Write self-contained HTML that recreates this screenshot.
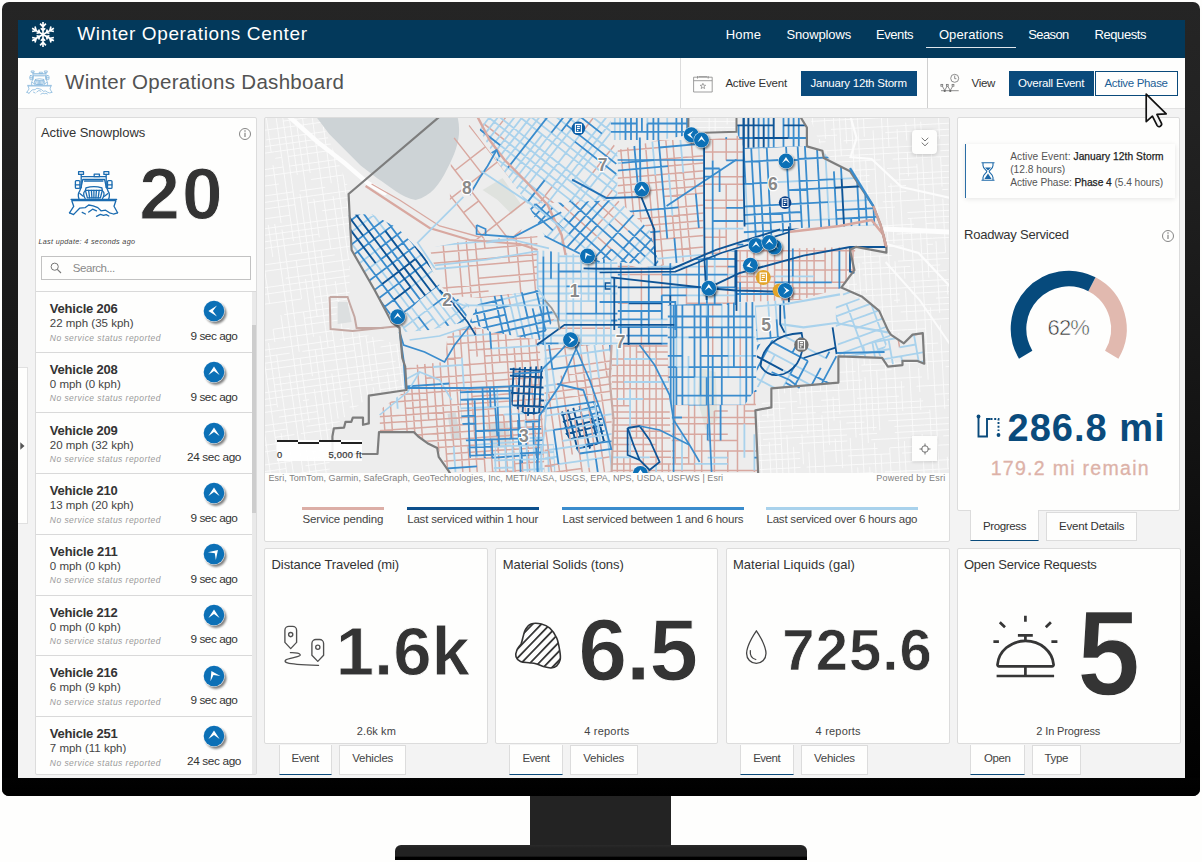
<!DOCTYPE html>
<html><head><meta charset="utf-8"><title>Winter Operations Dashboard</title>
<style>
html,body{margin:0;padding:0;}
body{width:1202px;height:862px;overflow:hidden;background:#fefefd;font-family:"Liberation Sans",sans-serif;}
#root{position:relative;width:1202px;height:862px;overflow:hidden;}
.t{position:absolute;white-space:pre;display:block;}
.card{background:#fefefd;border:1px solid #dcdcdc;box-sizing:border-box;border-radius:2px;}
.tab{background:#fefefd;border:1px solid #dcdcdc;border-top:none;box-sizing:border-box;}
.tab.on{border-bottom:1.5px solid #0a4b7c;}
svg{position:absolute;overflow:visible;}

</style></head>
<body>
<div id="root">
<div class="" style="position:absolute;left:2px;top:2px;width:1198px;height:794px;background:linear-gradient(#252525 0%,#222 15%,#131313 55%,#040404 88%,#000 100%);border-radius:7px;"></div>
<div class="" style="position:absolute;left:530px;top:796px;width:141px;height:49px;background:#232323;"></div>
<div class="" style="position:absolute;left:395px;top:845px;width:412px;height:15px;background:linear-gradient(#2a2a2a 0,#222 20%,#222 75%,#000 80%,#000 100%);border-radius:6px 6px 0 0;"></div>
<div class="" style="position:absolute;left:17.5px;top:20px;width:1167.0px;height:757.5px;background:#f3f3f3;overflow:hidden;"></div>
<div class="" style="position:absolute;left:17.5px;top:20px;width:1167.0px;height:37.5px;background:#03395b;"></div>
<svg style="left:30.600px;top:21px" width="24" height="27" viewBox="-12 -13.500 24 27"><g stroke="#fff" stroke-width="1.650" fill="none" stroke-linecap="butt">
<g id="arm"><path d="M0,0V-12.600M-2.900,-10.900L0,-7.800L2.900,-10.900M-2.200,-6.200L0,-3.900L2.200,-6.200"/></g>
<use href="#arm" transform="rotate(60)"/><use href="#arm" transform="rotate(120)"/><use href="#arm" transform="rotate(180)"/><use href="#arm" transform="rotate(240)"/><use href="#arm" transform="rotate(300)"/></g></svg>
<span class="t" style="left:77.30px;top:23.52px;font-size:19px;line-height:19px;color:#fff;letter-spacing:0.621px;">Winter Operations Center</span>
<span class="t" style="left:725.70px;top:27.50px;font-size:13px;line-height:13px;color:#fff;letter-spacing:0.204px;">Home</span>
<span class="t" style="left:786.40px;top:27.50px;font-size:13px;line-height:13px;color:#fff;letter-spacing:-0.121px;">Snowplows</span>
<span class="t" style="left:876.00px;top:27.50px;font-size:13px;line-height:13px;color:#fff;letter-spacing:-0.430px;">Events</span>
<span class="t" style="left:938.90px;top:27.50px;font-size:13px;line-height:13px;color:#fff;letter-spacing:0.090px;">Operations</span>
<span class="t" style="left:1028.20px;top:27.50px;font-size:13px;line-height:13px;color:#fff;letter-spacing:-0.599px;">Season</span>
<span class="t" style="left:1094.60px;top:27.50px;font-size:13px;line-height:13px;color:#fff;letter-spacing:-0.446px;">Requests</span>
<div class="" style="position:absolute;left:926.3px;top:46.8px;width:89.70000000000005px;height:1.2000000000000028px;background:#dfe6ec;"></div>
<div class="" style="position:absolute;left:17.5px;top:57.5px;width:1167.0px;height:51.5px;background:#fefefd;border-bottom:1px solid #e2e2e2;box-sizing:border-box;"></div>
<span class="t" style="left:65.00px;top:71.95px;font-size:20.5px;line-height:20.5px;color:#525252;letter-spacing:0.300px;">Winter Operations Dashboard</span>
<svg style="left:23.600px;top:68.200px" width="31.200" height="29.120" viewBox="0 0 60 56"><g fill="none" stroke="#86b7dc" stroke-width="1.500" stroke-linejoin="round" stroke-linecap="round">
<rect x="14.6" y="5.7" width="4.9" height="2.700"/><rect x="39.9" y="5.7" width="4.9" height="2.700"/>
<path d="M17.2,8.4V21.4M42.2,8.4V21.4M17.2,10.7H42.2"/><rect x="30.2" y="8.100" width="5.200" height="2.600"/>
<path d="M18.8,13.5H40.6L42.5,21.8M18.8,13.5L16.9,21.8M20.6,15.200H38.8"/>
<rect x="11.4" y="14.6" width="4.500" height="7.800" rx="1"/><rect x="43.5" y="14.6" width="4.500" height="7.800" rx="1"/>
<path d="M11.4,18.8h4.5M43.5,18.8h4.5"/>
<path d="M22,21.9Q29.9,19.200 37.9,21.9M22,21.9L21.4,24.4M37.9,21.9L38.3,24.4"/>
<path d="M21.4,24.4H38.3L36.4,31.8H23.4Z"/>
<path d="M24.6,24.4L25.6,31.8M27.4,24.4L27.9,31.8M29.9,24.4V31.8M32.4,24.4L31.9,31.8M35.2,24.4L34.2,31.8"/>
<path d="M16.9,21.8L15.5,25.5C13.800,27.5 14,30 15,33M20.8,25.200C19,26.500 19.5,30 21.200,32.500M42.800,21.800L44.200,25.500C45.900,27.500 45.700,30 44.700,33M38.900,25.200C40.700,26.500 40.200,30 38.500,32.500"/>
<path d="M15.800,27.600L19.200,30.200M43.900,27.600L40.500,30.200"/>
<path d="M7.100,33.4H52.6M7.800,34.7H51.9M7.800,34.7L9.7,40.3L5.5,46.8M51.9,34.7L50,40.3L53.6,46.8"/>
<path d="M5.500,46.800L9.700,48.600M9.700,48.400L15.600,42.200L21.400,41.600L24.700,39L29.200,39.900L33.800,41.600L37,44.800L41.600,44.200L45.500,46.800L49.400,48L53.600,46.800"/>
<path d="M24.700,46.100L28.600,43.200L32.500,44.800M18.200,46.400L21.400,48M32.500,50.300L36.400,48.400L39.600,49.400L42.200,48.700L44.800,50"/>
</g></svg>
<div class="" style="position:absolute;left:679.5px;top:57.5px;width:1.0px;height:50.5px;background:#dcdcdc;"></div>
<div class="" style="position:absolute;left:926.6px;top:57.5px;width:1.0px;height:50.5px;background:#cfcfcf;"></div>
<svg style="left:692px;top:73.500px" width="21" height="19" viewBox="0 0 21 19"><g fill="none" stroke="#8e8e8e" stroke-width=".85"><path d="M1.600,3.200h18.600v14.800h-18.600zM1.600,6.700h18.600M5.500,2v2.600M16.200,2v2.600M6.500,2.600h8.700"/><path d="M10.90,9.30L11.63,11.19L13.66,11.30L12.09,12.59L12.60,14.55L10.90,13.45L9.20,14.55L9.71,12.59L8.14,11.30L10.17,11.19Z" stroke-width=".8"/></g></svg>
<span class="t" style="left:725.40px;top:77.77px;font-size:11.5px;line-height:11.5px;color:#333;letter-spacing:-0.193px;">Active Event</span>
<div class="" style="position:absolute;left:800.6px;top:71.4px;width:116.0px;height:24.69999999999999px;background:#0a4a7b;"></div>
<span class="t" style="left:810.50px;top:77.87px;font-size:11.5px;line-height:11.5px;color:#fff;letter-spacing:-0.227px;">January 12th Storm</span>
<svg style="left:940px;top:73px" width="20" height="21" viewBox="0 0 20 21"><g fill="none" stroke="#7a7a7a" stroke-width=".85"><circle cx="14.700" cy="5.300" r="4"/><path d="M14.700,2.600V5.700H16.400"/><rect x=".9" y="11.400" width="1.800" height="1.800"/><rect x="6.400" y="11.400" width="1.800" height="1.800"/><rect x="12.100" y="11.400" width="1.800" height="1.800"/><path d="M2.400,13.300L4.700,17.400L7,13.300M7.800,13.300L10.300,17.400L12.700,13.300M1,17.700H18.700"/></g><circle cx="4.700" cy="18" r="1.100" fill="#666"/><circle cx="10.300" cy="18" r="1.100" fill="#666"/></svg>
<span class="t" style="left:971.50px;top:77.77px;font-size:11.5px;line-height:11.5px;color:#333;letter-spacing:-0.306px;">View</span>
<div class="" style="position:absolute;left:1008.7px;top:71.4px;width:85.29999999999995px;height:24.69999999999999px;background:#0a4a7b;"></div>
<span class="t" style="left:1018.00px;top:77.87px;font-size:11.5px;line-height:11.5px;color:#fff;letter-spacing:-0.211px;">Overall Event</span>
<div class="" style="position:absolute;left:1095.3px;top:71.4px;width:82.70000000000005px;height:24.69999999999999px;background:#fefefd;border:1.3px solid #0a4a7b;box-sizing:border-box;"></div>
<span class="t" style="left:1104.50px;top:77.87px;font-size:11.5px;line-height:11.5px;color:#1c5f96;letter-spacing:-0.330px;">Active Phase</span>
<div class="" style="position:absolute;left:17.5px;top:367.3px;width:10.8px;height:156.7px;background:#fefefd;border:1px solid #e0e0e0;border-left:none;box-sizing:border-box;"></div>
<svg style="left:19.500px;top:441.500px" width="5" height="8" viewBox="0 0 5 8"><path d="M0.300,0.300L4.500,4L0.300,7.700Z" fill="#555"/></svg>
<div class="card" style="position:absolute;left:34.8px;top:117px;width:222.5px;height:657.6px;"></div>
<span class="t" style="left:40.90px;top:126.10px;font-size:13px;line-height:13px;color:#333;letter-spacing:-0.025px;">Active Snowplows</span>
<svg style="left:238.1px;top:126.6px" width="14" height="14" viewBox="-7 -7 14 14"><circle r="5.500" fill="none" stroke="#777" stroke-width=".9"/><path d="M0,-1.200V3" stroke="#777" stroke-width="1.100"/><circle cy="-3" r=".75" fill="#777"/></svg>
<svg style="left:64px;top:166px" width="60" height="56" viewBox="0 0 60 56"><g fill="none" stroke="#1a6bb0" stroke-width="1.300" stroke-linejoin="round" stroke-linecap="round">
<rect x="14.6" y="5.7" width="4.9" height="2.700"/><rect x="39.9" y="5.7" width="4.9" height="2.700"/>
<path d="M17.2,8.4V21.4M42.2,8.4V21.4M17.2,10.7H42.2"/><rect x="30.2" y="8.100" width="5.200" height="2.600"/>
<path d="M18.8,13.5H40.6L42.5,21.8M18.8,13.5L16.9,21.8M20.6,15.200H38.8"/>
<rect x="11.4" y="14.6" width="4.500" height="7.800" rx="1"/><rect x="43.5" y="14.6" width="4.500" height="7.800" rx="1"/>
<path d="M11.4,18.8h4.5M43.5,18.8h4.5"/>
<path d="M22,21.9Q29.9,19.200 37.9,21.9M22,21.9L21.4,24.4M37.9,21.9L38.3,24.4"/>
<path d="M21.4,24.4H38.3L36.4,31.8H23.4Z"/>
<path d="M24.6,24.4L25.6,31.8M27.4,24.4L27.9,31.8M29.9,24.4V31.8M32.4,24.4L31.9,31.8M35.2,24.4L34.2,31.8"/>
<path d="M16.9,21.8L15.5,25.5C13.800,27.5 14,30 15,33M20.8,25.200C19,26.500 19.5,30 21.200,32.500M42.800,21.800L44.200,25.500C45.900,27.500 45.700,30 44.700,33M38.900,25.200C40.700,26.500 40.200,30 38.500,32.500"/>
<path d="M15.800,27.600L19.200,30.200M43.900,27.600L40.500,30.200"/>
<path d="M7.100,33.4H52.6M7.800,34.7H51.9M7.800,34.7L9.7,40.3L5.5,46.8M51.9,34.7L50,40.3L53.6,46.8"/>
<path d="M5.500,46.800L9.700,48.600M9.700,48.400L15.600,42.200L21.400,41.600L24.700,39L29.200,39.900L33.800,41.600L37,44.800L41.600,44.200L45.500,46.800L49.400,48L53.600,46.800"/>
<path d="M24.700,46.100L28.600,43.200L32.500,44.800M18.200,46.400L21.400,48M32.500,50.300L36.400,48.400L39.600,49.400L42.200,48.700L44.800,50"/>
</g></svg>
<span class="t" style="left:139.20px;top:157.11px;font-size:73px;line-height:73px;color:#333;font-weight:700;letter-spacing:2.297px;-webkit-text-stroke:.9px #fefefd;">20</span>
<span class="t" style="left:38.40px;top:238.11px;font-size:7.2px;line-height:7.2px;color:#444;font-style:italic;letter-spacing:0.331px;">Last update: 4 seconds ago</span>
<div class="" style="position:absolute;left:40.9px;top:255.7px;width:210.0px;height:24.600000000000023px;background:#fefefd;border:1px solid #c2c2c2;box-sizing:border-box;"></div>
<svg style="left:50px;top:262px" width="12" height="12" viewBox="0 0 12 12"><circle cx="4.700" cy="4.700" r="3.600" fill="none" stroke="#777" stroke-width="1"/><path d="M7.300,7.300L11,11" stroke="#777" stroke-width="1.100"/></svg>
<span class="t" style="left:72.80px;top:262.57px;font-size:11.5px;line-height:11.5px;color:#8a8a8a;letter-spacing:-0.454px;">Search...</span>
<div class="" style="position:absolute;left:35.8px;top:291px;width:220.5px;height:1px;background:#d9d9d9;"></div>
<svg width="0" height="0" style="left:0;top:0"><defs><filter id="blur1" x="-50%" y="-50%" width="200%" height="200%"><feGaussianBlur stdDeviation="1.300"/></filter></defs></svg>
<span class="t" style="left:49.80px;top:302.10px;font-size:13px;line-height:13px;color:#333;font-weight:700;letter-spacing:-0.212px;">Vehicle 206</span>
<span class="t" style="left:49.80px;top:318.17px;font-size:11.5px;line-height:11.5px;color:#444;">22 mph (35 kph)</span>
<span class="t" style="left:49.80px;top:333.60px;font-size:8.5px;line-height:8.5px;color:#9a9a9a;font-style:italic;letter-spacing:0.459px;">No service status reported</span>
<svg style="left:199.8px;top:297.30px" width="30" height="30" viewBox="-14 -14 30 30"><g transform="translate(0,0)"><circle cx="1.90" cy="2.30" r="10.60" fill="#000" opacity=".5" filter="url(#blur1)"/><circle r="10.80" fill="#f4f7fa" opacity=".85"/><circle r="10.3" fill="#0c70b6"/><path d="M3,-5.600L-5.600,0L3,5.600L-1.100,0Z" transform="rotate(0) scale(1.000)" fill="#fff"/></g></svg>
<span class="t" style="left:190.50px;top:330.91px;font-size:11.8px;line-height:11.8px;color:#333;letter-spacing:-0.471px;">9 sec ago</span>
<div class="" style="position:absolute;left:35.8px;top:351.7px;width:216.0px;height:1.0px;background:#d9d9d9;"></div>
<span class="t" style="left:49.80px;top:362.80px;font-size:13px;line-height:13px;color:#333;font-weight:700;letter-spacing:-0.212px;">Vehicle 208</span>
<span class="t" style="left:49.80px;top:378.87px;font-size:11.5px;line-height:11.5px;color:#444;">0 mph (0 kph)</span>
<span class="t" style="left:49.80px;top:394.30px;font-size:8.5px;line-height:8.5px;color:#9a9a9a;font-style:italic;letter-spacing:0.459px;">No service status reported</span>
<svg style="left:199.8px;top:358.00px" width="30" height="30" viewBox="-14 -14 30 30"><g transform="translate(0,0)"><circle cx="1.90" cy="2.30" r="10.60" fill="#000" opacity=".5" filter="url(#blur1)"/><circle r="10.80" fill="#f4f7fa" opacity=".85"/><circle r="10.3" fill="#0c70b6"/><path d="M3,-5.600L-5.600,0L3,5.600L-1.100,0Z" transform="rotate(90) scale(1.000)" fill="#fff"/></g></svg>
<span class="t" style="left:190.50px;top:391.61px;font-size:11.8px;line-height:11.8px;color:#333;letter-spacing:-0.471px;">9 sec ago</span>
<div class="" style="position:absolute;left:35.8px;top:412.4px;width:216.0px;height:1.0px;background:#d9d9d9;"></div>
<span class="t" style="left:49.80px;top:423.50px;font-size:13px;line-height:13px;color:#333;font-weight:700;letter-spacing:-0.212px;">Vehicle 209</span>
<span class="t" style="left:49.80px;top:439.57px;font-size:11.5px;line-height:11.5px;color:#444;">20 mph (32 kph)</span>
<span class="t" style="left:49.80px;top:455.00px;font-size:8.5px;line-height:8.5px;color:#9a9a9a;font-style:italic;letter-spacing:0.459px;">No service status reported</span>
<svg style="left:199.8px;top:418.70px" width="30" height="30" viewBox="-14 -14 30 30"><g transform="translate(0,0)"><circle cx="1.90" cy="2.30" r="10.60" fill="#000" opacity=".5" filter="url(#blur1)"/><circle r="10.80" fill="#f4f7fa" opacity=".85"/><circle r="10.3" fill="#0c70b6"/><path d="M3,-5.600L-5.600,0L3,5.600L-1.100,0Z" transform="rotate(90) scale(1.000)" fill="#fff"/></g></svg>
<span class="t" style="left:186.95px;top:452.31px;font-size:11.8px;line-height:11.8px;color:#333;letter-spacing:-0.358px;">24 sec ago</span>
<div class="" style="position:absolute;left:35.8px;top:473.1px;width:216.0px;height:1.0px;background:#d9d9d9;"></div>
<span class="t" style="left:49.80px;top:484.20px;font-size:13px;line-height:13px;color:#333;font-weight:700;letter-spacing:-0.212px;">Vehicle 210</span>
<span class="t" style="left:49.80px;top:500.27px;font-size:11.5px;line-height:11.5px;color:#444;">13 mph (20 kph)</span>
<span class="t" style="left:49.80px;top:515.70px;font-size:8.5px;line-height:8.5px;color:#9a9a9a;font-style:italic;letter-spacing:0.459px;">No service status reported</span>
<svg style="left:199.8px;top:479.40px" width="30" height="30" viewBox="-14 -14 30 30"><g transform="translate(0,0)"><circle cx="1.90" cy="2.30" r="10.60" fill="#000" opacity=".5" filter="url(#blur1)"/><circle r="10.80" fill="#f4f7fa" opacity=".85"/><circle r="10.3" fill="#0c70b6"/><path d="M3,-5.600L-5.600,0L3,5.600L-1.100,0Z" transform="rotate(90) scale(1.000)" fill="#fff"/></g></svg>
<span class="t" style="left:190.50px;top:513.01px;font-size:11.8px;line-height:11.8px;color:#333;letter-spacing:-0.471px;">9 sec ago</span>
<div class="" style="position:absolute;left:35.8px;top:533.8px;width:216.0px;height:1.0px;background:#d9d9d9;"></div>
<span class="t" style="left:49.80px;top:544.90px;font-size:13px;line-height:13px;color:#333;font-weight:700;letter-spacing:-0.141px;">Vehicle 211</span>
<span class="t" style="left:49.80px;top:560.97px;font-size:11.5px;line-height:11.5px;color:#444;">0 mph (0 kph)</span>
<span class="t" style="left:49.80px;top:576.40px;font-size:8.5px;line-height:8.5px;color:#9a9a9a;font-style:italic;letter-spacing:0.459px;">No service status reported</span>
<svg style="left:199.8px;top:540.10px" width="30" height="30" viewBox="-14 -14 30 30"><g transform="translate(0,0)"><circle cx="1.90" cy="2.30" r="10.60" fill="#000" opacity=".5" filter="url(#blur1)"/><circle r="10.80" fill="#f4f7fa" opacity=".85"/><circle r="10.3" fill="#0c70b6"/><path d="M3,-5.600L-5.600,0L3,5.600L-1.100,0Z" transform="rotate(135) scale(1.000)" fill="#fff"/></g></svg>
<span class="t" style="left:190.50px;top:573.71px;font-size:11.8px;line-height:11.8px;color:#333;letter-spacing:-0.471px;">9 sec ago</span>
<div class="" style="position:absolute;left:35.8px;top:594.5px;width:216.0px;height:1.0px;background:#d9d9d9;"></div>
<span class="t" style="left:49.80px;top:605.60px;font-size:13px;line-height:13px;color:#333;font-weight:700;letter-spacing:-0.212px;">Vehicle 212</span>
<span class="t" style="left:49.80px;top:621.67px;font-size:11.5px;line-height:11.5px;color:#444;">0 mph (0 kph)</span>
<span class="t" style="left:49.80px;top:637.10px;font-size:8.5px;line-height:8.5px;color:#9a9a9a;font-style:italic;letter-spacing:0.459px;">No service status reported</span>
<svg style="left:199.8px;top:600.80px" width="30" height="30" viewBox="-14 -14 30 30"><g transform="translate(0,0)"><circle cx="1.90" cy="2.30" r="10.60" fill="#000" opacity=".5" filter="url(#blur1)"/><circle r="10.80" fill="#f4f7fa" opacity=".85"/><circle r="10.3" fill="#0c70b6"/><path d="M3,-5.600L-5.600,0L3,5.600L-1.100,0Z" transform="rotate(90) scale(1.000)" fill="#fff"/></g></svg>
<span class="t" style="left:190.50px;top:634.41px;font-size:11.8px;line-height:11.8px;color:#333;letter-spacing:-0.471px;">9 sec ago</span>
<div class="" style="position:absolute;left:35.8px;top:655.2px;width:216.0px;height:1.0px;background:#d9d9d9;"></div>
<span class="t" style="left:49.80px;top:666.30px;font-size:13px;line-height:13px;color:#333;font-weight:700;letter-spacing:-0.212px;">Vehicle 216</span>
<span class="t" style="left:49.80px;top:682.37px;font-size:11.5px;line-height:11.5px;color:#444;">6 mph (9 kph)</span>
<span class="t" style="left:49.80px;top:697.80px;font-size:8.5px;line-height:8.5px;color:#9a9a9a;font-style:italic;letter-spacing:0.459px;">No service status reported</span>
<svg style="left:199.8px;top:661.50px" width="30" height="30" viewBox="-14 -14 30 30"><g transform="translate(0,0)"><circle cx="1.90" cy="2.30" r="10.60" fill="#000" opacity=".5" filter="url(#blur1)"/><circle r="10.80" fill="#f4f7fa" opacity=".85"/><circle r="10.3" fill="#0c70b6"/><path d="M3,-5.600L-5.600,0L3,5.600L-1.100,0Z" transform="rotate(62) scale(1.000)" fill="#fff"/></g></svg>
<span class="t" style="left:190.50px;top:695.11px;font-size:11.8px;line-height:11.8px;color:#333;letter-spacing:-0.471px;">9 sec ago</span>
<div class="" style="position:absolute;left:35.8px;top:715.9000000000001px;width:216.0px;height:1.0px;background:#d9d9d9;"></div>
<span class="t" style="left:49.80px;top:727.00px;font-size:13px;line-height:13px;color:#333;font-weight:700;letter-spacing:-0.212px;">Vehicle 251</span>
<span class="t" style="left:49.80px;top:743.07px;font-size:11.5px;line-height:11.5px;color:#444;">7 mph (11 kph)</span>
<span class="t" style="left:49.80px;top:758.50px;font-size:8.5px;line-height:8.5px;color:#9a9a9a;font-style:italic;letter-spacing:0.459px;">No service status reported</span>
<svg style="left:199.8px;top:722.20px" width="30" height="30" viewBox="-14 -14 30 30"><g transform="translate(0,0)"><circle cx="1.90" cy="2.30" r="10.60" fill="#000" opacity=".5" filter="url(#blur1)"/><circle r="10.80" fill="#f4f7fa" opacity=".85"/><circle r="10.3" fill="#0c70b6"/><path d="M3,-5.600L-5.600,0L3,5.600L-1.100,0Z" transform="rotate(90) scale(1.000)" fill="#fff"/></g></svg>
<span class="t" style="left:186.95px;top:755.81px;font-size:11.8px;line-height:11.8px;color:#333;letter-spacing:-0.358px;">24 sec ago</span>
<div class="" style="position:absolute;left:251.8px;top:292px;width:4.5px;height:481.6px;background:#e9e9e9;"></div>
<div class="" style="position:absolute;left:251.8px;top:325px;width:4.5px;height:188px;background:#cdcdcd;"></div>
<div class="card" style="position:absolute;left:264.4px;top:117px;width:685.7px;height:424.5px;"></div>
<svg style="left:265.400px;top:118px;overflow:hidden" width="683.700" height="355" viewBox="265.400 118 683.700 355"><rect x="264" y="117" width="687" height="357" fill="#ededed"/>
<clipPath id="fc0"><polygon points="264.0,117.0 320.0,117.0 350.0,190.0 350.0,330.0 400.0,345.0 405.0,390.0 370.0,396.0 330.0,430.0 330.0,474.0 264.0,474.0"/></clipPath><path clip-path="url(#fc0)" d="M81.8,133.0L83.6,145.9M81.8,133.0L94.7,131.2M83.6,145.9L88.1,178.1M94.7,131.2L126.9,126.7M88.1,178.1L92.7,210.3M92.7,210.3L95.4,229.6M159.0,122.2L178.4,119.4M95.4,229.6L99.0,255.3M178.4,119.4L204.1,115.8M99.0,255.3L102.6,281.1M204.1,115.8L229.9,112.2M229.9,112.2L242.7,110.4M104.4,293.9L105.3,300.4M242.7,110.4L249.2,109.5M105.3,300.4L109.9,332.6M249.2,109.5L281.3,105.0M109.9,332.6L112.6,351.9M281.3,105.0L300.7,102.3M112.6,351.9L116.2,377.6M116.2,377.6L119.8,403.4M326.4,98.6L352.2,95.0M352.2,95.0L365.0,93.2M121.6,416.2L123.4,429.1M365.0,93.2L377.9,91.4M123.4,429.1L127.0,454.9M127.0,454.9L130.7,480.6M403.6,87.8L429.4,84.2M130.7,480.6L133.4,499.9M429.4,84.2L448.7,81.5M448.7,81.5L461.6,79.6M136.1,519.2L137.9,532.1M468.0,78.7L480.9,76.9M480.9,76.9L513.1,72.4M142.4,564.3L144.2,577.2M144.2,577.2L146.9,596.5M525.9,70.6L545.3,67.9M91.5,131.7L92.4,138.1M83.2,142.7L89.6,141.8M92.4,138.1L94.2,151.0M89.6,141.8L102.5,140.0M102.5,140.0L128.2,136.3M97.8,176.7L102.3,208.9M128.2,136.3L160.4,131.8M102.3,208.9L106.8,241.1M106.8,241.1L109.6,260.4M109.6,260.4L112.3,279.7M211.9,124.6L231.2,121.9M112.3,279.7L116.8,311.9M231.2,121.9L263.4,117.3M116.8,311.9L120.4,337.6M263.4,117.3L289.1,113.7M289.1,113.7L295.6,112.8M124.0,363.4L127.6,389.1M127.6,389.1L131.3,414.9M340.6,106.5L366.4,102.9M131.3,414.9L135.8,447.1M135.8,447.1L140.3,479.2M398.6,98.3L430.7,93.8M430.7,93.8L443.6,92.0M142.1,492.1L144.8,511.4M443.6,92.0L462.9,89.3M144.8,511.4L145.7,517.9M145.7,517.9L148.5,537.2M469.4,88.4L488.7,85.7M148.5,537.2L150.3,550.1M488.7,85.7L501.6,83.9M150.3,550.1L153.9,575.8M153.9,575.8L158.4,608.0M527.3,80.3L559.5,75.7M97.9,130.8L102.4,162.9M84.1,149.1L116.3,144.6M102.4,162.9L105.1,182.3M116.3,144.6L135.6,141.9M105.1,182.3L109.7,214.4M135.6,141.9L167.7,137.4M109.7,214.4L111.5,227.3M167.7,137.4L180.6,135.5M111.5,227.3L116.0,259.5M180.6,135.5L212.8,131.0M116.0,259.5L116.9,265.9M212.8,131.0L219.2,130.1M116.9,265.9L121.4,298.1M219.2,130.1L251.4,125.6M121.4,298.1L125.9,330.3M125.9,330.3L127.8,343.2M283.6,121.1L296.5,119.3M127.8,343.2L128.7,349.6M296.5,119.3L302.9,118.4M128.7,349.6L131.4,368.9M302.9,118.4L322.2,115.6M131.4,368.9L133.2,381.8M322.2,115.6L335.1,113.8M335.1,113.8L348.0,112.0M135.0,394.7L136.8,407.5M348.0,112.0L360.8,110.2M136.8,407.5L138.6,420.4M138.6,420.4L143.1,452.6M373.7,108.4L405.9,103.9M405.9,103.9L412.3,103.0M144.0,459.0L145.8,471.9M412.3,103.0L425.2,101.2M145.8,471.9L148.6,491.2M425.2,101.2L444.5,98.5M148.6,491.2L151.3,510.5M444.5,98.5L463.8,95.7M151.3,510.5L154.9,536.3M463.8,95.7L489.6,92.1M489.6,92.1L521.8,87.6M159.4,568.5L161.2,581.3M521.8,87.6L534.6,85.8M104.3,129.9L108.9,162.0M85.0,155.5L117.2,151.0M123.6,150.1L130.0,149.2M115.2,207.1L118.8,232.8M162.2,144.7L188.0,141.1M118.8,232.8L119.7,239.3M188.0,141.1L194.4,140.2M119.7,239.3L120.6,245.7M194.4,140.2L200.8,139.3M120.6,245.7L125.1,277.9M200.8,139.3L233.0,134.7M125.1,277.9L129.7,310.1M233.0,134.7L265.2,130.2M129.7,310.1L132.4,329.4M265.2,130.2L284.5,127.5M132.4,329.4L133.3,335.8M284.5,127.5L290.9,126.6M290.9,126.6L303.8,124.8M303.8,124.8L336.0,120.3M139.6,380.9L142.3,400.2M336.0,120.3L355.3,117.6M142.3,400.2L146.9,432.4M355.3,117.6L387.5,113.0M387.5,113.0L393.9,112.1M147.8,438.8L148.7,445.3M393.9,112.1L400.4,111.2M400.4,111.2L406.8,110.3M149.6,451.7L154.1,483.9M406.8,110.3L439.0,105.8M154.1,483.9L155.0,490.3M439.0,105.8L445.4,104.9M155.0,490.3L159.5,522.5M445.4,104.9L477.6,100.4M159.5,522.5L162.2,541.8M477.6,100.4L496.9,97.7M162.2,541.8L163.1,548.2M496.9,97.7L503.4,96.7M163.1,548.2L164.0,554.7M503.4,96.7L509.8,95.8M164.0,554.7L167.7,580.4M509.8,95.8L535.5,92.2M114.0,128.5L114.9,134.9M86.3,165.2L92.8,164.3M114.9,134.9L117.6,154.2M92.8,164.3L112.1,161.6M117.6,154.2L120.3,173.6M112.1,161.6L131.4,158.9M120.3,173.6L123.9,199.3M131.4,158.9L157.1,155.3M123.9,199.3L126.7,218.6M157.1,155.3L176.4,152.5M126.7,218.6L130.3,244.4M176.4,152.5L202.2,148.9M202.2,148.9L208.6,148.0M131.2,250.8L135.7,283.0M208.6,148.0L240.8,143.5M135.7,283.0L139.3,308.7M139.3,308.7L143.8,340.9M266.6,139.9L298.7,135.4M143.8,340.9L146.6,360.2M298.7,135.4L318.1,132.6M146.6,360.2L151.1,392.4M318.1,132.6L350.2,128.1M151.1,392.4L152.9,405.3M350.2,128.1L363.1,126.3M152.9,405.3L153.8,411.7M363.1,126.3L369.5,125.4M153.8,411.7L157.4,437.5M369.5,125.4L395.3,121.8M157.4,437.5L158.3,443.9M395.3,121.8L401.7,120.9M161.9,469.6L166.5,501.8M427.5,117.3L459.7,112.7M166.5,501.8L171.0,534.0M459.7,112.7L491.8,108.2M171.0,534.0L171.9,540.4M491.8,108.2L498.3,107.3M171.9,540.4L176.4,572.6M498.3,107.3L530.5,102.8M176.4,572.6L180.9,604.8M530.5,102.8L562.6,98.3M120.4,127.6L122.2,140.5M87.2,171.6L100.1,169.8M122.2,140.5L125.9,166.2M100.1,169.8L125.9,166.2M125.9,166.2L128.6,185.5M128.6,185.5L132.2,211.3M135.8,237.0L139.4,262.8M196.7,156.3L222.4,152.6M139.4,262.8L143.9,294.9M222.4,152.6L254.6,148.1M254.6,148.1L280.3,144.5M147.6,320.7L148.5,327.1M280.3,144.5L286.8,143.6M286.8,143.6L319.0,139.1M153.0,359.3L154.8,372.2M319.0,139.1L331.8,137.3M154.8,372.2L156.6,385.1M331.8,137.3L344.7,135.5M344.7,135.5L357.6,133.6M158.4,397.9L161.1,417.2M376.9,130.9L409.1,126.4M409.1,126.4L428.4,123.7M168.4,468.7L171.1,488.0M428.4,123.7L447.7,121.0M171.1,488.0L172.9,500.9M447.7,121.0L460.6,119.2M172.9,500.9L176.5,526.7M460.6,119.2L486.3,115.6M176.5,526.7L180.1,552.4M486.3,115.6L512.1,111.9M88.1,178.1L113.9,174.5M130.5,152.4L134.1,178.2M134.1,178.2L135.0,184.6M139.6,170.8L146.1,169.9M135.0,184.6L136.8,197.5M146.1,169.9L158.9,168.1M165.4,167.2L178.3,165.4M139.5,216.8L141.3,229.7M178.3,165.4L191.1,163.6M191.1,163.6L197.6,162.7M142.2,236.1L143.1,242.5M197.6,162.7L204.0,161.8M143.1,242.5L144.1,249.0M204.0,161.8L210.4,160.9M144.1,249.0L146.8,268.3M210.4,160.9L229.7,158.2M146.8,268.3L149.5,287.6M229.7,158.2L249.1,155.5M149.5,287.6L153.1,313.4M249.1,155.5L274.8,151.8M153.1,313.4L157.6,345.5M274.8,151.8L307.0,147.3M157.6,345.5L159.4,358.4M307.0,147.3L319.9,145.5M159.4,358.4L162.1,377.7M319.9,145.5L339.2,142.8M165.8,403.5L166.7,409.9M364.9,139.2L371.4,138.3M166.7,409.9L169.4,429.2M371.4,138.3L390.7,135.6M169.4,429.2L172.1,448.5M172.1,448.5L174.8,467.8M410.0,132.8L429.3,130.1M174.8,467.8L175.7,474.3M429.3,130.1L435.7,129.2M175.7,474.3L176.6,480.7M435.7,129.2L442.2,128.3M176.6,480.7L181.1,512.9M442.2,128.3L474.3,123.8M181.1,512.9L183.0,525.8M183.0,525.8L186.6,551.5M513.0,118.4L525.8,116.6M188.4,564.4L192.9,596.6M525.8,116.6L558.0,112.0M133.3,125.8L136.9,151.5M89.0,184.5L114.8,180.9M136.9,151.5L137.8,158.0M114.8,180.9L121.2,180.0M137.8,158.0L142.3,190.1M121.2,180.0L153.4,175.5M142.3,190.1L145.1,209.5M153.4,175.5L172.7,172.8M172.7,172.8L179.2,171.8M146.0,215.9L150.5,248.1M179.2,171.8L211.3,167.3M150.5,248.1L155.0,280.3M211.3,167.3L243.5,162.8M155.0,280.3L158.6,306.0M158.6,306.0L159.5,312.4M159.5,312.4L160.4,318.9M275.7,158.3L282.1,157.4M160.4,318.9L161.3,325.3M161.3,325.3L162.2,331.8M288.6,156.5L295.0,155.6M162.2,331.8L165.9,357.5M295.0,155.6L320.8,151.9M165.9,357.5L167.7,370.4M320.8,151.9L333.6,150.1M167.7,370.4L171.3,396.1M333.6,150.1L359.4,146.5M171.3,396.1L173.1,409.0M359.4,146.5L372.3,144.7M173.1,409.0L175.8,428.3M372.3,144.7L391.6,142.0M179.4,454.1L183.1,479.8M183.1,479.8L185.8,499.1M462.4,132.0L481.7,129.3M188.5,518.4L189.4,524.9M481.7,129.3L488.1,128.4M189.4,524.9L190.3,531.3M488.1,128.4L494.6,127.5M190.3,531.3L192.1,544.2M494.6,127.5L507.4,125.7M192.1,544.2L195.7,569.9M507.4,125.7L533.2,122.1M195.7,569.9L197.5,582.8M533.2,122.1L546.1,120.3M143.0,124.4L143.9,130.9M143.9,130.9L145.7,143.7M96.8,193.3L109.7,191.5M109.7,191.5L141.9,186.9M150.2,175.9L154.7,208.1M141.9,186.9L174.1,182.4M154.7,208.1L159.2,240.3M174.1,182.4L206.3,177.9M206.3,177.9L225.6,175.2M162.0,259.6L163.8,272.5M163.8,272.5L164.7,278.9M238.4,173.4L244.9,172.5M244.9,172.5L264.2,169.7M264.2,169.7L270.6,168.8M168.3,304.7L170.1,317.5M270.6,168.8L283.5,167.0M170.1,317.5L171.0,324.0M171.0,324.0L172.8,336.8M289.9,166.1L302.8,164.3M172.8,336.8L173.7,343.3M302.8,164.3L309.3,163.4M173.7,343.3L177.3,369.0M309.3,163.4L335.0,159.8M177.3,369.0L181.0,394.8M335.0,159.8L360.7,156.2M181.0,394.8L181.9,401.2M360.7,156.2L367.2,155.3M181.9,401.2L184.6,420.5M367.2,155.3L386.5,152.6M184.6,420.5L188.2,446.3M386.5,152.6L412.2,148.9M188.2,446.3L190.0,459.1M412.2,148.9L425.1,147.1M190.0,459.1L193.6,484.9M425.1,147.1L450.9,143.5M193.6,484.9L194.5,491.3M450.9,143.5L457.3,142.6M194.5,491.3L196.3,504.2M457.3,142.6L470.2,140.8M196.3,504.2L200.9,536.4M470.2,140.8L502.4,136.3M502.4,136.3L508.8,135.4M201.8,542.8L204.5,562.1M508.8,135.4L528.1,132.7M204.5,562.1L205.4,568.6M528.1,132.7L534.5,131.7M205.4,568.6L209.0,594.3M149.4,123.5L151.2,136.4M91.3,200.6L104.2,198.8M151.2,136.4L153.0,149.3M104.2,198.8L117.1,197.0M153.0,149.3L153.9,155.7M153.9,155.7L156.6,175.0M123.5,196.1L142.8,193.4M156.6,175.0L160.2,200.8M160.2,200.8L163.9,226.5M168.5,189.7L194.3,186.1M163.9,226.5L166.6,245.8M194.3,186.1L213.6,183.4M166.6,245.8L167.5,252.3M213.6,183.4L220.0,182.5M167.5,252.3L168.4,258.7M220.0,182.5L226.5,181.6M168.4,258.7L169.3,265.1M226.5,181.6L232.9,180.7M169.3,265.1L173.8,297.3M232.9,180.7L265.1,176.2M265.1,176.2L297.3,171.7M178.3,329.5L182.0,355.2M297.3,171.7L323.0,168.0M323.0,168.0L342.3,165.3M184.7,374.6L187.4,393.9M342.3,165.3L361.6,162.6M187.4,393.9L191.0,419.6M361.6,162.6L387.4,159.0M191.0,419.6L194.6,445.4M387.4,159.0L413.1,155.4M194.6,445.4L197.3,464.7M413.1,155.4L432.5,152.7M197.3,464.7L201.0,490.4M432.5,152.7L458.2,149.0M458.2,149.0L483.9,145.4M204.6,516.2L206.4,529.0M483.9,145.4L496.8,143.6M206.4,529.0L208.2,541.9M496.8,143.6L509.7,141.8M208.2,541.9L210.9,561.2M509.7,141.8L529.0,139.1M529.0,139.1L561.2,134.6M159.0,122.2L160.0,128.6M92.7,210.3L99.1,209.4M99.1,209.4L105.5,208.5M160.9,135.0L161.8,141.5M105.5,208.5L112.0,207.5M162.7,147.9L166.3,173.7M144.2,203.0L163.5,200.3M169.0,193.0L170.8,205.8M170.8,205.8L171.7,212.3M176.3,198.5L182.8,197.6M171.7,212.3L175.3,238.0M182.8,197.6L208.5,194.0M175.3,238.0L177.1,250.9M177.1,250.9L179.0,263.8M221.4,192.2L234.3,190.4M179.0,263.8L180.8,276.6M234.3,190.4L247.1,188.5M180.8,276.6L185.3,308.8M247.1,188.5L279.3,184.0M185.3,308.8L189.8,341.0M189.8,341.0L191.6,353.9M311.5,179.5L324.4,177.7M324.4,177.7L330.8,176.8M330.8,176.8L337.3,175.9M193.4,366.8L196.1,386.1M337.3,175.9L356.6,173.2M356.6,173.2L369.4,171.4M197.9,398.9L198.9,405.4M369.4,171.4L375.9,170.5M198.9,405.4L201.6,424.7M375.9,170.5L395.2,167.7M201.6,424.7L202.5,431.1M401.6,166.8L427.4,163.2M206.1,456.9L210.6,489.1M427.4,163.2L459.6,158.7M210.6,489.1L211.5,495.5M459.6,158.7L466.0,157.8M466.0,157.8L472.4,156.9M212.4,501.9L215.1,521.2M472.4,156.9L491.7,154.2M215.1,521.2L219.7,553.4M491.7,154.2L523.9,149.7M219.7,553.4L220.6,559.9M523.9,149.7L530.4,148.7M220.6,559.9L221.5,566.3M530.4,148.7L536.8,147.8M221.5,566.3L223.3,579.2M94.0,219.9L126.2,215.4M190.6,206.3L209.9,203.6M185.0,236.7L185.9,243.1M209.9,203.6L216.3,202.7M185.9,243.1L190.4,275.3M216.3,202.7L248.5,198.2M190.4,275.3L191.3,281.7M248.5,198.2L254.9,197.3M191.3,281.7L194.9,307.5M254.9,197.3L280.7,193.7M194.9,307.5L196.7,320.3M280.7,193.7L293.6,191.9M196.7,320.3L197.7,326.8M197.7,326.8L201.3,352.5M300.0,191.0L325.7,187.3M345.1,184.6L364.4,181.9M206.7,391.1L210.3,416.9M210.3,416.9L212.1,429.8M212.1,429.8L214.8,449.1M403.0,176.5L422.3,173.8M422.3,173.8L441.6,171.1M441.6,171.1L454.5,169.3M219.4,481.3L220.3,487.7M454.5,169.3L460.9,168.4M220.3,487.7L224.8,519.9M224.8,519.9L225.7,526.3M493.1,163.8L499.5,162.9M225.7,526.3L229.3,552.1M525.3,159.3L544.6,156.6M175.1,119.9L176.9,132.8M94.9,226.4L107.8,224.5M107.8,224.5L127.1,221.8M179.7,152.1L180.6,158.5M127.1,221.8L133.5,220.9M180.6,158.5L184.2,184.3M133.5,220.9L159.3,217.3M184.2,184.3L185.1,190.7M159.3,217.3L165.7,216.4M178.6,214.6L191.5,212.8M188.7,216.5L192.3,242.2M192.3,242.2L196.9,274.4M217.2,209.2L249.4,204.6M196.9,274.4L197.8,280.8M249.4,204.6L255.8,203.7M197.8,280.8L201.4,306.6M255.8,203.7L281.6,200.1M201.4,306.6L205.9,338.8M281.6,200.1L313.8,195.6M205.9,338.8L207.7,351.6M313.8,195.6L326.6,193.8M326.6,193.8L339.5,192.0M209.5,364.5L213.1,390.2M339.5,192.0L365.3,188.4M365.3,188.4L384.6,185.6M215.8,409.6L220.4,441.7M384.6,185.6L416.8,181.1M220.4,441.7L224.9,473.9M416.8,181.1L448.9,176.6M226.7,486.8L231.2,519.0M461.8,174.8L494.0,170.3M231.2,519.0L235.8,551.2M494.0,170.3L526.2,165.7M235.8,551.2L238.5,570.5M526.2,165.7L545.5,163.0M181.6,119.0L182.5,125.4M95.8,232.8L102.3,231.9M182.5,125.4L183.4,131.9M183.4,131.9L187.0,157.6M187.0,157.6L188.8,170.5M188.8,170.5L192.4,196.2M147.3,225.6L173.1,221.9M173.1,221.9L179.5,221.0M193.3,202.7L197.0,228.4M179.5,221.0L205.3,217.4M197.0,228.4L200.6,254.2M200.6,254.2L201.5,260.6M201.5,260.6L202.4,267.0M237.4,212.9L243.9,212.0M202.4,267.0L203.3,273.5M204.2,279.9L205.1,286.4M205.1,286.4L208.7,312.1M263.2,209.3L288.9,205.6M208.7,312.1L209.6,318.5M288.9,205.6L295.4,204.7M209.6,318.5L211.4,331.4M211.4,331.4L213.2,344.3M308.2,202.9L321.1,201.1M213.2,344.3L216.9,370.0M321.1,201.1L346.9,197.5M216.9,370.0L217.8,376.5M346.9,197.5L353.3,196.6M217.8,376.5L220.5,395.8M220.5,395.8L222.3,408.7M222.3,408.7L226.8,440.8M385.5,192.1L417.7,187.6M226.8,440.8L230.4,466.6M230.4,466.6L233.1,485.9M443.4,183.9L462.7,181.2M233.1,485.9L235.9,505.2M462.7,181.2L482.0,178.5M235.9,505.2L240.4,537.4M482.0,178.5L514.2,174.0M243.1,556.7L244.9,569.6M533.5,171.3L546.4,169.5M191.2,117.6L192.1,124.1M97.2,242.4L103.6,241.5M192.1,124.1L193.0,130.5M103.6,241.5L110.1,240.6M193.0,130.5L196.7,156.3M110.1,240.6L135.8,237.0M196.7,156.3L201.2,188.4M135.8,237.0L168.0,232.5M168.0,232.5L193.7,228.9M204.8,214.2L209.3,246.4M193.7,228.9L225.9,224.4M209.3,246.4L211.1,259.2M211.1,259.2L212.9,272.1M212.9,272.1L214.8,285.0M214.8,285.0L218.4,310.7M264.5,218.9L290.3,215.3M218.4,310.7L222.9,342.9M322.5,210.8L348.2,207.2M226.5,368.7L231.0,400.9M348.2,207.2L380.4,202.6M231.0,400.9L234.7,426.6M380.4,202.6L406.1,199.0M234.7,426.6L236.5,439.5M406.1,199.0L419.0,197.2M236.5,439.5L240.1,465.2M419.0,197.2L444.8,193.6M240.1,465.2L242.8,484.5M444.8,193.6L464.1,190.9M483.4,188.2L502.7,185.5M248.2,523.2L250.0,536.0M502.7,185.5L515.6,183.6M250.0,536.0L252.7,555.3M515.6,183.6L534.9,180.9M534.9,180.9L560.6,177.3M200.9,116.3L203.6,135.6M203.6,135.6L208.1,167.8M117.9,249.4L150.0,244.9M208.1,167.8L212.6,200.0M150.0,244.9L182.2,240.3M182.2,240.3L214.4,235.8M217.2,232.1L218.1,238.6M214.4,235.8L220.8,234.9M220.8,234.9L233.7,233.1M219.9,251.5L221.7,264.3M233.7,233.1L246.6,231.3M221.7,264.3L222.6,270.8M222.6,270.8L227.1,302.9M253.0,230.4L285.2,225.9M227.1,302.9L231.6,335.1M285.2,225.9L317.4,221.3M231.6,335.1L232.5,341.6M317.4,221.3L323.8,220.4M232.5,341.6L234.4,354.4M323.8,220.4L336.7,218.6M234.4,354.4L235.3,360.9M336.7,218.6L343.1,217.7M235.3,360.9L238.0,380.2M343.1,217.7L362.4,215.0M238.0,380.2L238.9,386.6M238.9,386.6L243.4,418.8M368.9,214.1L401.1,209.6M243.4,418.8L245.2,431.7M401.1,209.6L413.9,207.8M245.2,431.7L246.1,438.1M246.1,438.1L247.9,451.0M247.9,451.0L250.6,470.3M433.3,205.1L452.6,202.3M250.6,470.3L252.5,483.2M452.6,202.3L465.4,200.5M252.5,483.2L253.4,489.6M465.4,200.5L471.9,199.6M471.9,199.6L497.6,196.0M257.0,515.4L259.7,534.7M497.6,196.0L516.9,193.3M259.7,534.7L263.3,560.4M263.3,560.4L266.0,579.7M542.7,189.7L562.0,187.0M207.3,115.4L208.2,121.8M99.4,258.5L105.9,257.6M208.2,121.8L210.9,141.1M105.9,257.6L125.2,254.9M125.2,254.9L150.9,251.3M150.9,251.3L157.4,250.4M157.4,250.4L183.1,246.8M219.1,199.1L221.8,218.4M183.1,246.8L202.4,244.1M221.8,218.4L222.7,224.8M202.4,244.1L208.9,243.2M222.7,224.8L227.2,257.0M208.9,243.2L241.1,238.6M227.2,257.0L228.1,263.4M228.1,263.4L232.7,295.6M247.5,237.7L279.7,233.2M232.7,295.6L236.3,321.4M279.7,233.2L305.4,229.6M236.3,321.4L238.1,334.2M305.4,229.6L318.3,227.8M238.1,334.2L242.6,366.4M318.3,227.8L350.5,223.3M242.6,366.4L247.1,398.6M350.5,223.3L382.7,218.7M382.7,218.7L414.8,214.2M251.7,430.8L253.5,443.7M414.8,214.2L427.7,212.4M253.5,443.7L256.2,463.0M427.7,212.4L447.0,209.7M256.2,463.0L258.0,475.8M447.0,209.7L459.9,207.9M258.0,475.8L261.6,501.6M485.7,204.3L511.4,200.6M265.2,527.3L266.1,533.8M511.4,200.6L517.8,199.7M266.1,533.8L267.0,540.2M517.8,199.7L524.3,198.8M267.0,540.2L268.8,553.1M524.3,198.8L537.1,197.0M268.8,553.1L271.6,572.4M213.8,114.5L215.6,127.3M100.4,265.0L113.2,263.2M215.6,127.3L220.1,159.5M113.2,263.2L145.4,258.6M220.1,159.5L221.9,172.4M145.4,258.6L158.3,256.8M221.9,172.4L226.4,204.6M158.3,256.8L190.5,252.3M226.4,204.6L230.9,236.8M190.5,252.3L222.7,247.8M230.9,236.8L235.5,269.0M222.7,247.8L254.8,243.3M235.5,269.0L238.2,288.3M254.8,243.3L274.1,240.5M238.2,288.3L241.8,314.0M274.1,240.5L299.9,236.9M241.8,314.0L244.5,333.3M299.9,236.9L319.2,234.2M244.5,333.3L248.1,359.1M248.1,359.1L251.8,384.8M251.8,384.8L255.4,410.6M370.7,227.0L396.4,223.4M255.4,410.6L259.0,436.3M396.4,223.4L422.2,219.7M259.0,436.3L263.5,468.5M422.2,219.7L454.4,215.2M454.4,215.2L467.2,213.4M265.3,481.4L269.8,513.6M269.8,513.6L272.6,532.9M499.4,208.9L518.7,206.2M272.6,532.9L274.4,545.7M518.7,206.2L531.6,204.4M274.4,545.7L278.9,577.9M531.6,204.4L563.8,199.8M220.2,113.6L224.7,145.8M101.3,271.4L133.4,266.9M133.4,266.9L152.8,264.2M227.4,165.1L232.0,197.2M152.8,264.2L184.9,259.6M232.0,197.2L235.6,223.0M184.9,259.6L210.7,256.0M235.6,223.0L238.3,242.3M210.7,256.0L230.0,253.3M238.3,242.3L241.9,268.1M230.0,253.3L255.7,249.7M241.9,268.1L243.7,280.9M255.7,249.7L268.6,247.9M243.7,280.9L245.5,293.8M268.6,247.9L281.5,246.1M245.5,293.8L249.1,319.5M281.5,246.1L307.2,242.5M249.1,319.5L250.1,326.0M307.2,242.5L313.7,241.6M250.1,326.0L251.9,338.9M313.7,241.6L326.5,239.7M251.9,338.9L252.8,345.3M326.5,239.7L333.0,238.8M333.0,238.8L358.7,235.2M256.4,371.0L260.0,396.8M358.7,235.2L384.5,231.6M260.0,396.8L262.7,416.1M384.5,231.6L403.8,228.9M403.8,228.9L416.7,227.1M264.5,429.0L268.1,454.7M416.7,227.1L442.4,223.5M268.1,454.7L270.0,467.6M442.4,223.5L455.3,221.7M270.0,467.6L271.8,480.5M455.3,221.7L468.2,219.8M271.8,480.5L274.5,499.8M468.2,219.8L487.5,217.1M274.5,499.8L275.4,506.2M487.5,217.1L493.9,216.2M275.4,506.2L276.3,512.6M493.9,216.2L500.3,215.3M276.3,512.6L277.2,519.1M500.3,215.3L506.8,214.4M277.2,519.1L279.0,532.0M506.8,214.4L519.6,212.6M279.0,532.0L283.5,564.1M229.9,112.2L233.5,138.0M102.6,281.1L128.4,277.4M128.4,277.4L154.1,273.8M237.1,163.7L239.8,183.0M154.1,273.8L173.4,271.1M239.8,183.0L243.4,208.8M173.4,271.1L199.2,267.5M243.4,208.8L247.0,234.5M199.2,267.5L224.9,263.9M247.0,234.5L248.8,247.4M248.8,247.4L251.6,266.7M237.8,262.1L257.1,259.4M251.6,266.7L256.1,298.9M256.1,298.9L257.9,311.8M289.3,254.8L302.2,253.0M257.9,311.8L258.8,318.2M302.2,253.0L308.6,252.1M258.8,318.2L260.6,331.1M308.6,252.1L321.5,250.3M260.6,331.1L265.1,363.2M321.5,250.3L353.6,245.8M265.1,363.2L266.0,369.7M266.0,369.7L267.8,382.6M360.1,244.9L373.0,243.1M267.8,382.6L272.4,414.7M373.0,243.1L405.1,238.5M272.4,414.7L276.9,446.9M405.1,238.5L437.3,234.0M276.9,446.9L277.8,453.4M437.3,234.0L443.8,233.1M277.8,453.4L281.4,479.1M443.8,233.1L469.5,229.5M281.4,479.1L285.9,511.3M285.9,511.3L288.7,530.6M288.7,530.6L292.3,556.3M521.0,222.3L546.7,218.6M292.3,556.3L295.0,575.7M546.7,218.6L566.1,215.9M236.3,111.3L237.2,117.7M103.5,287.5L110.0,286.6M237.2,117.7L240.8,143.5M110.0,286.6L135.7,283.0M240.8,143.5L245.3,175.7M135.7,283.0L167.9,278.5M245.3,175.7L247.1,188.5M167.9,278.5L180.8,276.6M247.1,188.5L248.0,195.0M180.8,276.6L187.2,275.7M248.0,195.0L251.7,220.7M187.2,275.7L212.9,272.1M251.7,220.7L256.2,252.9M256.2,252.9L258.0,265.8M245.1,267.6L258.0,265.8M258.0,265.8L277.3,263.1M260.7,285.1L264.3,310.8M277.3,263.1L303.1,259.5M303.1,259.5L335.2,254.9M268.9,343.0L273.4,375.2M273.4,375.2L275.2,388.1M367.4,250.4L380.3,248.6M275.2,388.1L277.9,407.4M380.3,248.6L399.6,245.9M399.6,245.9L425.4,242.3M281.5,433.1L285.1,458.9M425.4,242.3L451.1,238.7M285.1,458.9L289.7,491.1M451.1,238.7L483.3,234.1M483.3,234.1L509.0,230.5M293.3,516.8L296.0,536.1M509.0,230.5L528.3,227.8M296.0,536.1L298.7,555.4M298.7,555.4L301.4,574.8M547.7,225.1L567.0,222.4M104.4,293.9L110.9,293.0M243.6,116.8L244.5,123.3M110.9,293.0L117.3,292.1M244.5,123.3L249.1,155.5M117.3,292.1L149.5,287.6M249.1,155.5L251.8,174.8M251.8,174.8L252.7,181.2M168.8,284.9L175.2,284.0M175.2,284.0L201.0,280.4M256.3,207.0L259.0,226.3M201.0,280.4L220.3,277.7M259.0,226.3L262.6,252.0M262.6,252.0L265.3,271.3M246.0,274.0L265.3,271.3M265.3,271.3L268.1,290.6M265.3,271.3L284.7,268.6M268.1,290.6L269.9,303.5M284.7,268.6L297.5,266.8M297.5,266.8L323.3,263.2M273.5,329.3L275.3,342.1M323.3,263.2L336.1,261.4M336.1,261.4L349.0,259.6M277.1,355.0L280.7,380.7M349.0,259.6L374.8,255.9M280.7,380.7L281.6,387.2M281.6,387.2L285.2,412.9M285.2,412.9L289.8,445.1M407.0,251.4L439.1,246.9M289.8,445.1L290.7,451.6M290.7,451.6L294.3,477.3M445.6,246.0L471.3,242.4M294.3,477.3L297.0,496.6M471.3,242.4L490.6,239.7M297.0,496.6L298.8,509.5M490.6,239.7L503.5,237.9M298.8,509.5L302.4,535.2M503.5,237.9L529.2,234.2M302.4,535.2L306.0,561.0M529.2,234.2L555.0,230.6M252.4,109.0L256.9,141.2M105.8,303.6L138.0,299.1M256.9,141.2L261.4,173.4M261.4,173.4L263.2,186.3M170.1,294.5L183.0,292.7M183.0,292.7L189.5,291.8M189.5,291.8L221.6,287.3M268.7,224.9L273.2,257.1M286.0,278.3L311.8,274.6M281.3,315.0L284.9,340.8M311.8,274.6L337.5,271.0M337.5,271.0L369.7,266.5M289.5,373.0L290.4,379.4M369.7,266.5L376.1,265.6M290.4,379.4L294.9,411.6M294.9,411.6L297.6,430.9M408.3,261.1L427.6,258.4M297.6,430.9L301.2,456.6M427.6,258.4L453.4,254.7M301.2,456.6L303.9,475.9M303.9,475.9L306.7,495.3M472.7,252.0L492.0,249.3M306.7,495.3L311.2,527.4M492.0,249.3L524.2,244.8M311.2,527.4L312.1,533.9M524.2,244.8L530.6,243.9M530.6,243.9L543.5,242.1M313.9,546.7L318.4,578.9M543.5,242.1L575.7,237.6M258.8,108.1L261.5,127.5M126.0,307.3L138.9,305.5M263.3,140.3L264.2,146.8M138.9,305.5L145.3,304.6M145.3,304.6L177.5,300.1M177.5,300.1L196.8,297.4M196.8,297.4L222.5,293.7M275.1,224.0L276.0,230.4M276.0,230.4L279.6,256.2M229.0,292.8L254.7,289.2M279.6,256.2L284.1,288.4M254.7,289.2L286.9,284.7M284.1,288.4L288.7,320.6M286.9,284.7L319.1,280.2M288.7,320.6L291.4,339.9M319.1,280.2L338.4,277.5M291.4,339.9L294.1,359.2M338.4,277.5L357.7,274.7M294.1,359.2L298.6,391.4M357.7,274.7L389.9,270.2M298.6,391.4L301.3,410.7M389.9,270.2L409.2,267.5M301.3,410.7L305.0,436.4M409.2,267.5L435.0,263.9M305.0,436.4L306.8,449.3M435.0,263.9L447.8,262.1M306.8,449.3L308.6,462.2M308.6,462.2L311.3,481.5M460.7,260.3L480.0,257.6M311.3,481.5L314.9,507.2M480.0,257.6L505.8,253.9M314.9,507.2L317.6,526.5M317.6,526.5L320.3,545.8M525.1,251.2L544.4,248.5M320.3,545.8L324.0,571.6M544.4,248.5L570.1,244.9M265.3,107.2L267.1,120.1M107.6,316.5L120.5,314.7M267.1,120.1L268.9,133.0M120.5,314.7L133.3,312.8M268.9,133.0L271.6,152.3M133.3,312.8L152.6,310.1M159.1,309.2L165.5,308.3M273.4,165.2L277.0,190.9M165.5,308.3L191.3,304.7M277.0,190.9L281.5,223.1M191.3,304.7L223.5,300.2M223.5,300.2L229.9,299.3M282.4,229.5L287.0,261.7M229.9,299.3L262.1,294.8M287.0,261.7L287.9,268.2M262.1,294.8L268.5,293.9M287.9,268.2L288.8,274.6M268.5,293.9L274.9,292.9M288.8,274.6L289.7,281.0M274.9,292.9L281.4,292.0M289.7,281.0L293.3,306.8M281.4,292.0L307.1,288.4M293.3,306.8L295.1,319.6M307.1,288.4L320.0,286.6M295.1,319.6L299.6,351.8M320.0,286.6L352.2,282.1M352.2,282.1L358.6,281.2M300.5,358.3L301.4,364.7M358.6,281.2L365.1,280.3M301.4,364.7L303.2,377.6M365.1,280.3L377.9,278.5M303.2,377.6L307.8,409.8M377.9,278.5L410.1,273.9M307.8,409.8L309.6,422.6M423.0,272.1L442.3,269.4M312.3,441.9L314.1,454.8M442.3,269.4L455.2,267.6M314.1,454.8L316.8,474.1M455.2,267.6L474.5,264.9M474.5,264.9L506.7,260.4M321.3,506.3L324.1,525.6M506.7,260.4L526.0,257.7M324.1,525.6L325.9,538.5M526.0,257.7L538.9,255.9M325.9,538.5L329.5,564.2M538.9,255.9L564.6,252.2M274.9,105.9L279.4,138.1M108.9,326.1L141.1,321.6M279.4,138.1L280.3,144.5M141.1,321.6L147.6,320.7M280.3,144.5L283.1,163.8M147.6,320.7L166.9,318.0M283.1,163.8L286.7,189.6M286.7,189.6L289.4,208.9M192.6,314.4L211.9,311.6M289.4,208.9L293.9,241.1M211.9,311.6L244.1,307.1M257.0,305.3L263.4,304.4M296.6,260.4L300.2,286.1M263.4,304.4L289.2,300.8M300.2,286.1L302.0,299.0M289.2,300.8L302.0,299.0M303.9,311.9L306.6,331.2M314.9,297.2L334.2,294.5M306.6,331.2L308.4,344.0M334.2,294.5L347.1,292.7M308.4,344.0L312.9,376.2M347.1,292.7L379.3,288.1M379.3,288.1L392.2,286.3M314.7,389.1L315.6,395.5M392.2,286.3L398.6,285.4M315.6,395.5L320.1,427.7M398.6,285.4L430.8,280.9M320.1,427.7L322.9,447.0M430.8,280.9L450.1,278.2M322.9,447.0L326.5,472.8M450.1,278.2L475.8,274.6M326.5,472.8L331.0,505.0M475.8,274.6L508.0,270.0M331.0,505.0L332.8,517.8M508.0,270.0L520.9,268.2M332.8,517.8L337.3,550.0M337.3,550.0L339.1,562.9M553.1,263.7L566.0,261.9M109.9,332.6L122.7,330.7M283.2,117.8L285.0,130.7M122.7,330.7L135.6,328.9M285.0,130.7L289.5,162.9M135.6,328.9L167.8,324.4M289.5,162.9L291.3,175.8M167.8,324.4L180.7,322.6M291.3,175.8L295.8,208.0M180.7,322.6L212.8,318.1M295.8,208.0L298.5,227.3M212.8,318.1L232.1,315.4M298.5,227.3L302.2,253.0M232.1,315.4L257.9,311.8M305.8,278.8L310.3,311.0M310.3,311.0L313.9,336.7M315.8,303.6L341.6,300.0M341.6,300.0L354.4,298.2M315.7,349.6L319.3,375.3M354.4,298.2L380.2,294.6M319.3,375.3L323.0,401.1M380.2,294.6L405.9,290.9M323.0,401.1L326.6,426.8M405.9,290.9L431.7,287.3M326.6,426.8L329.3,446.1M451.0,284.6L470.3,281.9M332.0,465.4L333.8,478.3M470.3,281.9L483.2,280.1M333.8,478.3L338.3,510.5M338.3,510.5L342.0,536.2M515.4,275.6L541.1,271.9M342.0,536.2L346.5,568.4M541.1,271.9L573.3,267.4M287.8,104.1L289.6,116.9M110.8,339.0L123.6,337.2M289.6,116.9L291.4,129.8M291.4,129.8L295.9,162.0M295.9,162.0L297.7,174.9M168.7,330.9L181.6,329.0M181.6,329.0L200.9,326.3M300.4,194.2L304.1,219.9M200.9,326.3L226.6,322.7M304.1,219.9L305.0,226.4M226.6,322.7L233.1,321.8M305.0,226.4L309.5,258.6M233.1,321.8L265.2,317.3M309.5,258.6L312.2,277.9M312.2,277.9L315.8,303.6M284.5,314.6L310.3,311.0M315.8,303.6L317.6,316.5M310.3,311.0L323.2,309.1M323.2,309.1L342.5,306.4M320.3,335.8L324.9,368.0M342.5,306.4L374.7,301.9M324.9,368.0L326.7,380.9M374.7,301.9L387.5,300.1M326.7,380.9L330.3,406.6M387.5,300.1L413.3,296.5M330.3,406.6L332.1,419.5M413.3,296.5L426.2,294.7M332.1,419.5L336.6,451.7M426.2,294.7L458.3,290.1M458.3,290.1L464.8,289.2M464.8,289.2L497.0,284.7M342.1,490.3L346.6,522.5M346.6,522.5L351.1,554.6M294.2,103.2L298.7,135.4M111.7,345.4L143.8,340.9M298.7,135.4L300.6,148.2M300.6,148.2L304.2,174.0M156.7,339.1L182.5,335.5M304.2,174.0L306.9,193.3M182.5,335.5L201.8,332.8M306.9,193.3L311.4,225.5M201.8,332.8L234.0,328.2M311.4,225.5L312.3,231.9M234.0,328.2L240.4,327.3M312.3,231.9L316.8,264.1M316.8,264.1L321.4,296.3M321.4,296.3L325.9,328.5M304.8,318.3L336.9,313.8M325.9,328.5L328.6,347.8M356.3,311.1L382.0,307.4M332.2,373.5L334.0,386.4M382.0,307.4L394.9,305.6M334.0,386.4L334.9,392.8M394.9,305.6L401.3,304.7M334.9,392.8L336.7,405.7M401.3,304.7L414.2,302.9M336.7,405.7L338.5,418.6M414.2,302.9L427.1,301.1M427.1,301.1L446.4,298.4M446.4,298.4L452.8,297.5M342.2,444.3L344.0,457.2M452.8,297.5L465.7,295.7M344.0,457.2L344.9,463.6M465.7,295.7L472.1,294.8M344.9,463.6L345.8,470.1M345.8,470.1L349.4,495.8M478.6,293.9L504.3,290.2M349.4,495.8L352.1,515.1M504.3,290.2L523.6,287.5M352.1,515.1L355.7,540.9M523.6,287.5L549.4,283.9M355.7,540.9L356.6,547.3M549.4,283.9L555.8,283.0M356.6,547.3L359.4,566.6M300.7,102.3L304.3,128.0M112.6,351.9L138.3,348.2M138.3,348.2L144.7,347.3M305.2,134.4L307.0,147.3M144.7,347.3L157.6,345.5M307.0,147.3L310.6,173.1M183.4,341.9L189.8,341.0M189.8,341.0L209.1,338.3M314.2,198.8L315.1,205.2M209.1,338.3L215.6,337.4M315.1,205.2L319.7,237.4M215.6,337.4L247.7,332.9M321.5,250.3L323.3,263.2M323.3,263.2L325.1,276.1M273.5,329.3L286.4,327.4M325.1,276.1L326.0,282.5M286.4,327.4L292.8,326.5M326.0,282.5L330.5,314.7M292.8,326.5L325.0,322.0M330.5,314.7L335.0,346.9M325.0,322.0L357.2,317.5M335.0,346.9L336.8,359.7M336.8,359.7L341.4,391.9M370.0,315.7L402.2,311.2M341.4,391.9L345.0,417.7M402.2,311.2L428.0,307.5M345.0,417.7L346.8,430.5M346.8,430.5L348.6,443.4M453.7,303.9L460.1,303.0M352.2,469.2L354.9,488.5M479.5,300.3L498.8,297.6M354.9,488.5L357.6,507.8M357.6,507.8L360.4,527.1M518.1,294.9L537.4,292.2M360.4,527.1L363.1,546.4M537.4,292.2L556.7,289.4M363.1,546.4L365.8,565.7M311.2,107.3L314.8,133.1M120.4,360.6L146.1,357.0M314.8,133.1L319.4,165.3M146.1,357.0L178.3,352.5M319.4,165.3L320.3,171.7M178.3,352.5L184.7,351.6M320.3,171.7L324.8,203.9M184.7,351.6L216.9,347.0M324.8,203.9L328.4,229.6M216.9,347.0L242.7,343.4M328.4,229.6L330.2,242.5M242.7,343.4L255.5,341.6M330.2,242.5L331.1,248.9M262.0,340.7L294.2,336.2M335.6,281.1L340.2,313.3M294.2,336.2L326.3,331.7M340.2,313.3L342.0,326.2M326.3,331.7L339.2,329.9M342.0,326.2L345.6,351.9M339.2,329.9L365.0,326.2M345.6,351.9L348.3,371.2M348.3,371.2L350.1,384.1M384.3,323.5L397.1,321.7M350.1,384.1L354.6,416.3M397.1,321.7L429.3,317.2M354.6,416.3L358.3,442.1M429.3,317.2L455.1,313.6M455.1,313.6L487.3,309.1M362.8,474.2L367.3,506.4M367.3,506.4L371.8,538.6M371.8,538.6L372.7,545.0M551.6,300.0L558.1,299.1M558.1,299.1L577.4,296.4M320.0,99.5L324.5,131.7M115.3,371.2L147.5,366.7M324.5,131.7L327.2,151.0M147.5,366.7L166.8,363.9M327.2,151.0L331.7,183.2M199.0,359.4L211.8,357.6M333.5,196.1L337.2,221.8M211.8,357.6L237.6,354.0M337.2,221.8L338.1,228.3M237.6,354.0L244.0,353.1M338.1,228.3L340.8,247.6M244.0,353.1L263.3,350.4M340.8,247.6L342.6,260.5M263.3,350.4L276.2,348.6M342.6,260.5L343.5,266.9M276.2,348.6L282.6,347.7M343.5,266.9L347.1,292.7M282.6,347.7L308.4,344.0M347.1,292.7L350.7,318.4M308.4,344.0L334.1,340.4M350.7,318.4L351.6,324.8M351.6,324.8L355.2,350.6M340.6,339.5L366.3,335.9M355.2,350.6L357.1,363.5M366.3,335.9L379.2,334.1M357.1,363.5L361.6,395.6M379.2,334.1L411.4,329.6M361.6,395.6L364.3,414.9M411.4,329.6L430.7,326.9M364.3,414.9L365.2,421.4M430.7,326.9L437.1,325.9M365.2,421.4L368.8,447.1M437.1,325.9L462.9,322.3M368.8,447.1L372.4,472.9M373.3,479.3L374.2,485.8M374.2,485.8L378.8,517.9M501.5,316.9L533.7,312.4M378.8,517.9L382.4,543.7M382.4,543.7L385.1,563.0M326.4,98.6L330.0,124.4M116.2,377.6L141.9,374.0M330.0,124.4L334.5,156.6M141.9,374.0L174.1,369.5M334.5,156.6L335.5,163.0M174.1,369.5L180.6,368.6M335.5,163.0L338.2,182.3M180.6,368.6L199.9,365.9M338.2,182.3L339.1,188.8M339.1,188.8L341.8,208.1M206.3,365.0L225.6,362.2M341.8,208.1L343.6,220.9M343.6,220.9L346.3,240.3M346.3,240.3L349.0,259.6M257.8,357.7L277.1,355.0M277.1,355.0L283.5,354.1M349.9,266.0L350.8,272.4M283.5,354.1L290.0,353.2M350.8,272.4L352.6,285.3M352.6,285.3L356.3,311.1M302.8,351.4L328.6,347.8M356.3,311.1L360.8,343.2M328.6,347.8L360.8,343.2M360.8,343.2L361.7,349.7M361.7,349.7L366.2,381.9M367.2,342.3L399.4,337.8M366.2,381.9L368.0,394.7M368.0,394.7L372.5,426.9M412.3,336.0L444.5,331.5M372.5,426.9L374.3,439.8M444.5,331.5L457.3,329.7M374.3,439.8L377.1,459.1M457.3,329.7L476.6,327.0M377.1,459.1L378.0,465.5M476.6,327.0L483.1,326.1M378.0,465.5L378.9,472.0M483.1,326.1L489.5,325.1M378.9,472.0L381.6,491.3M489.5,325.1L508.8,322.4M381.6,491.3L384.3,510.6M508.8,322.4L528.1,319.7M384.3,510.6L388.8,542.8M560.3,315.2L566.8,314.3M332.8,97.7L335.6,117.0M117.1,384.1L136.4,381.3M335.6,117.0L340.1,149.2M136.4,381.3L168.6,376.8M168.6,376.8L187.9,374.1M342.8,168.5L343.7,175.0M187.9,374.1L194.3,373.2M343.7,175.0L346.4,194.3M194.3,373.2L213.6,370.5M213.6,370.5L220.1,369.6M347.3,200.7L349.1,213.6M349.1,213.6L350.9,226.5M232.9,367.8L245.8,366.0M350.9,226.5L352.7,239.3M352.7,239.3L357.3,271.5M258.7,364.2L290.9,359.6M290.9,359.6L310.2,356.9M360.0,290.8L360.9,297.3M310.2,356.9L316.6,356.0M360.9,297.3L365.4,329.5M316.6,356.0L348.8,351.5M348.8,351.5L355.2,350.6M366.3,335.9L369.9,361.6M369.9,361.6L372.6,381.0M381.0,347.0L400.3,344.2M400.3,344.2L406.7,343.3M373.5,387.4L377.2,413.1M406.7,343.3L432.5,339.7M377.2,413.1L379.0,426.0M432.5,339.7L445.4,337.9M379.0,426.0L383.5,458.2M445.4,337.9L477.5,333.4M383.5,458.2L388.0,490.4M388.0,490.4L391.6,516.1M509.7,328.9L535.5,325.3M391.6,516.1L396.2,548.3M535.5,325.3L567.7,320.7M118.0,390.5L130.9,388.7M341.1,109.7L342.9,122.6M130.9,388.7L143.7,386.9M342.9,122.6L344.7,135.5M143.7,386.9L156.6,385.1M344.7,135.5L345.6,141.9M345.6,141.9L350.1,174.1M163.0,384.2L195.2,379.6M350.1,174.1L352.8,193.4M195.2,379.6L214.5,376.9M352.8,193.4L357.4,225.6M214.5,376.9L246.7,372.4M357.4,225.6L359.2,238.4M359.2,238.4L363.7,270.6M259.6,370.6L291.8,366.1M363.7,270.6L368.2,302.8M291.8,366.1L324.0,361.5M368.2,302.8L371.8,328.6M324.0,361.5L349.7,357.9M371.8,328.6L374.6,347.9M349.7,357.9L369.0,355.2M374.6,347.9L375.5,354.3M369.0,355.2L375.5,354.3M375.5,354.3L378.2,373.6M375.5,354.3L394.8,351.6M378.2,373.6L382.7,405.8M394.8,351.6L427.0,347.1M382.7,405.8L387.2,438.0M427.0,347.1L459.1,342.5M387.2,438.0L389.9,457.3M459.1,342.5L478.5,339.8M389.9,457.3L392.7,476.6M478.5,339.8L497.8,337.1M395.4,495.9L398.1,515.2M517.1,334.4L536.4,331.7M398.1,515.2L399.9,528.1M536.4,331.7L549.3,329.9M399.9,528.1L400.8,534.5M549.3,329.9L555.7,329.0M400.8,534.5L404.4,560.3M555.7,329.0L581.4,325.4M348.9,95.5L353.5,127.7M119.3,400.1L151.5,395.6M353.5,127.7L358.0,159.8M151.5,395.6L183.7,391.1M358.0,159.8L362.5,192.0M183.7,391.1L215.9,386.6M215.9,386.6L228.8,384.8M228.8,384.8L241.6,383.0M366.1,217.8L369.7,243.5M369.7,243.5L371.5,256.4M267.4,379.3L280.3,377.5M371.5,256.4L375.2,282.1M280.3,377.5L306.0,373.9M306.0,373.9L325.3,371.2M377.9,301.5L378.8,307.9M325.3,371.2L331.8,370.3M331.8,370.3L351.1,367.6M351.1,367.6L363.9,365.8M363.9,365.8L396.1,361.2M387.8,372.3L391.4,398.0M391.4,398.0L395.1,423.8M421.9,357.6L447.6,354.0M395.1,423.8L399.6,455.9M447.6,354.0L479.8,349.5M399.6,455.9L402.3,475.2M479.8,349.5L499.1,346.8M402.3,475.2L404.1,488.1M499.1,346.8L512.0,345.0M512.0,345.0L531.3,342.2M406.8,507.4L409.5,526.7M531.3,342.2L550.6,339.5M409.5,526.7L412.3,546.0M550.6,339.5L569.9,336.8M120.3,406.6L126.7,405.7M356.3,101.0L359.9,126.8M359.9,126.8L364.4,158.9M152.4,402.1L184.6,397.5M364.4,158.9L368.0,184.7M184.6,397.5L210.4,393.9M210.4,393.9L223.2,392.1M369.8,197.6L370.7,204.0M223.2,392.1L229.7,391.2M370.7,204.0L374.4,229.7M229.7,391.2L255.4,387.6M374.4,229.7L377.1,249.1M377.1,249.1L378.9,261.9M274.7,384.9L287.6,383.1M287.6,383.1L306.9,380.3M381.6,281.2L383.4,294.1M306.9,380.3L319.8,378.5M383.4,294.1L386.1,313.4M319.8,378.5L339.1,375.8M339.1,375.8L364.9,372.2M389.7,339.2L391.6,352.0M364.9,372.2L377.7,370.4M391.6,352.0L393.4,364.9M377.7,370.4L390.6,368.6M393.4,364.9L396.1,384.2M390.6,368.6L409.9,365.9M396.1,384.2L397.9,397.1M409.9,365.9L422.8,364.1M397.9,397.1L398.8,403.5M422.8,364.1L429.2,363.2M398.8,403.5L402.4,429.3M429.2,363.2L455.0,359.5M455.0,359.5L461.4,358.6M403.3,435.7L405.1,448.6M405.1,448.6L408.7,474.3M474.3,356.8L500.0,353.2M500.0,353.2L506.5,352.3M506.5,352.3L532.2,348.7M413.3,506.5L414.2,513.0M532.2,348.7L538.6,347.8M414.2,513.0L418.7,545.1M538.6,347.8L570.8,343.3M361.8,93.7L363.6,106.5M121.2,413.0L134.0,411.2M363.6,106.5L368.1,138.7M368.1,138.7L369.0,145.2M166.2,406.7L172.7,405.8M172.7,405.8L198.4,402.2M198.4,402.2L204.8,401.3M373.6,177.3L376.3,196.7M204.8,401.3L224.1,398.5M376.3,196.7L379.9,222.4M224.1,398.5L249.9,394.9M379.9,222.4L382.6,241.7M249.9,394.9L269.2,392.2M382.6,241.7L387.1,273.9M269.2,392.2L301.4,387.7M301.4,387.7L320.7,385.0M389.8,293.2L394.4,325.4M320.7,385.0L352.9,380.5M352.9,380.5L372.2,377.7M397.1,344.7L398.9,357.6M372.2,377.7L385.1,375.9M398.9,357.6L399.8,364.0M385.1,375.9L391.5,375.0M399.8,364.0L404.3,396.2M391.5,375.0L423.7,370.5M423.7,370.5L430.1,369.6M405.2,402.6L407.0,415.5M430.1,369.6L443.0,367.8M407.0,415.5L410.7,441.3M443.0,367.8L468.7,364.2M410.7,441.3L412.5,454.1M412.5,454.1L417.0,486.3M481.6,362.4L513.8,357.8M417.0,486.3L420.6,512.1M513.8,357.8L539.5,354.2M420.6,512.1L424.2,537.8M539.5,354.2L565.3,350.6M424.2,537.8L426.9,557.1M565.3,350.6L584.6,347.9M368.2,92.8L369.1,99.2M122.1,419.5L128.5,418.5M369.1,99.2L373.7,131.4M128.5,418.5L160.7,414.0M373.7,131.4L378.2,163.6M160.7,414.0L192.9,409.5M192.9,409.5L218.6,405.9M218.6,405.9L250.8,401.4M386.3,221.5L388.1,234.4M250.8,401.4L263.7,399.6M388.1,234.4L392.7,266.6M263.7,399.6L295.9,395.0M392.7,266.6L395.4,285.9M295.9,395.0L315.2,392.3M315.2,392.3L347.3,387.8M399.9,318.0L402.6,337.4M347.3,387.8L366.7,385.1M402.6,337.4L407.1,369.5M366.7,385.1L398.8,380.6M408.0,376.0L412.6,408.2M405.3,379.7L437.5,375.1M437.5,375.1L469.6,370.6M469.6,370.6L495.4,367.0M495.4,367.0L501.8,366.1M421.6,472.5L425.2,498.3M501.8,366.1L527.6,362.5M425.2,498.3L428.9,524.0M527.6,362.5L553.3,358.8M428.9,524.0L433.4,556.2M553.3,358.8L585.5,354.3M374.7,91.9L376.5,104.7M123.0,425.9L135.8,424.1M135.8,424.1L142.3,423.2M377.4,111.2L381.0,136.9M142.3,423.2L168.0,419.6M168.0,419.6L193.8,415.9M384.6,162.7L386.4,175.5M386.4,175.5L387.3,182.0M213.1,413.2L245.3,408.7M245.3,408.7L277.4,404.2M400.0,272.1L400.9,278.5M303.2,400.6L309.6,399.7M400.9,278.5L405.4,310.7M405.4,310.7L406.3,317.1M341.8,395.1L348.3,394.2M406.3,317.1L410.9,349.3M410.9,349.3L411.8,355.8M380.4,389.7L386.9,388.8M411.8,355.8L414.5,375.1M386.9,388.8L406.2,386.1M414.5,375.1L417.2,394.4M417.2,394.4L419.9,413.7M425.5,383.4L444.8,380.7M444.8,380.7L477.0,376.1M424.4,445.9L428.1,471.6M477.0,376.1L502.7,372.5M428.1,471.6L431.7,497.4M502.7,372.5L528.5,368.9M431.7,497.4L436.2,529.6M528.5,368.9L560.7,364.4M560.7,364.4L580.0,361.7M123.9,432.3L143.2,429.6M383.8,110.3L387.4,136.0M143.2,429.6L168.9,426.0M387.4,136.0L392.0,168.2M168.9,426.0L201.1,421.5M201.1,421.5L214.0,419.7M214.0,419.7L226.9,417.9M395.6,193.9L398.3,213.3M398.3,213.3L400.1,226.1M246.2,415.1L259.0,413.3M400.1,226.1L401.9,239.0M259.0,413.3L271.9,411.5M401.9,239.0L405.5,264.7M271.9,411.5L297.7,407.9M297.7,407.9L323.4,404.3M409.2,290.5L411.9,309.8M323.4,404.3L342.7,401.6M411.9,309.8L412.8,316.2M342.7,401.6L349.2,400.7M412.8,316.2L417.3,348.4M394.2,394.3L407.1,392.5M420.9,374.2L423.6,393.5M407.1,392.5L426.4,389.8M423.6,393.5L425.4,406.4M425.4,406.4L426.3,412.8M439.3,388.0L445.7,387.1M426.3,412.8L430.9,445.0M445.7,387.1L477.9,382.6M477.9,382.6L510.1,378.1M435.4,477.2L439.0,502.9M510.1,378.1L535.8,374.4M439.0,502.9L439.9,509.3M535.8,374.4L542.3,373.5M542.3,373.5L568.0,369.9M443.5,535.1L445.3,548.0M568.0,369.9L580.9,368.1M387.6,90.0L388.5,96.5M124.8,438.8L131.2,437.9M388.5,96.5L392.1,122.2M392.1,122.2L393.0,128.7M393.0,128.7L395.7,148.0M395.7,148.0L399.3,173.7M182.7,430.6L208.5,427.0M399.3,173.7L403.8,205.9M208.5,427.0L240.6,422.5M403.8,205.9L405.6,218.8M240.6,422.5L253.5,420.7M405.6,218.8L409.3,244.5M279.3,417.1L298.6,414.3M412.0,263.8L413.8,276.7M298.6,414.3L311.4,412.5M413.8,276.7L414.7,283.2M311.4,412.5L317.9,411.6M414.7,283.2L417.4,302.5M417.4,302.5L419.2,315.3M350.1,407.1L375.8,403.5M375.8,403.5L408.0,399.0M427.4,373.3L430.1,392.6M408.0,399.0L427.3,396.2M430.1,392.6L431.0,399.0M427.3,396.2L433.7,395.3M433.7,395.3L465.9,390.8M440.0,463.4L443.6,489.1M498.1,386.3L523.9,382.7M443.6,489.1L445.4,502.0M523.9,382.7L536.7,380.9M445.4,502.0L447.3,514.9M536.7,380.9L549.6,379.1M447.3,514.9L449.1,527.7M549.6,379.1L562.5,377.2M449.1,527.7L450.0,534.2M568.9,376.3L594.7,372.7M394.0,89.1L395.8,102.0M125.7,445.2L138.6,443.4M395.8,102.0L397.6,114.9M138.6,443.4L151.4,441.6M151.4,441.6L170.7,438.9M170.7,438.9L177.2,438.0M401.2,140.6L403.9,159.9M177.2,438.0L196.5,435.3M196.5,435.3L222.2,431.6M407.6,185.7L409.4,198.6M222.2,431.6L235.1,429.8M235.1,429.8L248.0,428.0M411.2,211.4L415.7,243.6M248.0,428.0L280.2,423.5M415.7,243.6L419.3,269.4M280.2,423.5L305.9,419.9M419.3,269.4L422.0,288.7M305.9,419.9L325.2,417.2M422.0,288.7L425.7,314.4M425.7,314.4L428.4,333.7M351.0,413.5L370.3,410.8M428.4,333.7L430.2,346.6M370.3,410.8L383.2,409.0M430.2,346.6L434.7,378.8M434.7,378.8L436.5,391.7M436.5,391.7L439.2,411.0M428.2,402.7L447.5,400.0M439.2,411.0L441.0,423.9M447.5,400.0L460.4,398.2M448.3,475.3L449.2,481.8M511.9,390.9L518.3,390.0M449.2,481.8L451.9,501.1M451.9,501.1L454.6,520.4M537.6,387.3L556.9,384.6M556.9,384.6L582.7,381.0M133.0,450.7L158.8,447.1M404.9,120.4L408.6,146.2M408.6,146.2L411.3,165.5M184.5,443.5L203.8,440.8M203.8,440.8L216.7,439.0M413.1,178.4L416.7,204.1M416.7,204.1L418.5,217.0M242.4,435.4L255.3,433.5M255.3,433.5L261.8,432.6M419.4,223.4L423.0,249.2M261.8,432.6L287.5,429.0M423.0,249.2L425.8,268.5M425.8,268.5L430.3,300.7M306.8,426.3L339.0,421.8M430.3,300.7L433.9,326.4M339.0,421.8L364.7,418.2M433.9,326.4L436.6,345.7M364.7,418.2L384.1,415.5M436.6,345.7L439.3,365.0M384.1,415.5L403.4,412.7M439.3,365.0L441.1,377.9M403.4,412.7L416.2,410.9M416.2,410.9L448.4,406.4M445.7,410.1L447.5,423.0M448.4,406.4L461.3,404.6M447.5,423.0L451.1,448.7M461.3,404.6L487.0,401.0M451.1,448.7L452.0,455.1M487.0,401.0L493.5,400.1M452.0,455.1L453.8,468.0M493.5,400.1L506.4,398.3M453.8,468.0L455.6,480.9M506.4,398.3L519.2,396.5M455.6,480.9L458.3,500.2M519.2,396.5L538.5,393.7M458.3,500.2L459.2,506.6M538.5,393.7L545.0,392.8M545.0,392.8L564.3,390.1M461.9,525.9L466.5,558.1M564.3,390.1L596.5,385.6M127.5,458.1L133.9,457.2M407.8,93.8L409.6,106.6M133.9,457.2L146.8,455.4M409.6,106.6L411.4,119.5M146.8,455.4L159.7,453.6M411.4,119.5L413.2,132.4M159.7,453.6L172.5,451.7M413.2,132.4L415.9,151.7M172.5,451.7L191.9,449.0M415.9,151.7L416.8,158.1M191.9,449.0L198.3,448.1M416.8,158.1L418.6,171.0M198.3,448.1L211.2,446.3M418.6,171.0L419.5,177.4M211.2,446.3L217.6,445.4M217.6,445.4L243.4,441.8M423.1,203.2L427.7,235.4M427.7,235.4L429.5,248.3M275.5,437.3L288.4,435.5M429.5,248.3L430.4,254.7M288.4,435.5L294.8,434.6M430.4,254.7L431.3,261.1M431.3,261.1L433.1,274.0M301.3,433.6L314.2,431.8M314.2,431.8L333.5,429.1M435.8,293.3L440.3,325.5M333.5,429.1L365.7,424.6M440.3,325.5L444.0,351.2M365.7,424.6L391.4,421.0M391.4,421.0L423.6,416.5M448.5,383.4L452.1,409.2M423.6,416.5L449.3,412.8M449.3,412.8L481.5,408.3M456.6,441.4L460.2,467.1M481.5,408.3L507.3,404.7M460.2,467.1L462.9,486.4M507.3,404.7L526.6,402.0M464.8,499.3L467.5,518.6M539.4,400.2L558.8,397.5M467.5,518.6L470.2,537.9M558.8,397.5L578.1,394.8M413.3,86.4L415.1,99.3M128.4,464.5L141.3,462.7M415.1,99.3L418.7,125.1M141.3,462.7L167.0,459.1M418.7,125.1L420.5,137.9M167.0,459.1L179.9,457.3M420.5,137.9L422.3,150.8M422.3,150.8L426.9,183.0M192.8,455.5L224.9,450.9M426.9,183.0L430.5,208.7M430.5,208.7L432.3,221.6M250.7,447.3L263.6,445.5M263.6,445.5L270.0,444.6M433.2,228.0L437.7,260.2M270.0,444.6L302.2,440.1M442.2,292.4L446.8,324.6M334.4,435.6L366.6,431.0M446.8,324.6L451.3,356.8M366.6,431.0L398.7,426.5M451.3,356.8L454.0,376.1M398.7,426.5L418.0,423.8M454.0,376.1L456.7,395.4M456.7,395.4L460.3,421.1M437.4,421.1L463.1,417.5M460.3,421.1L464.0,446.9M463.1,417.5L488.9,413.9M488.9,413.9L514.6,410.2M467.6,472.6L469.4,485.5M514.6,410.2L527.5,408.4M527.5,408.4L559.7,403.9M473.9,517.7L477.5,543.4M559.7,403.9L585.4,400.3M419.7,85.5L423.4,111.3M129.3,470.9L155.0,467.3M424.3,117.7L427.0,137.0M161.5,466.4L180.8,463.7M427.0,137.0L430.6,162.8M180.8,463.7L206.5,460.1M430.6,162.8L435.1,195.0M206.5,460.1L238.7,455.6M435.1,195.0L437.8,214.3M238.7,455.6L258.0,452.9M437.8,214.3L438.7,220.7M258.0,452.9L264.5,452.0M438.7,220.7L440.5,233.6M264.5,452.0L277.3,450.1M440.5,233.6L444.2,259.3M277.3,450.1L303.1,446.5M303.1,446.5L335.3,442.0M448.7,291.5L449.6,297.9M449.6,297.9L452.3,317.2M341.7,441.1L361.0,438.4M361.0,438.4L380.3,435.7M455.0,336.6L457.7,355.9M380.3,435.7L399.6,433.0M399.6,433.0L425.4,429.3M461.3,381.6L462.3,388.1M425.4,429.3L431.8,428.4M462.3,388.1L465.0,407.4M431.8,428.4L451.1,425.7M465.0,407.4L466.8,420.2M451.1,425.7L464.0,423.9M466.8,420.2L470.4,446.0M464.0,423.9L489.8,420.3M489.8,420.3L521.9,415.8M474.9,478.2L479.4,510.4M521.9,415.8L554.1,411.2M479.4,510.4L480.3,516.8M554.1,411.2L560.6,410.3M480.3,516.8L481.3,523.2M560.6,410.3L567.0,409.4M481.3,523.2L483.1,536.1M567.0,409.4L579.9,407.6M426.2,84.6L427.1,91.1M130.2,477.4L136.6,476.5M427.1,91.1L428.0,97.5M136.6,476.5L143.1,475.6M428.0,97.5L432.5,129.7M143.1,475.6L175.3,471.1M432.5,129.7L433.4,136.1M175.3,471.1L181.7,470.1M433.4,136.1L437.0,161.9M437.0,161.9L439.7,181.2M207.4,466.5L226.8,463.8M439.7,181.2L442.5,200.5M226.8,463.8L246.1,461.1M442.5,200.5L444.3,213.4M246.1,461.1L258.9,459.3M444.3,213.4L448.8,245.5M451.5,264.9L455.1,290.6M310.4,452.1L336.2,448.4M455.1,290.6L459.6,322.8M336.2,448.4L368.4,443.9M459.6,322.8L463.3,348.5M368.4,443.9L394.1,440.3M394.1,440.3L426.3,435.8M467.8,380.7L469.6,393.6M426.3,435.8L439.2,434.0M439.2,434.0L458.5,431.2M472.3,412.9L474.1,425.8M458.5,431.2L471.4,429.4M474.1,425.8L475.0,432.2M471.4,429.4L477.8,428.5M475.0,432.2L479.5,464.4M477.8,428.5L510.0,424.0M479.5,464.4L484.1,496.6M510.0,424.0L542.2,419.5M484.1,496.6L487.7,522.3M487.7,522.3L489.5,535.2M567.9,415.9L580.8,414.1M131.1,483.8L137.5,482.9M433.5,90.2L438.0,122.3M137.5,482.9L169.7,478.4M438.0,122.3L441.7,148.1M441.7,148.1L445.3,173.8M195.5,474.8L221.2,471.2M445.3,173.8L449.8,206.0M221.2,471.2L253.4,466.6M449.8,206.0L453.4,231.8M253.4,466.6L279.2,463.0M453.4,231.8L454.3,238.2M279.2,463.0L285.6,462.1M285.6,462.1L292.0,461.2M455.2,244.6L457.0,257.5M304.9,459.4L317.8,457.6M458.8,270.4L461.6,289.7M317.8,457.6L337.1,454.9M461.6,289.7L465.2,315.4M337.1,454.9L362.8,451.3M465.2,315.4L466.1,321.9M362.8,451.3L369.3,450.4M466.1,321.9L467.9,334.7M369.3,450.4L382.1,448.5M382.1,448.5L414.3,444.0M472.4,366.9L474.2,379.8M414.3,444.0L427.2,442.2M474.2,379.8L478.7,412.0M427.2,442.2L459.4,437.7M478.7,412.0L479.7,418.4M459.4,437.7L465.8,436.8M479.7,418.4L481.5,431.3M465.8,436.8L478.7,435.0M481.5,431.3L483.3,444.2M478.7,435.0L491.6,433.2M483.3,444.2L485.1,457.0M491.6,433.2L504.4,431.4M486.0,463.5L486.9,469.9M510.9,430.4L517.3,429.5M517.3,429.5L530.2,427.7M530.2,427.7L555.9,424.1M492.3,508.5L493.2,515.0M555.9,424.1L562.4,423.2M493.2,515.0L497.7,547.2M439.0,82.8L441.8,102.1M132.0,490.3L151.3,487.5M441.8,102.1L442.7,108.6M151.3,487.5L157.8,486.6M442.7,108.6L445.4,127.9M157.8,486.6L177.1,483.9M445.4,127.9L448.1,147.2M177.1,483.9L196.4,481.2M448.1,147.2L451.7,172.9M196.4,481.2L222.1,477.6M451.7,172.9L452.6,179.4M222.1,477.6L228.6,476.7M452.6,179.4L453.5,185.8M228.6,476.7L235.0,475.8M453.5,185.8L454.4,192.2M235.0,475.8L241.4,474.9M454.4,192.2L455.3,198.7M455.3,198.7L458.0,218.0M247.9,474.0L267.2,471.3M458.0,218.0L459.9,230.9M267.2,471.3L280.1,469.5M459.9,230.9L460.8,237.3M280.1,469.5L286.5,468.5M460.8,237.3L463.5,256.6M305.8,465.8L325.1,463.1M325.1,463.1L344.4,460.4M468.9,295.2L470.7,308.1M344.4,460.4L357.3,458.6M470.7,308.1L475.2,340.3M389.5,454.1L395.9,453.2M479.8,372.5L480.7,378.9M421.7,449.6L428.1,448.6M480.7,378.9L481.6,385.3M434.5,447.7L447.4,445.9M453.9,445.0L486.0,440.5M488.8,436.8L492.4,462.6M486.0,440.5L511.8,436.9M492.4,462.6L493.3,469.0M511.8,436.9L518.2,436.0M493.3,469.0L495.1,481.9M518.2,436.0L531.1,434.2M531.1,434.2L550.4,431.5M550.4,431.5L569.7,428.7M569.7,428.7L589.0,426.0M445.5,81.9L450.0,114.1M132.9,496.7L165.1,492.2M450.0,114.1L454.5,146.3M165.1,492.2L197.3,487.6M459.1,178.5L460.0,184.9M460.0,184.9L461.8,197.8M235.9,482.2L248.8,480.4M248.8,480.4L274.5,476.8M465.4,223.5L468.1,242.8M274.5,476.8L293.8,474.1M468.1,242.8L469.0,249.3M469.0,249.3L469.9,255.7M300.3,473.2L306.7,472.3M469.9,255.7L470.8,262.1M306.7,472.3L313.1,471.4M470.8,262.1L472.6,275.0M313.1,471.4L326.0,469.6M472.6,275.0L476.2,300.8M326.0,469.6L351.8,465.9M476.2,300.8L477.1,307.2M351.8,465.9L358.2,465.0M477.1,307.2L480.8,332.9M358.2,465.0L384.0,461.4M480.8,332.9L484.4,358.7M384.0,461.4L409.7,457.8M484.4,358.7L486.2,371.6M409.7,457.8L422.6,456.0M486.2,371.6L488.0,384.4M422.6,456.0L435.4,454.2M488.0,384.4L492.5,416.6M435.4,454.2L467.6,449.7M495.2,435.9L496.1,442.4M486.9,446.9L493.4,446.0M496.1,442.4L499.8,468.1M499.8,468.1L503.4,493.9M519.1,442.4L544.9,438.8M503.4,493.9L506.1,513.2M544.9,438.8L564.2,436.1M506.1,513.2L507.9,526.0M564.2,436.1L577.1,434.3M507.9,526.0L508.8,532.5M577.1,434.3L583.5,433.4M451.9,81.0L454.6,100.3M133.8,503.1L153.1,500.4M454.6,100.3L458.3,126.1M153.1,500.4L178.9,496.8M458.3,126.1L461.0,145.4M461.0,145.4L461.9,151.8M198.2,494.1L204.6,493.2M461.9,151.8L466.4,184.0M466.4,184.0L468.2,196.9M236.8,488.7L249.7,486.8M468.2,196.9L471.8,222.6M249.7,486.8L275.4,483.2M471.8,222.6L472.7,229.0M472.7,229.0L476.3,254.8M281.9,482.3L307.6,478.7M476.3,254.8L479.1,274.1M307.6,478.7L326.9,476.0M479.1,274.1L482.7,299.9M326.9,476.0L352.7,472.4M482.7,299.9L483.6,306.3M483.6,306.3L485.4,319.2M359.1,471.5L372.0,469.7M485.4,319.2L489.9,351.3M372.0,469.7L404.2,465.1M489.9,351.3L491.7,364.2M404.2,465.1L417.0,463.3M491.7,364.2L492.6,370.7M417.0,463.3L423.5,462.4M492.6,370.7L497.2,402.8M423.5,462.4L455.7,457.9M497.2,402.8L501.7,435.0M455.7,457.9L487.8,453.4M501.7,435.0L505.3,460.8M487.8,453.4L513.6,449.8M505.3,460.8L508.0,480.1M513.6,449.8L532.9,447.0M508.0,480.1L510.7,499.4M532.9,447.0L552.2,444.3M510.7,499.4L512.5,512.3M552.2,444.3L565.1,442.5M512.5,512.3L515.2,531.6M565.1,442.5L584.4,439.8M458.4,80.1L462.0,105.8M160.5,506.0L173.3,504.1M467.4,144.5L471.0,170.2M199.1,500.5L224.8,496.9M471.0,170.2L475.5,202.4M224.8,496.9L257.0,492.4M475.5,202.4L480.1,234.6M257.0,492.4L289.2,487.9M480.1,234.6L482.8,253.9M289.2,487.9L308.5,485.1M482.8,253.9L483.7,260.3M308.5,485.1L315.0,484.2M483.7,260.3L485.5,273.2M315.0,484.2L327.8,482.4M327.8,482.4L347.1,479.7M347.1,479.7L366.5,477.0M490.9,311.8L495.4,344.0M495.4,344.0L498.2,363.3M398.6,472.5L417.9,469.8M498.2,363.3L500.9,382.6M417.9,469.8L437.3,467.1M500.9,382.6L505.4,414.8M505.4,414.8L508.1,434.1M469.4,462.5L488.7,459.8M508.1,434.1L510.8,453.4M514.4,479.2L519.0,511.4M533.8,453.5L566.0,449.0M519.0,511.4L520.8,524.2M566.0,449.0L578.9,447.1M520.8,524.2L525.3,556.4M578.9,447.1L611.0,442.6M135.6,516.0L148.5,514.2M148.5,514.2L174.3,510.6M470.2,117.8L472.9,137.1M472.9,137.1L477.5,169.3M193.6,507.9L225.7,503.3M477.5,169.3L478.4,175.7M225.7,503.3L232.2,502.4M478.4,175.7L481.1,195.1M232.2,502.4L251.5,499.7M481.1,195.1L484.7,220.8M251.5,499.7L277.2,496.1M277.2,496.1L296.6,493.4M487.4,240.1L489.2,253.0M296.6,493.4L309.4,491.6M489.2,253.0L493.7,285.2M309.4,491.6L341.6,487.1M493.7,285.2L495.6,298.0M341.6,487.1L354.5,485.2M354.5,485.2L386.7,480.7M500.1,330.2L504.6,362.4M504.6,362.4L509.1,394.6M509.1,394.6L510.0,401.0M510.0,401.0L510.9,407.5M457.5,470.8L463.9,469.9M510.9,407.5L513.6,426.8M463.9,469.9L483.2,467.2M513.6,426.8L517.3,452.5M483.2,467.2L509.0,463.5M517.3,452.5L521.8,484.7M509.0,463.5L541.1,459.0M521.8,484.7L523.6,497.6M541.1,459.0L554.0,457.2M523.6,497.6L527.2,523.3M554.0,457.2L579.8,453.6M527.2,523.3L528.1,529.8M579.8,453.6L586.2,452.7M474.4,77.8L475.4,84.3M137.0,525.7L143.4,524.8M475.4,84.3L477.2,97.1M143.4,524.8L156.3,522.9M477.2,97.1L478.1,103.6M478.1,103.6L482.6,135.8M162.7,522.0L194.9,517.5M482.6,135.8L484.4,148.6M194.9,517.5L207.8,515.7M207.8,515.7L227.1,513.0M227.1,513.0L246.4,510.3M246.4,510.3L272.2,506.7M493.4,213.0L497.1,238.8M498.9,251.6L502.5,277.4M310.8,501.2L336.5,497.6M502.5,277.4L506.1,303.1M336.5,497.6L362.3,494.0M506.1,303.1L509.7,328.9M362.3,494.0L388.0,490.4M509.7,328.9L512.4,348.2M512.4,348.2L514.3,361.1M407.3,487.7L420.2,485.9M514.3,361.1L518.8,393.2M420.2,485.9L452.4,481.3M518.8,393.2L519.7,399.7M452.4,481.3L458.8,480.4M519.7,399.7L522.4,419.0M458.8,480.4L478.1,477.7M522.4,419.0L524.2,431.9M491.0,475.9L523.2,471.4M528.7,464.0L531.4,483.4M523.2,471.4L542.5,468.7M531.4,483.4L533.2,496.2M542.5,468.7L555.4,466.9M533.2,496.2L536.9,522.0M536.9,522.0L539.6,541.3M581.1,463.2L600.4,460.5M484.1,76.5L485.0,82.9M138.3,535.3L144.8,534.4M487.7,102.2L490.4,121.5M490.4,121.5L493.2,140.8M183.4,529.0L202.7,526.3M493.2,140.8L494.1,147.3M202.7,526.3L209.2,525.4M495.9,160.2L498.6,179.5M222.0,523.6L241.3,520.8M241.3,520.8L254.2,519.0M254.2,519.0L273.5,516.3M503.1,211.7L506.7,237.4M299.3,512.7L305.7,511.8M305.7,511.8L318.6,510.0M509.4,256.7L513.1,282.5M318.6,510.0L344.3,506.4M513.1,282.5L516.7,308.2M344.3,506.4L370.1,502.7M517.6,314.6L522.1,346.8M376.5,501.8L408.7,497.3M522.1,346.8L525.7,372.6M408.7,497.3L434.4,493.7M434.4,493.7L440.9,492.8M526.6,379.0L528.4,391.9M440.9,492.8L453.7,491.0M528.4,391.9L533.0,424.1M533.0,424.1L535.7,443.4M485.9,486.5L505.2,483.8M535.7,443.4L537.5,456.2M505.2,483.8L518.1,481.9M537.5,456.2L539.3,469.1M518.1,481.9L531.0,480.1M539.3,469.1L540.2,475.6M531.0,480.1L537.4,479.2M540.2,475.6L542.0,488.4M537.4,479.2L550.3,477.4M542.0,488.4L542.9,494.9M550.3,477.4L556.7,476.5M542.9,494.9L545.6,514.2M556.7,476.5L576.0,473.8M576.0,473.8L588.9,472.0M490.5,75.6L492.3,88.4M139.3,541.8L152.1,539.9M492.3,88.4L496.9,120.6M152.1,539.9L184.3,535.4M496.9,120.6L499.6,139.9M184.3,535.4L203.6,532.7M499.6,139.9L501.4,152.8M501.4,152.8L504.1,172.1M216.5,530.9L235.8,528.2M504.1,172.1L505.0,178.6M235.8,528.2L242.2,527.3M505.0,178.6L508.6,204.3M242.2,527.3L268.0,523.7M508.6,204.3L512.3,230.1M268.0,523.7L293.7,520.0M293.7,520.0L306.6,518.2M514.1,242.9L516.8,262.2M516.8,262.2L521.3,294.4M325.9,515.5L358.1,511.0M521.3,294.4L525.8,326.6M358.1,511.0L390.3,506.5M525.8,326.6L528.5,345.9M390.3,506.5L409.6,503.8M528.5,345.9L533.1,378.1M409.6,503.8L441.8,499.2M533.1,378.1L534.9,391.0M534.9,391.0L539.4,423.2M454.7,497.4L486.8,492.9M539.4,423.2L541.2,436.0M486.8,492.9L499.7,491.1M541.2,436.0L543.9,455.3M499.7,491.1L519.0,488.4M543.9,455.3L545.7,468.2M519.0,488.4L531.9,486.6M545.7,468.2L546.6,474.7M531.9,486.6L538.3,485.7M546.6,474.7L551.2,506.8M538.3,485.7L570.5,481.1M551.2,506.8L555.7,539.0M570.5,481.1L602.7,476.6M497.0,74.7L497.9,81.1M140.2,548.2L146.6,547.3M497.9,81.1L502.4,113.3M146.6,547.3L178.8,542.8M502.4,113.3L503.3,119.7M178.8,542.8L185.2,541.9M185.2,541.9L191.6,541.0M504.2,126.2L508.7,158.3M191.6,541.0L223.8,536.4M508.7,158.3L512.4,184.1M223.8,536.4L249.6,532.8M512.4,184.1L516.0,209.8M275.3,529.2L288.2,527.4M517.8,222.7L518.7,229.2M288.2,527.4L294.6,526.5M320.4,522.9L346.1,519.2M346.1,519.2L365.4,516.5M528.6,300.0L529.5,306.4M365.4,516.5L371.9,515.6M529.5,306.4L533.2,332.1M533.2,332.1L535.9,351.5M397.6,512.0L416.9,509.3M536.8,357.9L540.4,383.6M423.4,508.4L449.1,504.8M540.4,383.6L544.9,415.8M546.7,428.7L550.4,454.4M494.2,498.4L519.9,494.8M551.3,460.9L554.9,486.6M554.9,486.6L557.6,505.9M552.1,490.3L571.4,487.6M557.6,505.9L561.2,531.7M571.4,487.6L597.2,484.0M141.5,557.8L160.8,555.1M509.3,92.6L511.2,105.5M160.8,555.1L173.7,553.3M173.7,553.3L186.6,551.5M513.0,118.4L516.6,144.1M186.6,551.5L212.3,547.9M516.6,144.1L521.1,176.3M212.3,547.9L244.5,543.4M521.1,176.3L524.7,202.0M244.5,543.4L270.2,539.8M524.7,202.0L525.6,208.5M525.6,208.5L529.2,234.2M302.4,535.2L328.2,531.6M532.9,260.0L534.7,272.9M534.7,272.9L539.2,305.0M341.1,529.8L373.2,525.3M543.7,337.2L544.6,343.7M544.6,343.7L546.4,356.5M546.4,356.5L547.3,363.0M424.7,518.0L431.2,517.1M547.3,363.0L548.2,369.4M431.2,517.1L437.6,516.2M548.2,369.4L551.9,395.2M437.6,516.2L463.3,512.6M551.9,395.2L553.7,408.0M463.3,512.6L476.2,510.8M553.7,408.0L555.5,420.9M476.2,510.8L489.1,509.0M555.5,420.9L558.2,440.2M489.1,509.0L508.4,506.3M558.2,440.2L560.9,459.5M508.4,506.3L527.7,503.6M560.9,459.5L565.4,491.7M527.7,503.6L559.9,499.0M565.4,491.7L568.1,511.0M559.9,499.0L579.2,496.3M513.1,72.4L514.0,78.8M142.4,564.3L148.9,563.4M514.0,78.8L515.8,91.7M148.9,563.4L161.7,561.6M515.8,91.7L520.3,123.9M161.7,561.6L193.9,557.0M520.3,123.9L521.2,130.3M193.9,557.0L200.3,556.1M521.2,130.3L525.7,162.5M525.7,162.5L529.4,188.3M232.5,551.6L258.3,548.0M529.4,188.3L531.2,201.1M271.2,546.2L303.3,541.7M535.7,233.3L538.4,252.6M303.3,541.7L322.6,539.0M538.4,252.6L540.2,265.5M322.6,539.0L335.5,537.1M540.2,265.5L541.1,271.9M335.5,537.1L342.0,536.2M541.1,271.9L542.0,278.4M348.4,535.3L361.3,533.5M543.8,291.3L547.4,317.0M361.3,533.5L387.0,529.9M393.5,529.0L419.2,525.4M419.2,525.4L438.5,522.7M554.7,368.5L559.2,400.7M438.5,522.7L470.7,518.1M559.2,400.7L562.8,426.4M470.7,518.1L496.4,514.5M567.3,458.6L571.9,490.8M571.9,490.8L572.8,497.2M560.8,505.5L567.2,504.6M519.5,71.5L521.3,84.4M143.3,570.7L156.2,568.9M521.3,84.4L523.1,97.3M156.2,568.9L169.1,567.1M169.1,567.1L188.4,564.4M525.8,116.6L530.4,148.7M530.4,148.7L531.3,155.2M220.6,559.9L227.0,559.0M531.3,155.2L535.8,187.4M227.0,559.0L259.2,554.4M535.8,187.4L539.4,213.1M539.4,213.1L541.2,226.0M284.9,550.8L297.8,549.0M541.2,226.0L543.0,238.9M543.0,238.9L545.7,258.2M310.7,547.2L330.0,544.5M545.7,258.2L548.5,277.5M330.0,544.5L349.3,541.8M349.3,541.8L355.7,540.9M549.4,283.9L553.0,309.7M355.7,540.9L381.5,537.2M553.0,309.7L554.8,322.5M381.5,537.2L394.4,535.4M554.8,322.5L558.4,348.3M394.4,535.4L420.1,531.8M558.4,348.3L562.0,374.0M420.1,531.8L445.8,528.2M562.0,374.0L562.9,380.5M445.8,528.2L452.3,527.3M452.3,527.3L471.6,524.6M565.6,399.8L568.4,419.1M471.6,524.6L490.9,521.9M568.4,419.1L572.9,451.3M490.9,521.9L523.1,517.3M572.9,451.3L576.5,477.0M523.1,517.3L548.8,513.7M576.5,477.0L579.2,496.3M548.8,513.7L568.1,511.0M568.1,511.0L581.0,509.2M581.0,509.2L600.3,506.5M144.2,577.2L157.1,575.3M527.8,83.5L529.6,96.3M529.6,96.3L533.2,122.1M170.0,573.5L195.7,569.9M533.2,122.1L535.0,135.0M195.7,569.9L208.6,568.1M535.0,135.0L536.8,147.8M208.6,568.1L221.5,566.3M536.8,147.8L541.3,180.0M221.5,566.3L253.7,561.8M541.3,180.0L542.2,186.5M253.7,561.8L260.1,560.9M542.2,186.5L544.0,199.3M260.1,560.9L273.0,559.1M544.0,199.3L544.9,205.8M544.9,205.8L546.7,218.6M279.4,558.2L292.3,556.3M546.7,218.6L551.3,250.8M292.3,556.3L324.5,551.8M337.3,550.0L363.1,546.4M556.7,289.4L560.3,315.2M560.3,315.2L563.0,334.5M388.8,542.8L408.1,540.1M563.0,334.5L564.8,347.4M408.1,540.1L421.0,538.3M421.0,538.3L427.4,537.4M565.7,353.8L568.5,373.1M427.4,537.4L446.8,534.6M568.5,373.1L570.3,386.0M446.8,534.6L459.6,532.8M570.3,386.0L574.8,418.2M459.6,532.8L491.8,528.3M491.8,528.3L524.0,523.8M579.3,450.4L582.0,469.7M524.0,523.8L543.3,521.1M543.3,521.1L569.1,517.4M585.6,495.4L586.6,501.9M569.1,517.4L575.5,516.5M586.6,501.9L587.5,508.3" fill="none" stroke="#fbfbfb" stroke-width="1" opacity=".9"/>
<clipPath id="fc1"><polygon points="810.0,117.0 951.0,117.0 951.0,474.0 760.0,474.0 758.0,410.0 772.0,388.0 840.0,382.0 840.0,357.0 925.0,363.0 923.0,333.0 891.0,335.0 880.0,311.0 842.0,288.0 856.0,247.0 887.0,247.0 874.0,206.0 850.0,171.0 823.0,151.0"/></clipPath><path clip-path="url(#fc1)" d="M637.6,100.5L637.9,106.5M637.6,100.5L643.6,100.2M637.9,106.5L639.5,136.5M643.6,100.2L673.6,98.6M639.5,136.5L641.1,166.4M673.6,98.6L703.5,97.0M703.5,97.0L715.5,96.4M715.5,96.4L727.5,95.8M642.3,190.4L642.6,196.4M727.5,95.8L733.5,95.5M733.5,95.5L751.5,94.5M643.6,214.3L643.9,220.3M643.9,220.3L645.5,250.3M757.4,94.2L787.4,92.6M645.5,250.3L646.4,268.3M787.4,92.6L805.4,91.7M646.4,268.3L647.7,292.2M805.4,91.7L829.3,90.5M647.7,292.2L648.0,298.2M829.3,90.5L835.3,90.1M648.0,298.2L648.3,304.2M835.3,90.1L841.3,89.8M648.3,304.2L648.6,310.2M841.3,89.8L847.3,89.5M648.6,310.2L648.9,316.2M847.3,89.5L853.3,89.2M648.9,316.2L650.2,340.2M853.3,89.2L877.3,87.9M650.2,340.2L650.8,352.2M877.3,87.9L889.3,87.3M650.8,352.2L652.1,376.1M889.3,87.3L913.2,86.1M652.1,376.1L653.3,400.1M653.3,400.1L653.9,412.1M937.2,84.8L949.2,84.2M653.9,412.1L654.6,424.1M949.2,84.2L961.2,83.5M654.6,424.1L655.5,442.0M961.2,83.5L979.1,82.6M655.8,448.0L657.1,472.0M657.1,472.0L657.4,478.0M1009.1,81.0L1015.1,80.7M657.4,478.0L658.7,501.9M1015.1,80.7L1039.1,79.5M658.7,501.9L659.6,519.9M643.6,100.2L643.9,106.2M643.9,106.2L644.5,118.2M644.5,118.2L645.8,142.1M655.9,105.5L679.9,104.3M645.8,142.1L646.7,160.1M679.9,104.3L697.8,103.4M646.7,160.1L647.1,166.1M697.8,103.4L703.8,103.0M647.1,166.1L647.7,178.1M703.8,103.0L715.8,102.4M647.7,178.1L649.3,208.0M715.8,102.4L745.8,100.8M649.3,208.0L650.5,232.0M745.8,100.8L769.7,99.6M650.5,232.0L652.1,262.0M769.7,99.6L799.7,98.0M652.1,262.0L652.7,273.9M799.7,98.0L811.7,97.4M652.7,273.9L653.7,291.9M811.7,97.4L829.7,96.4M653.7,291.9L654.3,303.9M829.7,96.4L841.6,95.8M654.3,303.9L655.2,321.9M655.2,321.9L656.2,339.9M859.6,94.9L877.6,93.9M656.2,339.9L656.8,351.8M877.6,93.9L889.6,93.3M656.8,351.8L658.4,381.8M889.6,93.3L919.5,91.7M658.4,381.8L659.3,399.8M919.5,91.7L937.5,90.8M659.3,399.8L660.6,423.7M937.5,90.8L961.5,89.5M660.6,423.7L661.8,447.7M961.5,89.5L985.4,88.3M661.8,447.7L662.1,453.7M985.4,88.3L991.4,88.0M662.1,453.7L663.7,483.7M991.4,88.0L1021.4,86.4M664.6,501.6L665.9,525.6M1039.4,85.5L1063.3,84.2M649.6,99.9L649.9,105.9M638.2,112.5L644.2,112.2M649.9,105.9L650.9,123.8M662.2,111.2L668.2,110.9M668.2,110.9L680.2,110.3M680.2,110.3L704.1,109.0M653.0,165.8L654.0,183.8M704.1,109.0L722.1,108.1M722.1,108.1L740.1,107.1M654.9,201.7L656.5,231.7M740.1,107.1L770.1,105.6M656.5,231.7L657.4,249.7M770.1,105.6L788.0,104.6M657.4,249.7L658.4,267.6M788.0,104.6L806.0,103.7M658.4,267.6L658.7,273.6M658.7,273.6L659.6,291.6M812.0,103.4L830.0,102.4M830.0,102.4L853.9,101.2M660.9,315.6L662.2,339.5M853.9,101.2L877.9,99.9M662.2,339.5L663.4,363.5M877.9,99.9L901.9,98.7M663.4,363.5L664.7,387.5M901.9,98.7L925.8,97.4M664.7,387.5L665.3,399.5M665.3,399.5L665.9,411.4M937.8,96.8L949.8,96.2M665.9,411.4L666.2,417.4M666.2,417.4L667.2,435.4M955.8,95.8L973.8,94.9M667.2,435.4L667.5,441.4M973.8,94.9L979.8,94.6M667.5,441.4L669.1,471.4M979.8,94.6L1009.7,93.0M669.1,471.4L670.6,501.3M1009.7,93.0L1039.7,91.4M670.6,501.3L670.9,507.3M1039.7,91.4L1045.7,91.1M670.9,507.3L671.9,525.3M1045.7,91.1L1063.7,90.2M638.6,118.5L656.5,117.5M656.5,117.5L657.5,135.5M656.5,117.5L674.5,116.6M657.5,135.5L658.1,147.5M674.5,116.6L686.5,116.0M658.1,147.5L659.0,165.5M659.0,165.5L660.6,195.4M704.5,115.0L734.4,113.5M734.4,113.5L752.4,112.5M661.6,213.4L663.1,243.4M752.4,112.5L782.4,110.9M663.1,243.4L664.1,261.3M782.4,110.9L800.3,110.0M664.1,261.3L664.4,267.3M800.3,110.0L806.3,109.7M665.0,279.3L665.3,285.3M665.6,291.3L666.3,303.3M830.3,108.4L842.3,107.8M666.3,303.3L667.2,321.3M842.3,107.8L860.2,106.9M667.2,321.3L667.5,327.2M860.2,106.9L866.2,106.5M667.5,327.2L668.5,345.2M866.2,106.5L884.2,105.6M668.5,345.2L669.1,357.2M884.2,105.6L896.2,105.0M669.1,357.2L670.7,387.2M926.2,103.4L938.1,102.8M671.3,399.1L671.9,411.1M938.1,102.8L950.1,102.1M671.9,411.1L673.5,441.1M950.1,102.1L980.1,100.6M673.5,441.1L675.1,471.0M980.1,100.6L1010.0,99.0M675.1,471.0L676.3,495.0M1010.0,99.0L1034.0,97.8M676.3,495.0L677.6,519.0M1034.0,97.8L1058.0,96.5M638.9,124.5L656.8,123.5M656.8,123.5L680.8,122.3M680.8,122.3L686.8,122.0M664.1,147.2L665.0,165.2M686.8,122.0L704.8,121.0M665.0,165.2L666.0,183.1M704.8,121.0L722.8,120.1M666.0,183.1L667.5,213.1M722.8,120.1L752.7,118.5M667.5,213.1L668.5,231.1M752.7,118.5L770.7,117.6M668.5,231.1L670.1,261.0M770.7,117.6L800.6,116.0M670.1,261.0L670.4,267.0M670.4,267.0L671.3,285.0M806.6,115.7L824.6,114.7M671.3,285.0L671.9,297.0M824.6,114.7L836.6,114.1M671.9,297.0L672.6,309.0M672.6,309.0L673.8,332.9M848.6,113.5L872.5,112.2M872.5,112.2L896.5,111.0M675.1,356.9L676.0,374.9M896.5,111.0L914.5,110.0M676.0,374.9L677.0,392.8M914.5,110.0L932.5,109.1M677.0,392.8L677.6,404.8M677.6,404.8L679.2,434.8M944.4,108.5L974.4,106.9M679.2,434.8L679.5,440.8M974.4,106.9L980.4,106.6M679.5,440.8L681.0,470.7M980.4,106.6L1010.4,105.0M681.0,470.7L681.4,476.7M1010.4,105.0L1016.3,104.7M1016.3,104.7L1046.3,103.1M682.9,506.7L683.2,512.7M1046.3,103.1L1052.3,102.8M683.2,512.7L683.9,524.7M1052.3,102.8L1064.3,102.2M639.2,130.5L657.2,129.5M668.5,116.9L669.5,134.9M657.2,129.5L675.1,128.6M675.1,128.6L693.1,127.6M670.4,152.9L671.7,176.8M717.1,126.4L741.0,125.1M741.0,125.1L753.0,124.5M673.5,212.8L674.5,230.7M753.0,124.5L771.0,123.6M674.5,230.7L675.7,254.7M771.0,123.6L795.0,122.3M675.7,254.7L676.4,266.7M795.0,122.3L807.0,121.7M807.0,121.7L824.9,120.7M677.3,284.7L678.9,314.6M824.9,120.7L854.9,119.2M678.9,314.6L680.1,338.6M854.9,119.2L878.9,117.9M680.1,338.6L681.7,368.6M878.9,117.9L908.8,116.3M681.7,368.6L682.6,386.5M682.6,386.5L683.0,392.5M683.0,392.5L683.3,398.5M932.8,115.1L938.8,114.8M683.3,398.5L683.6,404.5M938.8,114.8L944.8,114.4M683.6,404.5L684.5,422.5M944.8,114.4L962.7,113.5M684.5,422.5L685.2,434.5M962.7,113.5L974.7,112.9M685.2,434.5L685.5,440.5M974.7,112.9L980.7,112.6M685.5,440.5L686.4,458.4M998.7,111.6L1028.6,110.0M1028.6,110.0L1046.6,109.1M688.9,506.4L689.2,512.4M1046.6,109.1L1052.6,108.8M689.2,512.4L689.9,524.3M1052.6,108.8L1064.6,108.2M639.7,139.4L645.6,139.1M676.9,104.5L678.1,128.4M645.6,139.1L669.6,137.9M678.1,128.4L679.4,152.4M669.6,137.9L693.6,136.6M679.4,152.4L679.7,158.4M693.6,136.6L699.6,136.3M679.7,158.4L680.3,170.4M699.6,136.3L711.6,135.7M680.3,170.4L681.0,182.3M681.0,182.3L681.6,194.3M723.5,135.1L735.5,134.4M681.6,194.3L681.9,200.3M735.5,134.4L741.5,134.1M681.9,200.3L682.8,218.3M682.8,218.3L683.8,236.3M777.5,132.2L795.4,131.3M684.7,254.2L685.7,272.2M795.4,131.3L813.4,130.3M685.7,272.2L686.6,290.2M686.6,290.2L687.2,302.2M831.4,129.4L843.4,128.8M843.4,128.8L861.3,127.8M688.2,320.2L689.4,344.1M861.3,127.8L885.3,126.6M689.4,344.1L691.0,374.1M885.3,126.6L915.3,125.0M691.0,374.1L691.3,380.1M915.3,125.0L921.3,124.7M691.3,380.1L691.9,392.1M921.3,124.7L933.2,124.1M691.9,392.1L692.9,410.0M933.2,124.1L951.2,123.1M951.2,123.1L969.2,122.2M969.2,122.2L975.2,121.9M694.1,434.0L695.1,452.0M975.2,121.9L993.2,120.9M993.2,120.9L1011.1,120.0M696.0,469.9L697.0,487.9M1011.1,120.0L1029.1,119.0M697.0,487.9L697.3,493.9M1029.1,119.0L1035.1,118.7M1035.1,118.7L1059.1,117.5M682.5,98.1L682.9,104.1M682.9,104.1L683.5,116.1M646.0,145.1L657.9,144.5M683.5,116.1L685.1,146.1M685.1,146.1L685.7,158.1M687.9,142.9L699.9,142.3M685.7,158.1L687.3,188.0M699.9,142.3L729.8,140.7M687.6,194.0L688.5,212.0M735.8,140.4L753.8,139.5M688.5,212.0L688.8,218.0M688.8,218.0L690.4,247.9M759.8,139.2L789.8,137.6M690.4,247.9L690.7,253.9M789.8,137.6L795.8,137.3M690.7,253.9L691.7,271.9M795.8,137.3L813.7,136.3M691.7,271.9L692.9,295.9M813.7,136.3L837.7,135.1M692.9,295.9L693.9,313.8M693.9,313.8L695.4,343.8M885.6,132.6L897.6,131.9M897.6,131.9L915.6,131.0M697.0,373.8L697.9,391.7M915.6,131.0L933.6,130.1M697.9,391.7L699.2,415.7M933.6,130.1L957.5,128.8M699.2,415.7L699.5,421.7M957.5,128.8L963.5,128.5M699.5,421.7L700.1,433.7M963.5,128.5L975.5,127.9M700.1,433.7L701.7,463.6M975.5,127.9L1005.5,126.3M701.7,463.6L702.0,469.6M1005.5,126.3L1011.5,126.0M702.0,469.6L702.3,475.6M1017.4,125.7L1029.4,125.0M1029.4,125.0L1053.4,123.8M704.2,511.6L705.2,529.6M1053.4,123.8L1071.4,122.8M640.3,151.4L670.2,149.9M690.1,127.8L691.7,157.7M670.2,149.9L700.2,148.3M691.7,157.7L692.6,175.7M692.6,175.7L693.9,199.7M718.2,147.3L742.1,146.1M693.9,199.7L694.8,217.7M694.8,217.7L696.4,247.6M696.4,247.6L697.3,265.6M697.3,265.6L698.3,283.6M808.0,142.6L826.0,141.7M698.3,283.6L699.2,301.6M699.2,301.6L699.8,313.5M844.0,140.8L856.0,140.1M699.8,313.5L700.2,319.5M856.0,140.1L862.0,139.8M700.2,319.5L701.1,337.5M862.0,139.8L880.0,138.9M701.1,337.5L701.4,343.5M880.0,138.9L885.9,138.6M701.4,343.5L702.0,355.5M885.9,138.6L897.9,137.9M703.3,379.4L703.9,391.4M703.9,391.4L705.2,415.4M933.9,136.0L957.8,134.8M957.8,134.8L963.8,134.5M705.5,421.4L707.1,451.3M963.8,134.5L993.8,132.9M707.1,451.3L707.4,457.3M993.8,132.9L999.8,132.6M707.4,457.3L708.3,475.3M999.8,132.6L1017.8,131.6M708.3,475.3L709.9,505.3M709.9,505.3L710.2,511.3M1047.7,130.1L1053.7,129.8M1053.7,129.8L1065.7,129.1M640.8,160.4L646.7,160.1M697.8,103.4L698.8,121.3M646.7,160.1L664.7,159.2M664.7,159.2L682.7,158.2M699.7,139.3L700.4,151.3M682.7,158.2L694.7,157.6M700.4,151.3L700.7,157.3M694.7,157.6L700.7,157.3M700.7,157.3L702.2,187.2M700.7,157.3L730.6,155.7M702.2,187.2L702.6,193.2M730.6,155.7L736.6,155.4M702.6,193.2L703.8,217.2M736.6,155.4L760.6,154.1M703.8,217.2L704.8,235.2M760.6,154.1L778.6,153.2M704.8,235.2L705.4,247.2M778.6,153.2L790.5,152.6M705.4,247.2L706.3,265.1M790.5,152.6L808.5,151.6M706.3,265.1L706.6,271.1M808.5,151.6L814.5,151.3M706.6,271.1L707.9,295.1M814.5,151.3L838.5,150.1M838.5,150.1L856.5,149.1M708.8,313.1L709.8,331.0M856.5,149.1L874.4,148.2M709.8,331.0L711.0,355.0M874.4,148.2L898.4,146.9M711.0,355.0L711.7,367.0M898.4,146.9L910.4,146.3M711.7,367.0L712.6,385.0M910.4,146.3L928.4,145.3M712.6,385.0L712.9,391.0M928.4,145.3L934.3,145.0M712.9,391.0L713.9,408.9M934.3,145.0L952.3,144.1M713.9,408.9L714.8,426.9M952.3,144.1L970.3,143.1M970.3,143.1L988.3,142.2M715.7,444.9L716.1,450.9M988.3,142.2L994.3,141.9M994.3,141.9L1018.2,140.6M717.3,474.8L718.9,504.8M1018.2,140.6L1048.2,139.1M718.9,504.8L719.5,516.8M1048.2,139.1L1060.2,138.4M703.5,97.0L704.8,121.0M641.1,166.4L665.0,165.2M704.8,121.0L706.3,151.0M665.0,165.2L695.0,163.6M706.3,151.0L707.3,168.9M695.0,163.6L713.0,162.6M707.3,168.9L708.2,186.9M708.2,186.9L709.5,210.9M730.9,161.7L754.9,160.4M754.9,160.4L778.9,159.2M710.7,234.9L711.1,240.8M778.9,159.2L784.9,158.9M711.1,240.8L712.3,264.8M784.9,158.9L808.8,157.6M712.3,264.8L712.9,276.8M712.9,276.8L714.5,306.8M820.8,157.0L850.8,155.4M714.5,306.8L715.5,324.7M850.8,155.4L868.8,154.5M715.5,324.7L716.7,348.7M868.8,154.5L892.7,153.2M716.7,348.7L717.0,354.7M892.7,153.2L898.7,152.9M717.0,354.7L718.3,378.7M898.7,152.9L922.7,151.7M718.3,378.7L719.2,396.6M719.2,396.6L720.5,420.6M940.7,150.7L964.6,149.5M720.5,420.6L721.7,444.6M964.6,149.5L988.6,148.2M721.7,444.6L722.0,450.6M988.6,148.2L994.6,147.9M722.0,450.6L723.0,468.5M994.6,147.9L1012.6,146.9M723.0,468.5L723.6,480.5M723.6,480.5L724.9,504.5M724.9,504.5L726.4,534.4M1048.5,145.1L1078.5,143.5M709.5,96.7L710.8,120.7M641.4,172.4L665.3,171.1M710.8,120.7L712.3,150.7M665.3,171.1L695.3,169.6M712.3,150.7L713.0,162.6M695.3,169.6L707.3,168.9M713.0,162.6L713.6,174.6M707.3,168.9L719.3,168.3M713.6,174.6L714.2,186.6M719.3,168.3L731.3,167.7M714.2,186.6L714.9,198.6M714.9,198.6L715.8,216.6M743.2,167.1L761.2,166.1M715.8,216.6L716.7,234.5M761.2,166.1L779.2,165.2M716.7,234.5L717.4,246.5M779.2,165.2L791.2,164.6M791.2,164.6L809.1,163.6M718.3,264.5L719.2,282.5M809.1,163.6L827.1,162.7M719.2,282.5L720.5,306.4M827.1,162.7L851.1,161.4M720.5,306.4L722.1,336.4M851.1,161.4L881.1,159.8M722.1,336.4L722.7,348.4M722.7,348.4L724.3,378.3M893.0,159.2L923.0,157.6M724.3,378.3L724.6,384.3M923.0,157.6L929.0,157.3M929.0,157.3L958.9,155.8M726.2,414.3L727.4,438.3M727.4,438.3L728.4,456.2M982.9,154.5L1000.9,153.6M728.4,456.2L729.0,468.2M1000.9,153.6L1012.9,152.9M729.0,468.2L729.6,480.2M1012.9,152.9L1024.9,152.3M1024.9,152.3L1048.8,151.0M1048.8,151.0L1054.8,150.7M1054.8,150.7L1066.8,150.1M641.9,181.4L647.8,181.1M718.8,102.3L719.4,114.2M647.8,181.1L659.8,180.4M719.4,114.2L719.8,120.2M677.8,179.5L689.8,178.9M721.0,144.2L722.0,162.2M722.0,162.2L723.5,192.1M707.8,177.9L737.7,176.4M723.5,192.1L724.2,204.1M737.7,176.4L749.7,175.7M724.2,204.1L725.1,222.1M749.7,175.7L767.7,174.8M767.7,174.8L773.7,174.5M773.7,174.5L791.6,173.5M726.4,246.1L726.7,252.0M791.6,173.5L797.6,173.2M726.7,252.0L727.3,264.0M797.6,173.2L809.6,172.6M809.6,172.6L827.6,171.7M728.2,282.0L729.5,306.0M827.6,171.7L851.6,170.4M851.6,170.4L869.5,169.5M730.4,323.9L730.7,329.9M869.5,169.5L875.5,169.1M730.7,329.9L731.4,341.9M731.4,341.9L732.9,371.9M887.5,168.5L917.5,166.9M732.9,371.9L734.2,395.8M734.2,395.8L734.5,401.8M941.4,165.7L947.4,165.4M734.5,401.8L735.8,425.8M947.4,165.4L971.4,164.1M735.8,425.8L736.4,437.8M971.4,164.1L983.4,163.5M736.4,437.8L737.3,455.8M737.3,455.8L738.3,473.7M1001.4,162.5L1019.3,161.6M738.3,473.7L738.6,479.7M1025.3,161.3L1043.3,160.3M739.5,497.7L740.2,509.7M1043.3,160.3L1055.3,159.7M740.2,509.7L741.7,539.7M1055.3,159.7L1085.2,158.2M724.5,95.9L725.1,107.9M642.2,187.4L654.1,186.8M725.1,107.9L725.4,113.9M725.4,113.9L726.1,125.9M660.1,186.4L672.1,185.8M726.1,125.9L726.4,131.9M672.1,185.8L678.1,185.5M678.1,185.5L702.1,184.2M727.6,155.9L729.2,185.8M702.1,184.2L732.0,182.7M729.2,185.8L730.5,209.8M732.0,182.7L756.0,181.4M730.5,209.8L731.1,221.8M756.0,181.4L768.0,180.8M768.0,180.8L792.0,179.5M733.6,269.7L734.9,293.7M815.9,178.3L839.9,177.0M839.9,177.0L863.9,175.8M736.1,317.6L736.4,323.6M863.9,175.8L869.9,175.4M738.0,353.6L738.3,359.6M899.8,173.9L905.8,173.6M905.8,173.6L929.8,172.3M739.6,383.6L740.2,395.5M929.8,172.3L941.8,171.7M941.8,171.7L953.7,171.1M740.8,407.5L741.8,425.5M953.7,171.1L971.7,170.1M971.7,170.1L977.7,169.8M742.1,431.5L742.4,437.5M977.7,169.8L983.7,169.5M983.7,169.5L1001.7,168.5M743.3,455.5L744.3,473.4M744.3,473.4L745.2,491.4M1019.6,167.6L1037.6,166.7M745.2,491.4L746.8,521.4M1037.6,166.7L1067.6,165.1M642.5,193.4L666.4,192.1M731.7,119.6L732.1,125.6M666.4,192.1L672.4,191.8M732.1,125.6L733.3,149.6M733.3,149.6L734.3,167.5M696.4,190.5L714.4,189.6M734.3,167.5L735.5,191.5M714.4,189.6L738.3,188.3M735.5,191.5L735.8,197.5M738.3,188.3L744.3,188.0M735.8,197.5L737.4,227.5M744.3,188.0L774.3,186.5M737.4,227.5L739.0,257.4M739.0,257.4L739.9,275.4M804.3,184.9L822.2,184.0M739.9,275.4L740.5,287.4M822.2,184.0L834.2,183.3M740.5,287.4L741.2,299.4M741.2,299.4L742.4,323.3M846.2,182.7L870.2,181.4M742.4,323.3L743.7,347.3M894.1,180.2L900.1,179.9M744.0,353.3L744.9,371.3M900.1,179.9L918.1,178.9M744.9,371.3L746.2,395.2M918.1,178.9L942.1,177.7M746.2,395.2L747.4,419.2M942.1,177.7L966.0,176.4M747.4,419.2L749.0,449.1M966.0,176.4L996.0,174.8M749.0,449.1L749.3,455.1M749.3,455.1L749.6,461.1M1002.0,174.5L1008.0,174.2M749.6,461.1L751.2,491.1M1008.0,174.2L1037.9,172.6M751.2,491.1L752.2,509.1M1037.9,172.6L1055.9,171.7M752.2,509.1L753.7,539.0M1055.9,171.7L1085.9,170.1M736.5,95.3L738.0,125.3M642.8,199.4L672.8,197.8M738.0,125.3L738.7,137.3M672.8,197.8L684.7,197.2M738.7,137.3L740.2,167.2M740.2,167.2L740.9,179.2M740.9,179.2L742.1,203.2M742.1,203.2L742.8,215.2M750.6,193.7L762.6,193.1M742.8,215.2L743.7,233.1M762.6,193.1L780.6,192.1M743.7,233.1L744.0,239.1M744.0,239.1L744.3,245.1M786.6,191.8L792.6,191.5M744.3,245.1L745.6,269.1M792.6,191.5L816.6,190.3M745.6,269.1L747.2,299.0M747.2,299.0L747.8,311.0M846.5,188.7L858.5,188.1M747.8,311.0L749.3,341.0M749.3,341.0L750.3,359.0M888.5,186.5L906.4,185.5M750.3,359.0L750.9,370.9M750.9,370.9L752.5,400.9M918.4,184.9L948.4,183.3M752.5,400.9L753.7,424.9M948.4,183.3L972.3,182.1M753.7,424.9L754.4,436.9M972.3,182.1L984.3,181.5M754.4,436.9L755.3,454.8M984.3,181.5L1002.3,180.5M755.3,454.8L755.9,466.8M1002.3,180.5L1014.3,179.9M1014.3,179.9L1032.3,179.0M1032.3,179.0L1038.2,178.6M757.2,490.8L757.8,502.8M1038.2,178.6L1050.2,178.0M1050.2,178.0L1062.2,177.4M742.5,95.0L744.0,125.0M643.1,205.4L673.1,203.8M744.0,125.0L744.4,131.0M673.1,203.8L679.1,203.5M744.4,131.0L745.0,142.9M679.1,203.5L691.0,202.8M745.3,148.9L746.5,172.9M697.0,202.5L721.0,201.3M746.5,172.9L747.5,190.9M721.0,201.3L739.0,200.3M747.5,190.9L748.1,202.9M739.0,200.3L751.0,199.7M748.1,202.9L749.4,226.8M751.0,199.7L774.9,198.4M749.4,226.8L750.3,244.8M774.9,198.4L792.9,197.5M792.9,197.5L810.9,196.6M751.3,262.8L752.2,280.7M810.9,196.6L828.9,195.6M752.2,280.7L752.5,286.7M828.9,195.6L834.8,195.3M752.5,286.7L753.8,310.7M753.8,310.7L754.7,328.7M858.8,194.1L876.8,193.1M754.7,328.7L755.7,346.7M876.8,193.1L894.8,192.2M755.7,346.7L756.3,358.6M894.8,192.2L906.7,191.5M756.3,358.6L756.6,364.6M756.6,364.6L758.2,394.6M758.2,394.6L758.5,400.6M942.7,189.7L948.7,189.3M758.5,400.6L759.4,418.6M759.4,418.6L760.1,430.5M966.7,188.4L978.6,187.8M760.1,430.5L761.6,460.5M978.6,187.8L1008.6,186.2M761.6,460.5L762.6,478.5M1008.6,186.2L1026.6,185.3M762.6,478.5L763.8,502.4M1026.6,185.3L1050.5,184.0M763.8,502.4L764.4,514.4M1050.5,184.0L1062.5,183.4M751.5,94.5L752.7,118.5M752.7,118.5L754.0,142.5M754.0,142.5L755.5,172.4M691.5,211.8L721.5,210.3M755.5,172.4L756.8,196.4M756.8,196.4L758.0,220.4M745.4,209.0L769.4,207.7M758.0,220.4L759.6,250.3M769.4,207.7L799.4,206.2M799.4,206.2L829.3,204.6M761.2,280.3L762.1,298.3M829.3,204.6L847.3,203.7M762.1,298.3L763.1,316.2M847.3,203.7L865.3,202.7M763.1,316.2L764.0,334.2M883.2,201.8L895.2,201.2M895.2,201.2L925.2,199.6M766.2,376.1L766.5,382.1M925.2,199.6L931.2,199.3M767.8,406.1L768.4,418.1M967.1,197.4L973.1,197.1M973.1,197.1L991.1,196.1M769.7,442.1L770.0,448.0M991.1,196.1L997.1,195.8M770.0,448.0L771.2,472.0M997.1,195.8L1021.1,194.6M771.2,472.0L772.2,490.0M1021.1,194.6L1039.0,193.6M772.2,490.0L772.8,502.0M1039.0,193.6L1051.0,193.0M772.8,502.0L774.4,531.9M1051.0,193.0L1081.0,191.4M757.4,94.2L758.4,112.2M758.4,112.2L759.0,124.2M661.9,219.4L673.9,218.8M759.0,124.2L759.3,130.2M673.9,218.8L679.8,218.5M759.3,130.2L760.6,154.1M679.8,218.5L703.8,217.2M760.6,154.1L761.2,166.1M761.2,166.1L762.2,184.1M715.8,216.6L733.8,215.6M762.2,184.1L762.5,190.1M733.8,215.6L739.8,215.3M739.8,215.3L757.7,214.4M763.4,208.1L764.4,226.0M757.7,214.4L775.7,213.4M764.4,226.0L765.6,250.0M775.7,213.4L799.7,212.2M765.6,250.0L766.9,274.0M799.7,212.2L823.6,210.9M823.6,210.9L835.6,210.3M767.5,286.0L769.1,315.9M835.6,210.3L865.6,208.7M865.6,208.7L895.5,207.1M770.6,345.9L772.2,375.8M772.2,375.8L772.5,381.8M925.5,205.6L931.5,205.3M772.5,381.8L773.1,393.8M931.5,205.3L943.5,204.6M773.1,393.8L773.8,405.8M943.5,204.6L955.5,204.0M773.8,405.8L775.0,429.8M955.5,204.0L979.4,202.8M775.0,429.8L776.6,459.7M979.4,202.8L1009.4,201.2M776.6,459.7L778.2,489.7M1009.4,201.2L1039.3,199.6M778.2,489.7L778.5,495.7M1039.3,199.6L1045.3,199.3M778.5,495.7L779.7,519.6M763.4,93.9L764.1,105.9M644.2,226.3L656.2,225.7M764.1,105.9L765.0,123.9M656.2,225.7L674.2,224.8M765.0,123.9L766.0,141.8M674.2,224.8L692.1,223.8M766.0,141.8L767.2,165.8M692.1,223.8L716.1,222.6M767.2,165.8L767.5,171.8M716.1,222.6L722.1,222.2M767.5,171.8L767.8,177.8M722.1,222.2L728.1,221.9M767.8,177.8L769.1,201.8M728.1,221.9L752.1,220.7M769.1,201.8L770.0,219.7M752.1,220.7L770.0,219.7M770.0,219.7L770.3,225.7M770.0,219.7L776.0,219.4M770.3,225.7L771.6,249.7M776.0,219.4L800.0,218.2M771.6,249.7L773.2,279.7M800.0,218.2L830.0,216.6M773.2,279.7L773.8,291.6M830.0,216.6L841.9,216.0M773.8,291.6L774.7,309.6M841.9,216.0L859.9,215.0M774.7,309.6L775.7,327.6M777.3,357.5L778.5,381.5M907.8,212.5L931.8,211.3M778.5,381.5L778.8,387.5M931.8,211.3L937.8,210.9M778.8,387.5L780.1,411.5M937.8,210.9L961.8,209.7M780.1,411.5L781.7,441.4M781.7,441.4L782.9,465.4M991.7,208.1L1015.7,206.9M782.9,465.4L783.2,471.4M1015.7,206.9L1021.7,206.5M783.2,471.4L783.8,483.4M1021.7,206.5L1033.7,205.9M783.8,483.4L784.2,489.4M1033.7,205.9L1039.7,205.6M784.8,501.3L785.4,513.3M1051.6,205.0L1063.6,204.3M769.4,93.6L770.4,111.6M644.5,232.3L662.5,231.4M662.5,231.4L668.5,231.1M770.7,117.6L771.0,123.6M668.5,231.1L674.5,230.7M771.0,123.6L771.9,141.5M674.5,230.7L692.5,229.8M692.5,229.8L716.4,228.6M716.4,228.6L740.4,227.3M774.5,189.5L775.1,201.4M740.4,227.3L752.4,226.7M775.1,201.4L775.7,213.4M752.4,226.7L764.4,226.0M764.4,226.0L788.3,224.8M777.0,237.4L778.5,267.4M788.3,224.8L818.3,223.2M778.5,267.4L779.8,291.3M818.3,223.2L842.2,222.0M779.8,291.3L781.4,321.3M842.2,222.0L872.2,220.4M781.4,321.3L781.7,327.3M872.2,220.4L878.2,220.1M781.7,327.3L782.3,339.3M783.2,357.2L783.6,363.2M908.2,218.5L914.1,218.2M783.6,363.2L784.8,387.2M914.1,218.2L938.1,216.9M784.8,387.2L785.1,393.2M938.1,216.9L944.1,216.6M944.1,216.6L956.1,216.0M787.3,435.1L788.3,453.1M986.1,214.4L1004.0,213.5M788.3,453.1L789.8,483.1M789.8,483.1L790.8,501.0M790.8,501.0L792.0,525.0M1052.0,211.0L1075.9,209.7M775.4,93.3L776.0,105.3M644.8,238.3L656.8,237.7M776.0,105.3L777.0,123.2M656.8,237.7L674.8,236.7M777.0,123.2L777.3,129.2M674.8,236.7L680.8,236.4M680.8,236.4L698.8,235.5M778.2,147.2L779.5,171.2M698.8,235.5L722.7,234.2M722.7,234.2L740.7,233.3M780.4,189.1L781.1,201.1M740.7,233.3L752.7,232.7M781.1,201.1L782.0,219.1M752.7,232.7L770.7,231.7M782.0,219.1L782.6,231.1M770.7,231.7L782.6,231.1M782.6,231.1L783.0,237.1M782.6,231.1L788.6,230.8M784.5,267.0L786.1,297.0M786.1,297.0L786.4,303.0M848.6,227.6L854.5,227.3M786.4,303.0L786.7,309.0M854.5,227.3L860.5,227.0M860.5,227.0L884.5,225.8M788.0,332.9L789.6,362.9M884.5,225.8L914.5,224.2M789.6,362.9L790.2,374.9M790.2,374.9L790.5,380.9M926.4,223.6L932.4,223.2M932.4,223.2L938.4,222.9M790.8,386.9L792.4,416.8M938.4,222.9L968.4,221.4M792.4,416.8L793.0,428.8M968.4,221.4L980.4,220.7M980.4,220.7L992.4,220.1M992.4,220.1L998.3,219.8M793.9,446.8L795.2,470.8M998.3,219.8L1022.3,218.5M795.2,470.8L796.1,488.7M1022.3,218.5L1040.3,217.6M796.1,488.7L797.1,506.7M1040.3,217.6L1058.3,216.6M797.1,506.7L798.3,530.7M1058.3,216.6L1082.2,215.4M784.4,92.8L785.7,116.8M645.3,247.3L669.3,246.0M785.7,116.8L786.9,140.7M669.3,246.0L693.2,244.8M786.9,140.7L788.5,170.7M693.2,244.8L723.2,243.2M788.5,170.7L789.7,194.7M723.2,243.2L747.2,242.0M789.7,194.7L790.1,200.7M747.2,242.0L753.2,241.6M753.2,241.6L777.1,240.4M791.3,224.6L791.6,230.6M791.6,230.6L793.2,260.6M783.1,240.1L813.1,238.5M793.2,260.6L793.5,266.6M813.1,238.5L819.1,238.2M793.5,266.6L794.1,278.6M794.1,278.6L794.5,284.5M831.0,237.6L837.0,237.3M794.5,284.5L795.1,296.5M837.0,237.3L849.0,236.6M795.1,296.5L796.3,320.5M849.0,236.6L873.0,235.4M796.3,320.5L797.6,344.5M797.6,344.5L798.2,356.4M897.0,234.1L908.9,233.5M798.2,356.4L798.9,368.4M908.9,233.5L920.9,232.9M798.9,368.4L799.2,374.4M920.9,232.9L926.9,232.5M926.9,232.5L932.9,232.2M799.5,380.4L800.7,404.4M956.9,231.0L986.8,229.4M802.3,434.3L803.9,464.3M986.8,229.4L1016.8,227.8M1016.8,227.8L1040.8,226.6M805.1,488.3L805.8,500.2M1040.8,226.6L1052.7,225.9M805.8,500.2L807.3,530.2M790.4,92.5L790.7,98.5M645.6,253.3L651.6,253.0M651.6,253.0L675.6,251.7M792.0,122.5L792.6,134.4M687.6,251.1L705.5,250.2M793.5,152.4L794.2,164.4M705.5,250.2L717.5,249.5M794.2,164.4L795.1,182.4M717.5,249.5L735.5,248.6M795.1,182.4L796.1,200.3M735.5,248.6L753.5,247.6M753.5,247.6L765.5,247.0M796.7,212.3L797.9,236.3M797.9,236.3L799.2,260.3M789.4,245.8L813.4,244.5M799.2,260.3L800.4,284.2M813.4,244.5L837.4,243.2M800.4,284.2L802.0,314.2M837.4,243.2L867.3,241.7M802.0,314.2L802.6,326.2M867.3,241.7L879.3,241.0M802.6,326.2L803.0,332.2M879.3,241.0L885.3,240.7M803.0,332.2L804.2,356.1M885.3,240.7L909.3,239.5M804.2,356.1L805.5,380.1M909.3,239.5L933.2,238.2M805.5,380.1L806.4,398.1M933.2,238.2L951.2,237.3M806.4,398.1L807.4,416.0M951.2,237.3L969.2,236.3M807.4,416.0L808.0,428.0M969.2,236.3L981.2,235.7M808.0,428.0L808.3,434.0M981.2,235.7L987.1,235.4M987.1,235.4L1005.1,234.4M809.2,452.0L810.8,482.0M1005.1,234.4L1035.1,232.9M810.8,482.0L812.1,505.9M1035.1,232.9L1059.1,231.6M812.1,505.9L813.0,523.9M796.4,92.2L798.0,122.1M645.9,259.3L675.9,257.7M798.0,122.1L798.9,140.1M675.9,257.7L693.9,256.8M798.9,140.1L799.8,158.1M693.9,256.8L711.8,255.8M799.8,158.1L800.2,164.1M711.8,255.8L717.8,255.5M800.2,164.1L801.7,194.0M717.8,255.5L747.8,253.9M801.7,194.0L802.4,206.0M747.8,253.9L759.8,253.3M802.7,212.0L803.6,230.0M765.8,253.0L783.7,252.1M803.6,230.0L803.9,236.0M783.7,252.1L789.7,251.7M803.9,236.0L804.6,248.0M789.7,251.7L801.7,251.1M804.6,248.0L804.9,254.0M804.9,254.0L806.1,277.9M807.7,250.8L831.7,249.5M806.1,277.9L806.4,283.9M837.7,249.2L861.6,248.0M807.7,307.9L809.0,331.8M861.6,248.0L885.6,246.7M885.6,246.7L903.6,245.8M809.9,349.8L811.2,373.8M811.2,373.8L811.5,379.8M927.5,244.5L933.5,244.2M811.5,379.8L812.7,403.8M812.7,403.8L814.0,427.7M957.5,243.0L981.5,241.7M814.0,427.7L814.9,445.7M981.5,241.7L999.4,240.8M814.9,445.7L816.5,475.7M816.5,475.7L817.4,493.6M1029.4,239.2L1047.4,238.2M817.4,493.6L819.0,523.6M1047.4,238.2L1077.3,236.7M805.4,91.7L807.0,121.7M646.4,268.3L676.4,266.7M807.0,121.7L807.6,133.6M676.4,266.7L688.3,266.1M807.6,133.6L808.5,151.6M688.3,266.1L706.3,265.1M808.5,151.6L809.1,163.6M809.1,163.6L810.1,181.6M718.3,264.5L736.3,263.6M810.1,181.6L811.0,199.6M736.3,263.6L754.3,262.6M811.0,199.6L812.0,217.5M754.3,262.6L772.2,261.7M812.0,217.5L812.6,229.5M772.2,261.7L784.2,261.0M812.6,229.5L813.5,247.5M784.2,261.0L802.2,260.1M813.5,247.5L814.5,265.5M802.2,260.1L820.2,259.2M814.5,265.5L815.4,283.4M815.4,283.4L816.1,295.4M838.1,258.2L850.1,257.6M816.1,295.4L816.4,301.4M850.1,257.6L856.1,257.3M816.4,301.4L817.9,331.4M856.1,257.3L886.1,255.7M817.9,331.4L818.3,337.4M886.1,255.7L892.1,255.4M819.8,367.3L821.1,391.3M922.0,253.8L946.0,252.6M822.3,415.3L823.0,427.2M970.0,251.3L981.9,250.7M823.0,427.2L824.5,457.2M981.9,250.7L1011.9,249.1M824.5,457.2L824.8,463.2M1011.9,249.1L1017.9,248.8M824.8,463.2L826.1,487.2M1017.9,248.8L1041.9,247.5M1041.9,247.5L1059.8,246.6M827.0,505.1L828.6,535.1M1059.8,246.6L1089.8,245.0M811.4,91.4L811.7,97.4M646.7,274.3L652.7,273.9M811.7,97.4L812.0,103.4M812.0,103.4L813.3,127.3M658.7,273.6L682.7,272.4M813.3,127.3L814.5,151.3M682.7,272.4L706.6,271.1M814.5,151.3L815.1,163.3M706.6,271.1L718.6,270.5M718.6,270.5L748.6,268.9M816.7,193.3L817.7,211.2M748.6,268.9L766.6,268.0M817.7,211.2L818.9,235.2M766.6,268.0L790.5,266.7M818.9,235.2L819.5,247.2M819.5,247.2L820.5,265.2M802.5,266.1L820.5,265.2M820.5,265.2L820.8,271.1M820.5,265.2L826.5,264.8M820.8,271.1L821.1,277.1M821.1,277.1L822.7,307.1M822.7,307.1L823.6,325.1M862.4,263.0L880.4,262.0M823.6,325.1L824.6,343.0M824.6,343.0L824.9,349.0M898.4,261.1L904.4,260.8M904.4,260.8L916.3,260.1M825.5,361.0L826.1,373.0M916.3,260.1L928.3,259.5M826.1,373.0L827.7,403.0M928.3,259.5L958.3,257.9M827.7,403.0L829.0,426.9M958.3,257.9L982.3,256.7M829.0,426.9L829.9,444.9M982.3,256.7L1000.2,255.7M1000.2,255.7L1012.2,255.1M832.1,486.9L833.0,504.8M833.0,504.8L834.3,528.8M1060.2,252.6L1084.1,251.3M817.4,91.1L818.6,115.0M647.0,280.3L671.0,279.0M671.0,279.0L677.0,278.7M677.0,278.7L695.0,277.7M819.9,139.0L821.1,163.0M821.1,163.0L822.4,186.9M718.9,276.5L742.9,275.2M822.4,186.9L822.7,192.9M742.9,275.2L748.9,274.9M822.7,192.9L823.6,210.9M748.9,274.9L766.9,274.0M823.6,210.9L824.0,216.9M766.9,274.0L772.9,273.7M824.0,216.9L825.2,240.9M772.9,273.7L796.8,272.4M825.2,240.9L826.2,258.8M796.8,272.4L814.8,271.5M814.8,271.5L820.8,271.1M826.5,264.8L828.0,294.8M820.8,271.1L850.8,269.6M828.0,294.8L828.4,300.8M828.4,300.8L829.3,318.8M856.7,269.3L874.7,268.3M829.3,318.8L829.6,324.8M874.7,268.3L880.7,268.0M880.7,268.0L910.7,266.4M831.2,354.7L832.1,372.7M832.1,372.7L832.8,384.7M928.6,265.5L940.6,264.9M833.4,396.7L833.7,402.7M952.6,264.2L958.6,263.9M833.7,402.7L834.3,414.6M834.3,414.6L834.6,420.6M970.6,263.3L976.6,263.0M976.6,263.0L994.6,262.0M835.6,438.6L836.8,462.6M994.6,262.0L1018.5,260.8M1018.5,260.8L1030.5,260.2M837.5,474.6L837.8,480.5M1030.5,260.2L1036.5,259.8M837.8,480.5L839.3,510.5M1036.5,259.8L1066.5,258.3M823.4,90.8L824.3,108.7M647.3,286.2L665.3,285.3M824.3,108.7L825.6,132.7M665.3,285.3L689.3,284.0M825.6,132.7L825.9,138.7M689.3,284.0L695.3,283.7M695.3,283.7L707.3,283.1M826.5,150.7L827.4,168.7M827.4,168.7L828.4,186.6M828.4,186.6L829.0,198.6M743.2,281.2L755.2,280.6M755.2,280.6L785.2,279.0M830.6,228.6L832.1,258.5M832.1,258.5L833.1,276.5M815.1,277.5L833.1,276.5M834.0,294.5L834.7,306.5M834.7,306.5L836.2,336.4M863.0,274.9L893.0,273.4M836.2,336.4L837.2,354.4M893.0,273.4L911.0,272.4M837.2,354.4L837.5,360.4M911.0,272.4L917.0,272.1M837.5,360.4L838.1,372.4M917.0,272.1L929.0,271.5M929.0,271.5L940.9,270.9M838.7,384.4L839.1,390.4M940.9,270.9L946.9,270.5M839.1,390.4L840.3,414.3M970.9,269.3L976.9,269.0M840.6,420.3L841.3,432.3M976.9,269.0L988.9,268.3M841.3,432.3L841.9,444.3M841.9,444.3L842.5,456.3M1000.9,267.7L1012.8,267.1M842.5,456.3L843.1,468.2M1012.8,267.1L1024.8,266.5M1024.8,266.5L1030.8,266.1M843.5,474.2L844.4,492.2M844.4,492.2L845.3,510.2M1048.8,265.2L1066.8,264.3M832.3,90.3L833.9,120.3M647.8,295.2L677.8,293.7M833.9,120.3L835.5,150.2M677.8,293.7L707.7,292.1M835.5,150.2L836.4,168.2M707.7,292.1L725.7,291.2M836.4,168.2L838.0,198.1M725.7,291.2L755.7,289.6M838.0,198.1L838.6,210.1M755.7,289.6L767.7,289.0M838.6,210.1L839.3,222.1M767.7,289.0L779.6,288.3M839.3,222.1L839.6,228.1M785.6,288.0L809.6,286.8M840.8,252.1L841.5,264.1M809.6,286.8L821.6,286.1M841.5,264.1L842.1,276.0M821.6,286.1L833.6,285.5M842.1,276.0L842.7,288.0M833.6,285.5L845.5,284.9M842.7,288.0L843.0,294.0M845.5,284.9L851.5,284.6M851.5,284.6L857.5,284.2M843.3,300.0L844.6,324.0M844.6,324.0L846.2,353.9M846.2,353.9L847.7,383.9M911.5,281.4L941.4,279.8M847.7,383.9L848.0,389.9M941.4,279.8L947.4,279.5M947.4,279.5L977.4,278.0M977.4,278.0L995.3,277.0M850.6,437.8L851.2,449.8M995.3,277.0L1007.3,276.4M851.2,449.8L852.4,473.8M1007.3,276.4L1031.3,275.1M852.4,473.8L852.8,479.8M1031.3,275.1L1037.3,274.8M852.8,479.8L854.3,509.7M1037.3,274.8L1067.2,273.3M838.3,90.0L839.9,119.9M648.1,301.2L678.1,299.7M839.9,119.9L840.8,137.9M678.1,299.7L696.1,298.7M840.8,137.9L841.8,155.9M714.0,297.8L726.0,297.1M842.4,167.9L844.0,197.8M726.0,297.1L756.0,295.6M844.0,197.8L845.2,221.8M756.0,295.6L779.9,294.3M845.2,221.8L846.8,251.8M779.9,294.3L809.9,292.7M846.8,251.8L847.8,269.7M809.9,292.7L827.9,291.8M847.8,269.7L848.7,287.7M827.9,291.8L845.9,290.9M848.7,287.7L849.0,293.7M845.9,290.9L851.9,290.5M849.0,293.7L850.6,323.7M851.9,290.5L881.8,289.0M850.6,323.7L852.2,353.6M881.8,289.0L911.8,287.4M852.2,353.6L852.8,365.6M911.8,287.4L923.8,286.8M852.8,365.6L854.0,389.6M923.8,286.8L947.7,285.5M854.0,389.6L855.0,407.5M855.0,407.5L855.6,419.5M965.7,284.6L977.7,284.0M855.6,419.5L856.5,437.5M977.7,284.0L995.7,283.0M995.7,283.0L1025.6,281.4M858.1,467.5L858.7,479.4M858.7,479.4L860.0,503.4M844.3,89.7L844.6,95.7M654.4,306.9L672.4,306.0M845.6,113.6L846.5,131.6M672.4,306.0L690.4,305.0M846.5,131.6L847.2,143.6M690.4,305.0L702.4,304.4M702.4,304.4L720.3,303.4M849.4,185.5L850.6,209.5M744.3,302.2L768.3,300.9M850.6,209.5L851.9,233.5M768.3,300.9L792.2,299.7M851.9,233.5L853.4,263.4M792.2,299.7L822.2,298.1M853.4,263.4L854.4,281.4M854.4,281.4L855.3,299.4M840.2,297.2L858.2,296.2M855.3,299.4L856.3,317.4M858.2,296.2L876.1,295.3M856.3,317.4L857.5,341.3M876.1,295.3L900.1,294.0M858.1,353.3L859.4,377.3M912.1,293.4L936.0,292.1M859.4,377.3L861.0,407.2M936.0,292.1L966.0,290.6M861.0,407.2L861.6,419.2M966.0,290.6L978.0,289.9M861.6,419.2L862.2,431.2M978.0,289.9L990.0,289.3M862.2,431.2L862.5,437.2M990.0,289.3L996.0,289.0M862.5,437.2L862.9,443.2M996.0,289.0L1002.0,288.7M862.9,443.2L864.4,473.1M1002.0,288.7L1031.9,287.1M864.4,473.1L866.0,503.1M1031.9,287.1L1061.9,285.5M1061.9,285.5L1079.9,284.6M850.3,89.4L850.6,95.3M648.8,313.2L654.8,312.9M851.3,107.3L851.6,113.3M666.7,312.3L672.7,312.0M851.6,113.3L852.5,131.3M672.7,312.0L690.7,311.0M852.5,131.3L853.5,149.3M690.7,311.0L708.7,310.1M853.5,149.3L853.8,155.3M708.7,310.1L714.7,309.8M853.8,155.3L854.7,173.2M714.7,309.8L732.6,308.8M855.0,179.2L855.3,185.2M738.6,308.5L744.6,308.2M855.3,185.2L855.7,191.2M855.7,191.2L857.2,221.2M750.6,307.9L780.6,306.3M810.5,304.7L822.5,304.1M859.4,263.1L860.4,281.1M860.4,281.1L861.9,311.0M840.5,303.2L870.5,301.6M861.9,311.0L863.2,335.0M863.2,335.0L863.5,341.0M894.4,300.3L900.4,300.0M863.5,341.0L864.8,365.0M865.4,377.0L867.0,406.9M936.4,298.1L966.3,296.6M867.0,406.9L867.6,418.9M966.3,296.6L978.3,295.9M867.6,418.9L868.8,442.9M978.3,295.9L1002.3,294.7M1002.3,294.7L1026.2,293.4M870.1,466.8L870.4,472.8M1026.2,293.4L1032.2,293.1M870.4,472.8L871.4,490.8M1032.2,293.1L1050.2,292.2M871.7,496.8L873.2,526.8M1056.2,291.9L1086.2,290.3M856.3,89.0L857.3,107.0M649.1,319.2L667.0,318.3M857.3,107.0L857.9,119.0M667.0,318.3L679.0,317.6M857.9,119.0L859.5,149.0M679.0,317.6L709.0,316.1M859.5,149.0L860.1,160.9M709.0,316.1L721.0,315.4M860.1,160.9L861.3,184.9M721.0,315.4L744.9,314.2M861.3,184.9L862.0,196.9M744.9,314.2L756.9,313.5M862.0,196.9L862.6,208.9M756.9,313.5L768.9,312.9M862.6,208.9L863.8,232.8M768.9,312.9L792.9,311.7M863.8,232.8L865.4,262.8M792.9,311.7L822.8,310.1M865.4,262.8L866.4,280.8M866.4,280.8L866.7,286.8M840.8,309.2L846.8,308.8M866.7,286.8L867.0,292.8M846.8,308.8L852.8,308.5M852.8,308.5L882.8,307.0M868.6,322.7L868.9,328.7M882.8,307.0L888.7,306.6M868.9,328.7L870.1,352.7M888.7,306.6L912.7,305.4M870.1,352.7L870.4,358.7M912.7,305.4L918.7,305.1M870.4,358.7L871.7,382.6M918.7,305.1L942.7,303.8M871.7,382.6L872.6,400.6M942.7,303.8L960.6,302.9M872.6,400.6L874.2,430.6M990.6,301.3L1002.6,300.7M874.8,442.6L876.4,472.5M1002.6,300.7L1032.5,299.1M876.4,472.5L878.0,502.5M1032.5,299.1L1062.5,297.5M878.0,502.5L879.2,526.4M1062.5,297.5L1086.5,296.3M862.9,100.7L863.9,118.7M661.4,324.6L679.3,323.6M863.9,118.7L864.8,136.7M679.3,323.6L697.3,322.7M697.3,322.7L721.3,321.4M866.1,160.6L867.0,178.6M867.0,178.6L867.3,184.6M739.3,320.5L745.3,320.2M867.3,184.6L868.3,202.6M745.3,320.2L763.2,319.2M868.3,202.6L869.8,232.5M763.2,319.2L793.2,317.7M793.2,317.7L805.2,317.0M870.5,244.5L871.4,262.5M805.2,317.0L823.1,316.1M871.4,262.5L872.7,286.5M823.1,316.1L847.1,314.8M872.7,286.5L873.9,310.4M873.9,310.4L874.9,328.4M874.9,328.4L875.5,340.4M901.0,312.0L931.0,310.4M877.1,370.3L878.6,400.3M931.0,310.4L961.0,308.9M878.6,400.3L880.2,430.3M961.0,308.9L990.9,307.3M990.9,307.3L1014.9,306.0M881.5,454.2L882.7,478.2M1038.9,304.8L1050.8,304.2M883.3,490.2L884.6,514.1M1050.8,304.2L1074.8,302.9M649.9,334.2L667.8,333.2M872.2,106.2L872.9,118.2M667.8,333.2L679.8,332.6M679.8,332.6L691.8,332.0M873.5,130.2L874.1,142.2M691.8,332.0L703.8,331.4M874.1,142.2L875.1,160.2M703.8,331.4L721.8,330.4M875.1,160.2L876.6,190.1M721.8,330.4L751.7,328.8M876.6,190.1L877.9,214.1M751.7,328.8L775.7,327.6M775.7,327.6L805.6,326.0M805.6,326.0L817.6,325.4M880.1,256.0L880.7,268.0M817.6,325.4L829.6,324.8M880.7,268.0L881.7,286.0M829.6,324.8L847.6,323.8M881.7,286.0L882.3,298.0M882.3,298.0L882.6,304.0M882.6,304.0L883.2,315.9M865.6,322.9L877.5,322.2M883.2,315.9L883.9,327.9M877.5,322.2L889.5,321.6M883.9,327.9L884.5,339.9M889.5,321.6L901.5,321.0M884.5,339.9L885.1,351.9M901.5,321.0L913.5,320.4M885.1,351.9L886.7,381.9M913.5,320.4L943.5,318.8M886.7,381.9L888.2,411.8M943.5,318.8L973.4,317.2M973.4,317.2L979.4,316.9M890.1,447.8L890.8,459.7M1009.4,315.3L1021.3,314.7M890.8,459.7L891.7,477.7M1021.3,314.7L1039.3,313.8M891.7,477.7L892.6,495.7M1039.3,313.8L1057.3,312.8M892.6,495.7L893.6,513.7M1057.3,312.8L1075.3,311.9M650.3,343.2L656.3,342.9M880.6,93.8L880.9,99.8M656.3,342.9L662.3,342.5M880.9,99.8L882.5,129.7M882.5,129.7L883.1,141.7M883.1,141.7L884.4,165.7M704.3,340.3L728.2,339.1M884.4,165.7L885.9,195.6M728.2,339.1L758.2,337.5M885.9,195.6L886.2,201.6M758.2,337.5L764.2,337.2M886.2,201.6L887.2,219.6M887.2,219.6L887.8,231.6M782.1,336.3L794.1,335.6M887.8,231.6L889.4,261.5M794.1,335.6L824.1,334.1M889.4,261.5L890.3,279.5M824.1,334.1L842.1,333.1M890.3,279.5L890.6,285.5M842.1,333.1L848.1,332.8M890.6,285.5L892.2,315.5M848.1,332.8L878.0,331.2M892.2,315.5L893.5,339.4M878.0,331.2L902.0,330.0M893.5,339.4L893.8,345.4M902.0,330.0L908.0,329.7M893.8,345.4L894.7,363.4M908.0,329.7L926.0,328.7M894.7,363.4L896.3,393.4M896.3,393.4L896.6,399.4M955.9,327.2L961.9,326.8M896.6,399.4L897.9,423.3M961.9,326.8L985.9,325.6M897.9,423.3L898.8,441.3M898.8,441.3L899.1,447.3M1003.8,324.6L1009.8,324.3M899.1,447.3L900.4,471.3M1009.8,324.3L1033.8,323.1M900.4,471.3L901.9,501.2M1033.8,323.1L1063.8,321.5M901.9,501.2L902.3,507.2M1063.8,321.5L1069.8,321.2M886.3,87.5L886.9,99.5M650.6,349.2L662.6,348.5M886.9,99.5L887.2,105.4M662.6,348.5L668.6,348.2M887.2,105.4L887.8,117.4M668.6,348.2L680.6,347.6M887.8,117.4L889.4,147.4M680.6,347.6L710.6,346.0M710.6,346.0L716.6,345.7M716.6,345.7L746.5,344.1M891.3,183.3L892.9,213.3M746.5,344.1L776.5,342.6M892.9,213.3L893.2,219.3M776.5,342.6L782.5,342.3M893.2,219.3L894.4,243.3M782.5,342.3L806.4,341.0M806.4,341.0L824.4,340.1M895.4,261.2L896.3,279.2M824.4,340.1L842.4,339.1M896.3,279.2L897.6,303.2M866.3,337.9L872.3,337.5M899.1,333.1L900.1,351.1M896.3,336.3L914.3,335.3M901.7,381.1L902.6,399.0M902.6,399.0L903.2,411.0M962.2,332.8L974.2,332.2M980.2,331.9L986.2,331.6M986.2,331.6L1004.2,330.6M904.8,441.0L905.4,453.0M1004.2,330.6L1016.1,330.0M905.4,453.0L906.1,465.0M906.1,465.0L907.6,494.9M907.6,494.9L908.3,506.9M1058.1,327.8L1070.1,327.2M895.3,87.0L895.9,99.0M651.1,358.1L663.1,357.5M895.9,99.0L896.2,105.0M663.1,357.5L669.1,357.2M896.2,105.0L896.8,117.0M669.1,357.2L681.1,356.6M897.5,128.9L898.1,140.9M693.1,355.9L705.0,355.3M898.1,140.9L899.7,170.9M899.7,170.9L901.2,200.8M901.2,200.8L902.5,224.8M765.0,352.2L788.9,350.9M902.5,224.8L903.7,248.8M788.9,350.9L812.9,349.7M903.7,248.8L904.4,260.8M812.9,349.7L824.9,349.0M824.9,349.0L830.9,348.7M904.7,266.8L905.3,278.7M830.9,348.7L842.9,348.1M842.9,348.1L854.8,347.5M905.9,290.7L906.6,302.7M854.8,347.5L866.8,346.8M906.6,302.7L907.5,320.7M866.8,346.8L884.8,345.9M884.8,345.9L908.8,344.6M908.8,344.6L910.3,374.6M908.8,344.6L938.7,343.1M910.3,374.6L911.9,404.6M911.9,404.6L912.2,410.6M968.7,341.5L974.7,341.2M912.2,410.6L913.2,428.5M974.7,341.2L992.6,340.2M913.2,428.5L914.1,446.5M1010.6,339.3L1040.6,337.7M915.7,476.5L916.3,488.4M916.3,488.4L917.6,512.4M1052.6,337.1L1076.5,335.9M675.6,365.9L681.5,365.6M681.5,365.6L687.5,365.2M906.1,122.5L907.1,140.5M687.5,365.2L705.5,364.3M705.5,364.3L717.5,363.7M907.7,152.4L909.0,176.4M753.4,361.8L783.4,360.2M911.2,218.3L912.1,236.3M783.4,360.2L801.4,359.3M912.1,236.3L913.7,266.3M913.7,266.3L914.6,284.3M831.3,357.7L849.3,356.8M914.6,284.3L915.2,296.2M915.2,296.2L916.2,314.2M861.3,356.1L879.3,355.2M916.2,314.2L916.5,320.2M879.3,355.2L885.3,354.9M916.5,320.2L917.4,338.2M885.3,354.9L903.2,353.9M917.4,338.2L918.1,350.2M903.2,353.9L915.2,353.3M918.1,350.2L918.4,356.2M915.2,353.3L921.2,353.0M921.2,353.0L933.2,352.4M919.0,368.1L919.9,386.1M933.2,352.4L951.2,351.4M919.9,386.1L920.3,392.1M951.2,351.4L957.2,351.1M957.2,351.1L963.2,350.8M920.6,398.1L921.2,410.1M963.2,350.8L975.1,350.2M975.1,350.2L999.1,348.9M922.5,434.0L924.0,464.0M999.1,348.9L1029.1,347.4M924.0,464.0L924.7,476.0M1029.1,347.4L1041.1,346.7M924.7,476.0L925.9,500.0M1041.1,346.7L1065.0,345.5M925.9,500.0L926.9,517.9M913.2,86.1L914.2,104.0M652.1,376.1L670.0,375.2M914.2,104.0L915.4,128.0M670.0,375.2L694.0,373.9M915.4,128.0L916.1,140.0M694.0,373.9L706.0,373.3M916.1,140.0L916.4,146.0M916.4,146.0L917.0,158.0M712.0,373.0L724.0,372.4M724.0,372.4L729.9,372.0M917.3,163.9L917.9,175.9M729.9,372.0L741.9,371.4M917.9,175.9L919.2,199.9M741.9,371.4L765.9,370.2M765.9,370.2L795.9,368.6M920.8,229.9L921.7,247.8M795.9,368.6L813.8,367.6M921.7,247.8L923.0,271.8M813.8,367.6L837.8,366.4M923.0,271.8L924.2,295.8M924.2,295.8L925.2,313.7M861.8,365.1L879.7,364.2M925.2,313.7L926.7,343.7M879.7,364.2L909.7,362.6M926.7,343.7L928.0,367.7M909.7,362.6L933.7,361.4M928.0,367.7L928.6,379.7M933.7,361.4L945.7,360.7M945.7,360.7L975.6,359.2M930.2,409.6L930.5,415.6M975.6,359.2L981.6,358.9M930.5,415.6L932.1,445.6M981.6,358.9L1011.6,357.3M932.1,445.6L933.0,463.5M933.0,463.5L934.6,493.5M1029.5,356.3L1059.5,354.8M1059.5,354.8L1083.5,353.5M682.3,380.5L688.3,380.2M921.1,121.7L922.1,139.7M688.3,380.2L706.3,379.3M922.1,139.7L923.3,163.6M706.3,379.3L730.3,378.0M923.3,163.6L924.6,187.6M730.3,378.0L754.2,376.8M924.6,187.6L925.5,205.6M754.2,376.8L772.2,375.8M925.5,205.6L925.8,211.6M925.8,211.6L927.1,235.5M778.2,375.5L802.2,374.3M927.1,235.5L927.4,241.5M802.2,374.3L808.2,373.9M927.4,241.5L929.0,271.5M808.2,373.9L838.1,372.4M929.0,271.5L929.3,277.5M838.1,372.4L844.1,372.1M844.1,372.1L856.1,371.4M862.1,371.1L874.1,370.5M930.8,307.4L931.8,325.4M874.1,370.5L892.0,369.6M931.8,325.4L933.0,349.4M933.0,349.4L934.6,379.3M934.6,379.3L935.6,397.3M946.0,366.7L963.9,365.8M935.6,397.3L936.2,409.3M936.2,409.3L937.8,439.3M975.9,365.2L1005.9,363.6M937.8,439.3L939.0,463.2M1005.9,363.6L1029.9,362.3M939.0,463.2L939.6,475.2M1029.9,362.3L1041.8,361.7M939.6,475.2L939.9,481.2M1041.8,361.7L1047.8,361.4M939.9,481.2L941.5,511.2M1047.8,361.4L1077.8,359.8M928.2,85.3L929.8,115.2M682.8,389.5L712.8,388.0M931.4,145.2L931.7,151.2M712.8,388.0L718.8,387.6M931.7,151.2L933.2,181.1M718.8,387.6L748.7,386.1M933.2,181.1L933.9,193.1M748.7,386.1L760.7,385.4M933.9,193.1L934.2,199.1M760.7,385.4L766.7,385.1M934.2,199.1L934.5,205.1M766.7,385.1L772.7,384.8M934.5,205.1L935.7,229.1M796.6,383.6L808.6,382.9M936.4,241.1L937.9,271.0M808.6,382.9L838.6,381.4M937.9,271.0L939.2,295.0M838.6,381.4L862.6,380.1M939.2,295.0L940.1,313.0M880.5,379.2L892.5,378.5M940.8,324.9L942.3,354.9M892.5,378.5L922.5,377.0M942.3,354.9L942.7,360.9M942.7,360.9L943.9,384.9M943.9,384.9L945.2,408.8M952.4,375.4L976.4,374.1M976.4,374.1L1000.4,372.9M1000.4,372.9L1024.3,371.6M947.7,456.8L948.3,468.7M1024.3,371.6L1036.3,371.0M1036.3,371.0L1060.3,369.7M949.6,492.7L950.8,516.7M653.3,400.1L683.3,398.5M938.8,114.8L939.4,126.7M683.3,398.5L695.3,397.9M939.4,126.7L940.0,138.7M695.3,397.9L707.2,397.3M707.2,397.3L725.2,396.3M941.0,156.7L941.6,168.7M725.2,396.3L737.2,395.7M941.6,168.7L942.2,180.7M737.2,395.7L749.2,395.1M942.2,180.7L942.5,186.7M749.2,395.1L755.2,394.8M755.2,394.8L767.2,394.1M943.2,198.6L944.7,228.6M944.7,228.6L945.4,240.6M797.1,392.6L809.1,391.9M945.4,240.6L946.0,252.6M809.1,391.9L821.1,391.3M821.1,391.3L851.0,389.7M947.6,282.5L948.2,294.5M851.0,389.7L863.0,389.1M863.0,389.1L893.0,387.5M949.8,324.5L950.4,336.5M893.0,387.5L905.0,386.9M950.4,336.5L951.0,348.4M916.9,386.3L934.9,385.3M952.0,366.4L953.2,390.4M934.9,385.3L958.9,384.1M953.2,390.4L954.5,414.3M958.9,384.1L982.9,382.8M954.5,414.3L955.7,438.3M982.9,382.8L1006.8,381.6M955.7,438.3L957.3,468.3M1006.8,381.6L1036.8,380.0M957.3,468.3L958.2,486.2M1036.8,380.0L1054.8,379.0M958.2,486.2L959.2,504.2M946.2,84.3L946.5,90.3M653.8,409.1L659.8,408.8M659.8,408.8L689.7,407.2M689.7,407.2L707.7,406.3M950.0,156.2L950.3,162.2M725.7,405.3L731.7,405.0M731.7,405.0L743.7,404.4M950.9,174.2L951.5,186.2M743.7,404.4L755.6,403.7M755.6,403.7L767.6,403.1M952.2,198.2L953.7,228.1M767.6,403.1L797.6,401.5M953.7,228.1L955.0,252.1M955.0,252.1L955.9,270.1M821.6,400.3L839.5,399.3M955.9,270.1L956.9,288.0M956.9,288.0L958.4,318.0M857.5,398.4L887.5,396.8M958.4,318.0L959.1,330.0M887.5,396.8L899.4,396.2M959.1,330.0L959.7,342.0M959.7,342.0L960.9,365.9M960.9,365.9L962.5,395.9M935.4,394.3L965.4,392.7M962.5,395.9L963.5,413.9M965.4,392.7L983.3,391.8M963.5,413.9L964.4,431.9M983.3,391.8L1001.3,390.9M964.4,431.9L965.3,449.8M1001.3,390.9L1019.3,389.9M965.3,449.8L966.0,461.8M1019.3,389.9L1031.3,389.3M966.0,461.8L967.2,485.8M1031.3,389.3L1055.2,388.0M967.2,485.8L968.2,503.8M1055.2,388.0L1073.2,387.1M953.7,114.0L954.7,131.9M954.7,131.9L955.9,155.9M702.0,412.6L726.0,411.3M955.9,155.9L956.6,167.9M726.0,411.3L738.0,410.7M956.6,167.9L957.2,179.9M738.0,410.7L750.0,410.0M957.2,179.9L957.5,185.9M750.0,410.0L756.0,409.7M957.5,185.9L958.1,197.9M756.0,409.7L767.9,409.1M958.1,197.9L959.1,215.8M767.9,409.1L785.9,408.2M959.7,227.8L961.0,251.8M797.9,407.5L821.9,406.3M961.0,251.8L961.3,257.8M821.9,406.3L827.9,406.0M961.3,257.8L962.9,287.7M827.9,406.0L857.8,404.4M962.9,287.7L964.4,317.7M857.8,404.4L887.8,402.8M887.8,402.8L911.7,401.6M911.7,401.6L923.7,400.9M966.3,353.6L967.6,377.6M967.6,377.6L967.9,383.6M947.7,399.7L953.7,399.4M967.9,383.6L968.8,401.6M968.8,401.6L969.5,413.6M969.5,413.6L969.8,419.6M989.6,397.5L1001.6,396.9M970.4,431.5L970.7,437.5M1001.6,396.9L1007.6,396.5M971.0,443.5L972.0,461.5M1013.6,396.2L1031.6,395.3M972.0,461.5L972.6,473.5M1031.6,395.3L1043.6,394.7M972.6,473.5L973.2,485.5M973.2,485.5L973.8,497.4M1055.5,394.0L1067.5,393.4M973.8,497.4L975.4,527.4M1067.5,393.4L1097.5,391.8M958.2,83.7L958.8,95.7M654.4,421.1L666.4,420.4M958.8,95.7L959.4,107.7M666.4,420.4L678.4,419.8M959.4,107.7L960.1,119.7M678.4,419.8L690.4,419.2M960.1,119.7L960.4,125.6M690.4,419.2L696.4,418.9M960.4,125.6L961.0,137.6M696.4,418.9L708.3,418.2M961.0,137.6L961.6,149.6M708.3,418.2L720.3,417.6M961.6,149.6L962.9,173.6M962.9,173.6L963.8,191.6M963.8,191.6L964.5,203.5M762.3,415.4L774.2,414.8M964.5,203.5L965.4,221.5M965.4,221.5L966.0,233.5M792.2,413.8L804.2,413.2M966.0,233.5L966.3,239.5M804.2,413.2L810.2,412.9M966.3,239.5L966.6,245.5M810.2,412.9L816.2,412.6M966.6,245.5L967.0,251.5M967.0,251.5L967.9,269.4M822.2,412.3L840.2,411.3M840.2,411.3L852.1,410.7M968.5,281.4L969.5,299.4M852.1,410.7L870.1,409.8M969.5,299.4L970.4,317.4M870.1,409.8L888.1,408.8M888.1,408.8L912.1,407.6M912.1,407.6L936.0,406.3M972.9,365.3L974.2,389.3M936.0,406.3L960.0,405.0M974.2,389.3L974.5,395.3M974.5,395.3L975.8,419.2M966.0,404.7L990.0,403.5M975.8,419.2L976.7,437.2M990.0,403.5L1007.9,402.5M976.7,437.2L978.0,461.2M1007.9,402.5L1031.9,401.3M978.0,461.2L979.5,491.1M1031.9,401.3L1061.9,399.7M979.5,491.1L980.8,515.1M654.7,427.1L672.7,426.1M672.7,426.1L678.7,425.8M965.4,107.4L967.0,137.3M967.0,137.3L968.2,161.3M708.7,424.2L732.6,423.0M968.2,161.3L969.2,179.3M732.6,423.0L750.6,422.0M750.6,422.0L756.6,421.7M969.5,185.2L970.4,203.2M756.6,421.7L774.6,420.8M970.4,203.2L970.8,209.2M774.6,420.8L780.6,420.5M970.8,209.2L971.1,215.2M780.6,420.5L786.5,420.1M971.1,215.2L972.0,233.2M786.5,420.1L804.5,419.2M972.0,233.2L973.0,251.2M804.5,419.2L822.5,418.3M973.0,251.2L974.2,275.1M822.5,418.3L846.5,417.0M974.2,275.1L975.5,299.1M846.5,417.0L870.4,415.7M870.4,415.7L876.4,415.4M876.4,415.4L900.4,414.2M977.0,329.0L978.6,359.0M900.4,414.2L930.3,412.6M980.2,389.0L981.4,412.9M960.3,411.0L984.3,409.8M981.4,412.9L982.1,424.9M984.3,409.8L996.3,409.2M982.1,424.9L982.7,436.9M996.3,409.2L1008.2,408.5M982.7,436.9L984.3,466.9M1008.2,408.5L1038.2,407.0M984.3,466.9L985.8,496.8M985.8,496.8L987.1,520.8M1068.2,405.4L1092.1,404.1M655.0,433.0L667.0,432.4M970.8,95.1L972.4,125.0M972.4,125.0L973.6,149.0M697.0,430.8L720.9,429.6M973.6,149.0L973.9,155.0M720.9,429.6L726.9,429.3M726.9,429.3L738.9,428.6M974.6,167.0L974.9,172.9M974.9,172.9L976.4,202.9M744.9,428.3L774.9,426.8M976.4,202.9L978.0,232.9M774.9,426.8L804.8,425.2M978.0,232.9L978.9,250.8M804.8,425.2L822.8,424.3M978.9,250.8L980.2,274.8M980.2,274.8L981.1,292.8M846.8,423.0L864.8,422.1M981.1,292.8L982.4,316.8M888.7,420.8L918.7,419.2M918.7,419.2L924.7,418.9M984.3,352.7L984.9,364.7M924.7,418.9L936.7,418.3M984.9,364.7L986.2,388.7M936.7,418.3L960.6,417.0M986.2,388.7L986.5,394.6M960.6,417.0L966.6,416.7M986.5,394.6L988.1,424.6M966.6,416.7L996.6,415.1M988.1,424.6L989.6,454.6M996.6,415.1L1026.5,413.6M989.6,454.6L990.6,472.5M1026.5,413.6L1044.5,412.6M990.6,472.5L992.1,502.5M1044.5,412.6L1074.5,411.1M976.1,82.8L977.1,100.7M977.1,100.7L978.3,124.7M673.3,438.1L697.3,436.8M978.3,124.7L979.9,154.7M697.3,436.8L727.3,435.3M979.9,154.7L981.5,184.6M727.3,435.3L757.2,433.7M981.5,184.6L982.4,202.6M757.2,433.7L775.2,432.8M982.4,202.6L983.1,214.6M775.2,432.8L787.2,432.1M983.1,214.6L983.4,220.6M787.2,432.1L793.2,431.8M983.4,220.6L984.3,238.5M793.2,431.8L811.1,430.9M984.3,238.5L984.6,244.5M811.1,430.9L817.1,430.6M817.1,430.6L847.1,429.0M986.2,274.5L987.8,304.5M847.1,429.0L877.0,427.4M987.8,304.5L988.7,322.4M895.0,426.5L925.0,424.9M990.3,352.4L991.5,376.4M925.0,424.9L948.9,423.6M991.5,376.4L992.2,388.3M948.9,423.6L960.9,423.0M960.9,423.0L990.9,421.5M993.7,418.3L994.7,436.3M990.9,421.5L1008.9,420.5M994.7,436.3L996.2,466.2M1008.9,420.5L1038.8,418.9M996.9,478.2L998.4,508.2M1050.8,418.3L1080.8,416.7M655.7,445.0L673.6,444.1M673.6,444.1L679.6,443.8M983.4,106.4L983.7,112.4M983.7,112.4L985.0,136.4M685.6,443.5L709.6,442.2M985.0,136.4L986.5,166.3M709.6,442.2L739.6,440.6M986.5,166.3L987.8,190.3M987.8,190.3L988.1,196.3M763.5,439.4L769.5,439.1M988.1,196.3L989.4,220.3M769.5,439.1L793.5,437.8M989.4,220.3L989.7,226.2M793.5,437.8L799.5,437.5M989.7,226.2L990.9,250.2M799.5,437.5L823.4,436.2M823.4,436.2L847.4,435.0M992.8,286.2L993.8,304.1M859.4,434.4L877.4,433.4M994.7,322.1L996.0,346.1M895.3,432.5L919.3,431.2M919.3,431.2L931.3,430.6M996.6,358.1L998.2,388.0M931.3,430.6L961.2,429.0M998.2,388.0L998.8,400.0M961.2,429.0L973.2,428.4M998.8,400.0L1000.0,424.0M973.2,428.4L997.2,427.1M1000.0,424.0L1001.0,442.0M997.2,427.1L1015.2,426.2M1001.0,442.0L1001.6,453.9M1015.2,426.2L1027.2,425.6M1001.6,453.9L1002.2,465.9M1027.2,425.6L1039.1,424.9M1002.2,465.9L1003.8,495.9M1039.1,424.9L1069.1,423.4M1003.8,495.9L1004.7,513.9M1069.1,423.4L1087.1,422.4M656.0,451.0L674.0,450.1M989.1,100.1L990.3,124.1M674.0,450.1L697.9,448.8M990.3,124.1L991.0,136.1M697.9,448.8L709.9,448.2M991.0,136.1L992.5,166.0M992.5,166.0L993.5,184.0M739.9,446.6L757.8,445.7M757.8,445.7L763.8,445.4M993.8,190.0L994.1,196.0M763.8,445.4L769.8,445.1M769.8,445.1L781.8,444.4M994.7,208.0L995.7,225.9M995.7,225.9L997.2,255.9M799.8,443.5L829.7,441.9M997.2,255.9L998.2,273.9M829.7,441.9L847.7,441.0M871.7,439.7L889.7,438.8M1000.4,315.8L1001.0,327.8M889.7,438.8L901.6,438.1M1001.0,327.8L1001.3,333.8M901.6,438.1L907.6,437.8M907.6,437.8L937.6,436.3M1003.2,369.7L1004.5,393.7M943.6,435.9L967.6,434.7M1004.5,393.7L1006.0,423.7M1006.0,423.7L1007.6,453.6M997.5,433.1L1027.5,431.5M1027.5,431.5L1045.4,430.6M1008.5,471.6L1008.9,477.6M1045.4,430.6L1051.4,430.3M1008.9,477.6L1009.8,495.6M1051.4,430.3L1069.4,429.4M1009.8,495.6L1011.4,525.5M656.5,460.0L686.4,458.4M998.7,111.6L1000.3,141.6M1000.3,141.6L1000.9,153.6M716.4,456.9L728.4,456.2M728.4,456.2L752.3,455.0M752.3,455.0L764.3,454.4M764.3,454.4L770.3,454.0M1003.1,195.5L1004.7,225.5M770.3,454.0L800.3,452.5M1004.7,225.5L1005.9,249.4M1005.9,249.4L1006.2,255.4M824.2,451.2L830.2,450.9M1006.2,255.4L1007.8,285.4M830.2,450.9L860.2,449.3M1007.8,285.4L1008.7,303.4M860.2,449.3L878.1,448.4M1008.7,303.4L1009.4,315.3M1009.4,315.3L1010.3,333.3M890.1,447.8L908.1,446.8M1010.3,333.3L1011.9,363.3M908.1,446.8L938.1,445.2M1011.9,363.3L1012.2,369.3M938.1,445.2L944.1,444.9M1012.2,369.3L1013.4,393.2M944.1,444.9L968.0,443.7M1013.4,393.2L1015.0,423.2M968.0,443.7L998.0,442.1M1016.3,447.2L1017.5,471.1M1022.0,440.9L1045.9,439.6M1017.5,471.1L1018.2,483.1M1045.9,439.6L1057.9,439.0M1018.2,483.1L1018.8,495.1M1057.9,439.0L1069.9,438.3M1018.8,495.1L1019.4,507.1M1069.9,438.3L1081.9,437.7M656.8,466.0L668.7,465.4M1005.0,117.3L1005.9,135.3M692.7,464.1L710.7,463.2M1005.9,135.3L1007.2,159.2M710.7,463.2L734.7,461.9M1007.2,159.2L1007.5,165.2M734.7,461.9L740.7,461.6M1007.5,165.2L1007.8,171.2M740.7,461.6L746.6,461.3M1007.8,171.2L1008.4,183.2M1008.4,183.2L1008.8,189.2M758.6,460.7L764.6,460.3M764.6,460.3L794.6,458.8M1010.3,219.2L1010.6,225.1M794.6,458.8L800.6,458.5M1010.6,225.1L1011.9,249.1M1011.9,249.1L1013.2,273.1M1013.2,273.1L1013.5,279.1M848.5,455.9L854.5,455.6M1013.5,279.1L1014.4,297.0M854.5,455.6L872.5,454.7M1014.4,297.0L1015.4,315.0M872.5,454.7L890.4,453.8M1015.4,315.0L1016.0,327.0M1016.0,327.0L1016.9,345.0M902.4,453.1L920.4,452.2M1016.9,345.0L1018.5,374.9M1018.5,374.9L1019.8,398.9M950.4,450.6L974.3,449.4M1019.8,398.9L1020.4,410.9M974.3,449.4L986.3,448.7M1020.4,410.9L1021.3,428.9M986.3,448.7L1004.3,447.8M1021.3,428.9L1022.3,446.8M1004.3,447.8L1022.3,446.8M1022.3,446.8L1023.5,470.8M1022.3,446.8L1046.2,445.6M1023.5,470.8L1024.8,494.8M1046.2,445.6L1070.2,444.3M1024.8,494.8L1026.0,518.7M1070.2,444.3L1094.2,443.1M1012.1,80.9L1012.7,92.9M1013.4,104.8L1014.3,122.8M681.2,473.7L699.2,472.8M1014.3,122.8L1015.6,146.8M699.2,472.8L723.1,471.5M723.1,471.5L747.1,470.3M1016.8,170.8L1018.4,200.7M747.1,470.3L777.1,468.7M777.1,468.7L789.1,468.1M1019.0,212.7L1019.3,218.7M789.1,468.1L795.0,467.8M1019.3,218.7L1019.6,224.7M795.0,467.8L801.0,467.4M1019.6,224.7L1019.9,230.7M807.0,467.1L825.0,466.2M1020.9,248.6L1021.8,266.6M825.0,466.2L843.0,465.3M1021.8,266.6L1023.4,296.6M843.0,465.3L872.9,463.7M1023.4,296.6L1025.0,326.5M872.9,463.7L902.9,462.1M1025.0,326.5L1026.2,350.5M902.9,462.1L926.9,460.9M1026.2,350.5L1027.5,374.5M926.9,460.9L950.8,459.6M1027.5,374.5L1028.1,386.5M950.8,459.6L962.8,459.0M962.8,459.0L980.8,458.0M1029.1,404.4L1029.4,410.4M980.8,458.0L986.8,457.7M1029.4,410.4L1030.9,440.4M986.8,457.7L1016.7,456.1M1030.9,440.4L1031.3,446.4M1016.7,456.1L1022.7,455.8M1031.3,446.4L1032.8,476.3M1022.7,455.8L1052.7,454.3M1032.8,476.3L1034.1,500.3M1052.7,454.3L1076.7,453.0M657.7,484.0L687.7,482.4M1024.2,140.3L1024.9,152.3M717.6,480.8L729.6,480.2M1024.9,152.3L1025.2,158.3M729.6,480.2L735.6,479.9M1025.2,158.3L1026.1,176.3M735.6,479.9L753.6,478.9M1026.1,176.3L1026.7,188.3M753.6,478.9L765.6,478.3M1026.7,188.3L1028.3,218.2M765.6,478.3L795.5,476.8M795.5,476.8L825.5,475.2M1029.9,248.2L1030.8,266.1M825.5,475.2L843.5,474.2M843.5,474.2L855.4,473.6M855.4,473.6L867.4,473.0M1032.1,290.1L1032.4,296.1M867.4,473.0L873.4,472.7M1032.4,296.1L1033.0,308.1M1033.0,308.1L1034.3,332.1M885.4,472.0L909.4,470.8M1034.3,332.1L1034.6,338.0M909.4,470.8L915.4,470.5M1034.6,338.0L1035.5,356.0M915.4,470.5L933.3,469.5M933.3,469.5L957.3,468.3M1037.4,392.0L1039.0,421.9M969.3,467.6L999.2,466.1M1039.0,421.9L1039.9,439.9M999.2,466.1L1017.2,465.1M1039.9,439.9L1041.2,463.9M1017.2,465.1L1041.2,463.9M1041.2,463.9L1042.8,493.8M1041.2,463.9L1071.1,462.3M1042.8,493.8L1044.3,523.8M1071.1,462.3L1101.1,460.7M1027.1,80.1L1027.7,92.1M658.0,490.0L670.0,489.3M1027.7,92.1L1029.0,116.0M670.0,489.3L694.0,488.1M1029.0,116.0L1030.2,140.0M694.0,488.1L717.9,486.8M717.9,486.8L735.9,485.9M1031.2,158.0L1032.1,176.0M735.9,485.9L753.9,484.9M1032.1,176.0L1032.7,187.9M753.9,484.9L765.9,484.3M1033.0,193.9L1033.4,199.9M771.9,484.0L777.9,483.7M777.9,483.7L789.8,483.1M1034.0,211.9L1035.2,235.9M789.8,483.1L813.8,481.8M1035.2,235.9L1036.5,259.8M1036.5,259.8L1037.1,271.8M837.8,480.5L849.8,479.9M849.8,479.9L867.7,479.0M1038.1,289.8L1039.0,307.8M867.7,479.0L885.7,478.0M1039.0,307.8L1039.6,319.8M885.7,478.0L897.7,477.4M1039.6,319.8L1040.6,337.7M897.7,477.4L915.7,476.5M1040.6,337.7L1042.1,367.7M915.7,476.5L945.6,474.9M1043.1,385.7L1043.7,397.7M975.6,473.3L981.6,473.0M1044.0,403.6L1045.6,433.6M981.6,473.0L1011.5,471.4M1045.6,433.6L1045.9,439.6M1011.5,471.4L1017.5,471.1M1045.9,439.6L1046.9,457.6M1017.5,471.1L1035.5,470.2M1046.9,457.6L1048.4,487.5M1035.5,470.2L1065.5,468.6M1048.4,487.5L1049.4,505.5M1065.5,468.6L1083.4,467.7M1036.1,79.6L1037.3,103.6M658.5,499.0L682.5,497.7M1037.3,103.6L1038.3,121.6M682.5,497.7L700.4,496.8M1038.9,133.5L1040.5,163.5M712.4,496.1L742.4,494.6M1040.5,163.5L1041.4,181.5M742.4,494.6L760.4,493.6M1041.4,181.5L1043.0,211.4M760.4,493.6L790.3,492.0M790.3,492.0L802.3,491.4M802.3,491.4L832.3,489.8M1045.2,253.4L1045.8,265.4M832.3,489.8L844.2,489.2M1045.8,265.4L1046.7,283.3M844.2,489.2L862.2,488.3M1046.7,283.3L1047.4,295.3M1047.4,295.3L1047.7,301.3M874.2,487.6L880.2,487.3M1047.7,301.3L1048.6,319.3M880.2,487.3L898.2,486.4M1048.6,319.3L1050.2,349.2M1050.2,349.2L1051.1,367.2M928.1,484.8L946.1,483.9M1051.1,367.2L1052.4,391.2M946.1,483.9L970.1,482.6M1052.4,391.2L1053.6,415.2M970.1,482.6L994.0,481.4M1053.6,415.2L1054.9,439.1M994.0,481.4L1018.0,480.1M1054.9,439.1L1055.5,451.1M1018.0,480.1L1030.0,479.5M1055.5,451.1L1056.5,469.1M1056.5,469.1L1057.4,487.1M1065.9,477.6L1071.9,477.3M1057.7,493.1L1058.7,511.0M1042.1,79.3L1043.0,97.3M658.8,504.9L676.8,504.0M676.8,504.0L694.8,503.1M694.8,503.1L718.7,501.8M1045.2,139.2L1046.1,157.2M718.7,501.8L736.7,500.9M1046.1,157.2L1046.8,169.2M736.7,500.9L748.7,500.2M748.7,500.2L760.7,499.6M760.7,499.6L772.7,499.0M1048.0,193.1L1049.3,217.1M772.7,499.0L796.6,497.7M1049.3,217.1L1050.2,235.1M796.6,497.7L814.6,496.8M1050.2,235.1L1051.8,265.0M814.6,496.8L844.6,495.2M1051.8,265.0L1052.7,283.0M1052.7,283.0L1054.0,307.0M862.5,494.3L886.5,493.0M1054.0,307.0L1055.6,337.0M886.5,493.0L916.5,491.4M1055.6,337.0L1055.9,342.9M922.4,491.1L952.4,489.6M952.4,489.6L958.4,489.2M1057.8,378.9L1058.7,396.9M958.4,489.2L976.4,488.3M1058.7,396.9L1059.0,402.9M976.4,488.3L982.4,488.0M1059.0,402.9L1059.6,414.8M1059.6,414.8L1060.0,420.8M994.3,487.4L1000.3,487.0M1060.0,420.8L1061.2,444.8M1024.3,485.8L1048.3,484.5M1062.5,468.8L1063.1,480.8M1048.3,484.5L1060.3,483.9M1063.1,480.8L1064.7,510.7M1048.0,79.0L1049.6,108.9M659.1,510.9L689.1,509.4M1049.6,108.9L1050.2,120.9M1050.2,120.9L1051.8,150.9M701.1,508.7L731.0,507.2M1051.8,150.9L1052.1,156.9M1052.1,156.9L1053.7,186.8M737.0,506.9L767.0,505.3M767.0,505.3L784.9,504.3M784.9,504.3L808.9,503.1M1056.8,246.8L1057.2,252.8M1057.2,252.8L1057.8,264.7M832.9,501.8L844.9,501.2M844.9,501.2L868.8,499.9M1059.0,288.7L1060.0,306.7M1060.0,306.7L1060.3,312.7M886.8,499.0L892.8,498.7M892.8,498.7L898.8,498.4M1060.6,318.7L1061.2,330.6M898.8,498.4L910.8,497.7M910.8,497.7L934.7,496.5M1062.5,354.6L1064.1,384.6M1064.1,384.6L1065.6,414.5M964.7,494.9L994.7,493.4M1065.6,414.5L1067.2,444.5M1067.2,444.5L1068.8,474.4M1054.0,78.7L1055.6,108.6M659.4,516.9L689.4,515.4M1055.6,108.6L1056.2,120.6M689.4,515.4L701.4,514.7M701.4,514.7L719.4,513.8M719.4,513.8L743.3,512.5M1058.4,162.6L1059.7,186.5M743.3,512.5L767.3,511.3M767.3,511.3L797.2,509.7M1061.3,216.5L1062.5,240.5M797.2,509.7L821.2,508.5M1062.5,240.5L1063.1,252.4M821.2,508.5L833.2,507.8M1063.1,252.4L1063.8,264.4M833.2,507.8L845.2,507.2M1063.8,264.4L1065.3,294.4M845.2,507.2L875.1,505.6M1065.3,294.4L1066.6,318.3M875.1,505.6L899.1,504.4M1066.6,318.3L1067.5,336.3M1067.5,336.3L1068.5,354.3M917.1,503.4L935.1,502.5M1068.5,354.3L1069.1,366.3M935.1,502.5L947.0,501.9M1069.1,366.3L1069.7,378.3M1069.7,378.3L1071.3,408.2M959.0,501.2L989.0,499.7M1071.3,408.2L1072.3,426.2M989.0,499.7L1007.0,498.7M1072.3,426.2L1073.2,444.2M1007.0,498.7L1024.9,497.8M1073.2,444.2L1074.8,474.1M1024.9,497.8L1054.9,496.2M1074.8,474.1L1076.0,498.1M1054.9,496.2L1078.9,494.9" fill="none" stroke="#fbfbfb" stroke-width="1" opacity=".9"/>
<clipPath id="fc2"><polygon points="689.0,117.0 737.0,117.0 737.0,132.0 689.0,133.0"/></clipPath><path clip-path="url(#fc2)" d="M682.6,94.4L706.6,94.4M706.6,94.4L712.6,94.4M682.6,124.4L682.6,130.4M712.6,94.4L718.6,94.4M682.6,130.4L682.6,142.4M682.6,142.4L682.6,148.4M730.6,94.4L736.6,94.4M688.6,94.4L688.6,106.4M682.6,100.4L694.6,100.4M688.6,106.4L688.6,124.4M694.6,100.4L712.6,100.4M688.6,124.4L688.6,136.4M712.6,100.4L724.6,100.4M688.6,136.4L688.6,166.4M724.6,100.4L754.6,100.4M694.6,94.4L694.6,112.4M682.6,106.4L700.6,106.4M694.6,112.4L694.6,118.4M700.6,106.4L706.6,106.4M706.6,106.4L718.6,106.4M694.6,130.4L694.6,142.4M694.6,142.4L694.6,154.4M730.6,106.4L742.6,106.4M694.6,154.4L694.6,172.4M742.6,106.4L760.6,106.4M700.6,94.4L700.6,112.4M682.6,112.4L700.6,112.4M700.6,112.4L700.6,118.4M706.6,112.4L730.6,112.4M700.6,142.4L700.6,160.4M730.6,112.4L748.6,112.4M709.6,94.4L709.6,124.4M682.6,121.4L712.6,121.4M709.6,124.4L709.6,142.4M712.6,121.4L730.6,121.4M709.6,142.4L709.6,160.4M730.6,121.4L748.6,121.4M715.6,94.4L715.6,118.4M682.6,127.4L706.6,127.4M715.6,118.4L715.6,136.4M706.6,127.4L724.6,127.4M715.6,136.4L715.6,160.4M724.6,127.4L748.6,127.4M721.6,94.4L721.6,100.4M682.6,133.4L688.6,133.4M688.6,133.4L718.6,133.4M721.6,130.4L721.6,142.4M718.6,133.4L730.6,133.4M721.6,142.4L721.6,166.4M730.6,133.4L754.6,133.4M727.6,94.4L727.6,124.4M682.6,139.4L712.6,139.4M712.6,139.4L718.6,139.4M727.6,130.4L727.6,136.4M727.6,136.4L727.6,160.4M724.6,139.4L748.6,139.4M682.6,148.4L706.6,148.4M736.6,118.4L736.6,136.4M736.6,136.4L736.6,160.4M742.6,112.4L742.6,118.4M700.6,154.4L706.6,154.4M742.6,118.4L742.6,136.4M742.6,136.4L742.6,160.4M724.6,154.4L748.6,154.4" fill="none" stroke="#fbfbfb" stroke-width="1" opacity=".9"/>
<path d="M290.0,117.0L318.0,142.0L345.0,163.0L368.0,183.0L385.0,193.0" fill="none" stroke="#fdfdfd" stroke-width="4.5" stroke-linecap="round"/>
<path d="M884.0,229.0L951.0,232.0" fill="none" stroke="#fdfdfd" stroke-width="5" />
<path d="M851.0,117.0L857.0,138.0L851.0,157.0L872.0,159.0L902.0,187.0L951.0,198.0" fill="none" stroke="#fcfcfc" stroke-width="2.2" />
<path d="M887.0,244.0L919.0,253.0L951.0,287.0" fill="none" stroke="#fcfcfc" stroke-width="2.2" />
<path d="M886.0,262.0L920.0,300.0L951.0,345.0" fill="none" stroke="#fbfbfb" stroke-width="2" />
<path d="M316.8,117L458,117C462,134 458,150 447,170C440,184 432,196 416,200C402,198 390,186 378,178.5L361,165.5L346.8,151.2L329.6,134Z" fill="#cdd3d6"/>
<polygon points="483,190 503,178 522,205 512,214 498,200" fill="#dfe2de"/>
<polygon points="448,414 456,412 461,438 452,441" fill="#d3d8da"/>
<polygon points="486,424 508,422 512,446 494,448" fill="#d6dadb"/>
<polygon points="338,302 348,302 352,322 338,324" fill="#dcdfe0"/>
<polygon points="700,368 716,372 718,420 706,430 698,400" fill="#e0e4df"/>
<polygon points="790,230 880,222 886,246 800,250" fill="#eeeeee"/>
<clipPath id="rc0"><polygon points="349.0,215.0 372.0,214.0 398.0,228.0 425.0,256.0 440.0,285.0 420.0,300.0 400.0,320.0 392.0,318.0 383.0,305.0 375.0,290.0 352.0,250.0"/></clipPath>
<g clip-path="url(#rc0)" fill="none">
<path d="M320.6,255.5L363.2,223.4M363.2,223.4L385.5,206.6M338.5,279.3L381.1,247.2M350.2,282.8L381.4,259.3M415.8,259.1L452.7,231.3M346.2,336.0L374.3,314.8M411.1,287.1L455.8,253.5M315.8,283.5L333.9,307.6M314.0,234.8L338.1,266.7M334.0,219.7L358.1,251.6M410.1,320.6L422.0,336.3M376.1,263.3L422.1,324.4M422.1,324.4L427.8,331.9M415.1,304.0L433.1,327.9M361.6,198.9L385.7,230.9M395.4,173.4L419.5,205.4M455.8,253.5L483.4,290.1M404.1,166.9L428.2,198.8" stroke="#a9d2ec" stroke-width="1.8"/>
<path d="M314.0,234.8L350.8,207.0M350.8,207.0L373.2,190.2M373.2,190.2L404.1,166.9M292.4,264.7L331.3,235.4M331.3,235.4L379.7,198.9M379.7,198.9L410.7,175.5M385.5,206.6L416.5,183.3M304.2,280.4L326.6,263.6M326.6,263.6L369.2,231.4M369.2,231.4L385.7,219.0M385.7,219.0L422.5,191.3M309.9,288.0L338.1,266.7M338.1,266.7L380.1,235.1M380.1,235.1L413.8,209.7M413.8,209.7L428.2,198.8M316.1,296.2L338.5,279.3M381.1,247.2L414.8,221.9M414.8,221.9L434.4,207.1M381.4,259.3L414.8,234.2M414.8,234.2L440.3,214.9M361.6,286.7L403.8,254.9M403.8,254.9L426.7,237.7M426.7,237.7L446.3,222.9M334.4,320.4L356.8,303.6M356.8,303.6L382.6,284.1M378.9,298.5L399.4,283.1M399.4,283.1L427.3,262.0M427.3,262.0L458.2,238.7M374.3,314.8L394.4,299.7M355.7,348.8L372.3,336.2M372.3,336.2L389.3,323.5M389.3,323.5L431.5,291.7M431.5,291.7L448.5,278.9M448.5,278.9L474.0,259.6M361.9,356.9L395.4,331.6M395.4,331.6L443.3,295.5M443.3,295.5L480.2,267.8M406.9,335.8L449.5,303.7M373.8,372.7L422.0,336.3M422.0,336.3L438.7,323.7M438.7,323.7L477.6,294.4M477.6,294.4L492.0,283.5M334.4,320.4L361.9,356.9M361.9,356.9L373.8,372.7M333.9,307.6L367.7,352.5M367.7,352.5L379.6,368.2M297.0,247.6L333.2,295.6M302.4,243.5L344.6,299.5M344.6,299.5L362.8,323.5M362.8,323.5L390.3,360.1M308.2,239.1L338.5,279.3M338.5,279.3L390.4,348.2M390.4,348.2L396.1,355.8M338.1,266.7L356.2,290.8M356.2,290.8L401.9,351.4M319.4,230.7L337.8,255.1M373.5,302.5L407.3,347.4M324.7,226.7L348.8,258.6M348.8,258.6L400.8,327.6M358.1,251.6L410.1,320.6M363.6,235.7L415.1,304.0M411.1,287.1L433.0,316.1M433.0,316.1L438.7,323.7M356.0,203.1L386.3,243.3M386.3,243.3L404.5,267.6M437.7,299.8L449.5,315.6M367.3,194.6L415.8,259.1M373.2,190.2L415.4,246.2M420.8,242.1L466.5,302.8M384.5,181.7L408.6,213.6M408.6,213.6L426.7,237.7M426.7,237.7L444.8,261.7M444.8,261.7L472.4,298.3M389.7,177.8L413.8,209.7M450.0,257.8L477.6,294.4M419.5,205.4L455.8,253.5M428.2,198.8L446.3,222.9" stroke="#3a8ccd" stroke-width="1.8"/>
<path d="M322.0,304.0L350.2,282.8M328.1,312.0L361.6,286.7M382.6,284.1L415.8,259.1M394.4,299.7L411.1,287.1M455.8,253.5L464.4,246.9M449.5,303.7L486.3,276.0M285.8,256.0L309.9,288.0M309.9,288.0L334.4,320.4M291.7,251.6L315.8,283.5M333.2,295.6L384.9,364.2M337.8,255.1L373.5,302.5M400.8,327.6L412.6,343.3M339.9,215.3L376.1,263.3M345.2,211.2L363.6,235.7M350.8,207.0L381.1,247.2M381.1,247.2L411.1,287.1M404.5,267.6L443.9,319.8M385.7,230.9L437.7,299.8M415.8,259.1L455.2,311.3M415.4,246.2L461.1,306.9M378.6,186.1L420.8,242.1M413.8,209.7L450.0,257.8M446.3,222.9L492.0,283.5" stroke="#0e5496" stroke-width="1.9"/>
</g>
<clipPath id="rc1"><polygon points="400.0,320.0 420.0,300.0 440.0,285.0 452.0,296.0 470.0,305.0 465.0,322.0 430.0,330.0 405.0,332.0"/></clipPath>
<g clip-path="url(#rc1)" fill="none">
<path d="M376.5,302.9L405.5,281.0M398.5,332.0L433.5,305.6M404.7,340.3L433.7,318.4M410.5,348.0L450.8,317.6M450.8,317.6L473.4,300.6M416.2,355.6L451.3,329.2M467.6,316.9L479.1,308.2M422.7,364.2L463.1,333.8M463.1,333.8L485.6,316.9M382.0,298.8L410.2,336.2M391.3,291.8L437.5,353.1M396.9,287.5L418.8,316.7M405.5,281.0L445.3,333.7M411.6,276.5L445.6,321.6M416.8,272.5L456.6,325.2M450.9,305.5L469.0,329.4M455.9,288.8L480.2,321.0M439.4,255.5L479.1,308.2M479.1,308.2L485.6,316.9" stroke="#a9d2ec" stroke-width="1.8"/>
<path d="M382.8,311.3L423.1,280.9M423.1,280.9L445.7,263.9M408.9,303.5L451.4,271.5M433.5,305.6L461.3,284.7M450.9,305.5L467.6,292.9M451.3,329.2L467.6,316.9M410.2,336.2L428.2,360.1M418.8,316.7L443.1,348.9M445.3,333.7L451.8,342.4M445.6,321.6L457.8,337.8M456.6,325.2L463.1,333.8M422.7,268.1L450.9,305.5M449.8,293.3L474.1,325.5M433.9,259.6L455.9,288.8" stroke="#3a8ccd" stroke-width="1.8"/>
</g>
<clipPath id="rc2"><polygon points="452.0,140.0 470.0,125.0 500.0,165.0 530.0,205.0 520.0,235.0 470.0,240.0 450.0,200.0"/></clipPath>
<g clip-path="url(#rc2)" fill="none">
<path d="M387.1,175.3L416.7,152.2M416.7,152.2L447.1,128.4M447.1,128.4L491.7,93.6M399.2,190.7L428.8,167.6M455.4,170.5L486.1,146.6M501.3,134.7L515.3,123.8M422.6,220.7L452.2,197.6M452.2,197.6L482.6,173.9M482.6,173.9L527.2,139.0M434.4,235.8L450.4,223.4M464.0,212.7L479.2,200.9M509.8,176.9L525.0,165.0M525.0,165.0L539.0,154.1M452.4,258.8L468.3,246.3M468.3,246.3L497.1,223.8M497.1,223.8L527.7,199.9M527.7,199.9L557.0,177.0M464.9,274.8L509.6,239.9M509.6,239.9L540.3,215.9M540.3,215.9L555.5,204.0M555.5,204.0L569.5,193.1M387.1,175.3L410.7,205.5M410.7,205.5L452.4,258.8M403.1,162.8L415.2,178.3M415.2,178.3L426.7,193.0M438.6,208.3L468.3,246.3M440.3,182.3L452.2,197.6M452.2,197.6L464.0,212.7M464.0,212.7L494.5,251.7M431.9,140.3L455.4,170.5M455.4,170.5L467.4,185.8M467.4,185.8L509.6,239.9M447.1,128.4L470.7,158.6M470.7,158.6L482.6,173.9M462.5,116.4L498.0,161.8M498.0,161.8L509.8,176.9M509.8,176.9L527.7,199.9M477.7,104.5L513.2,149.9M491.7,93.6L503.8,109.0M539.0,154.1L569.5,193.1" stroke="#d8a8a0" stroke-width="1.5"/>
</g>
<clipPath id="rc3"><polygon points="430.0,248.0 470.0,240.0 538.0,236.0 538.0,292.0 481.0,298.0 452.0,296.0 440.0,285.0"/></clipPath>
<g clip-path="url(#rc3)" fill="none">
<path d="M398.7,203.5L462.9,197.9M462.9,197.9L512.6,193.5M512.6,193.5L536.7,191.4M399.3,210.0L472.4,203.6M472.4,203.6L537.3,197.9M464.0,210.8L537.8,204.4M482.4,215.4L514.2,212.6M514.2,212.6L538.4,210.5M401.0,229.7L483.0,222.5M483.0,222.5L529.6,218.4M529.6,218.4L539.0,217.6M401.6,236.1L457.2,231.2M457.2,231.2L498.4,227.6M498.4,227.6L530.2,224.8M530.2,224.8L539.6,224.0M402.1,242.3L433.8,239.5M433.8,239.5L507.1,233.1M507.1,233.1L540.1,230.2M507.6,239.3L540.7,236.4M403.3,255.6L467.5,250.0M467.5,250.0L541.3,243.5M404.2,265.9L445.1,262.3M445.1,262.3L486.2,258.7M486.2,258.7L542.2,253.8M404.7,271.8L436.4,269.0M468.9,266.1L533.3,260.5M533.3,260.5L542.7,259.7M533.9,267.2L543.3,266.3M478.9,278.3L543.8,272.7M406.4,291.3L447.3,287.8M447.3,287.8L503.3,282.9M503.3,282.9L544.4,279.3M407.0,298.3L489.0,291.1M448.4,300.5L480.6,297.7M480.6,297.7L512.5,294.9M408.4,314.6L464.1,309.7M464.1,309.7L513.4,305.4M513.4,305.4L546.4,302.5M409.4,325.4L441.1,322.7M441.1,322.7L523.2,315.5M523.2,315.5L547.4,313.4M409.9,331.5L491.9,324.3M410.5,338.1L442.2,335.4M442.2,335.4L524.3,328.2M411.1,344.5L493.0,337.3M493.0,337.3L549.0,332.4M398.7,203.5L401.0,229.7M401.0,229.7L404.2,265.9M404.2,265.9L407.5,304.1M407.1,202.8L409.4,228.9M409.4,228.9L414.2,284.0M418.3,330.7L419.5,343.8M423.7,227.7L425.4,246.5M425.4,246.5L428.6,282.7M433.2,336.1L433.8,342.5M438.1,288.6L442.2,335.4M442.2,335.4L442.7,341.7M439.6,199.9L441.3,219.0M441.3,219.0L444.2,252.0M444.2,252.0L447.9,294.7M447.9,294.7L451.4,334.6M451.4,334.6L452.0,340.9M454.4,198.6L457.2,231.2M457.2,231.2L461.5,279.9M461.5,279.9L464.1,309.7M462.9,197.9L466.8,242.9M466.8,242.9L469.5,272.8M469.5,272.8L473.6,319.8M474.6,229.7L478.3,272.0M478.3,272.0L483.0,325.1M483.0,325.1L484.1,338.1M480.7,196.3L485.3,248.5M491.9,324.3L493.0,337.3M495.6,195.0L497.9,221.2M497.9,221.2L499.5,240.0M503.7,194.3L507.6,239.3M507.6,239.3L509.6,262.6M515.4,329.0L516.0,335.3M515.4,226.1L517.1,245.7M517.1,245.7L522.3,304.6M522.3,304.6L524.9,334.5M530.7,231.1L535.0,280.1M535.0,280.1L539.1,326.9M539.1,326.9L539.7,333.2M540.7,236.4L545.0,286.2M545.0,286.2L549.0,332.4" stroke="#d8a8a0" stroke-width="1.5"/>
<path d="M399.9,216.5L464.0,210.8M402.7,248.5L458.3,243.7M458.3,243.7L507.6,239.3M436.4,269.0L468.9,266.1M407.5,304.1L448.4,300.5M512.5,294.9L545.5,292.0M524.3,328.2L548.5,326.1M430.4,200.7L433.8,239.5M464.1,309.7L466.7,339.6M471.8,197.1L474.6,229.7M489.5,296.9L491.9,324.3M504.4,295.6L507.9,336.0M512.6,193.5L515.4,226.1M527.3,192.3L530.7,231.1" stroke="#a9d2ec" stroke-width="1.8"/>
</g>
<clipPath id="rc4"><polygon points="488.0,117.0 611.0,117.0 611.0,140.0 618.0,150.0 618.0,200.0 528.0,204.0 500.0,165.0 480.0,130.0"/></clipPath>
<g clip-path="url(#rc4)" fill="none">
<path d="M642.9,140.4L658.7,152.7M520.5,60.5L560.0,91.3M625.9,162.2L641.6,174.5M476.0,117.4L504.8,139.9M545.1,196.2L584.1,226.8M459.6,138.5L478.2,153.0M450.3,150.4L494.7,185.1M523.6,207.6L549.9,228.2M565.8,250.2L576.2,258.3M485.3,105.6L471.8,122.8M450.3,150.4L440.9,162.4M550.4,39.8L519.7,79.2M555.6,43.8L541.9,61.4M515.9,104.8L499.6,125.6M566.0,51.9L535.2,91.3M488.0,151.7L474.4,169.2M520.3,195.0L506.0,213.3M593.8,117.7L580.1,135.3M552.9,186.2L522.0,225.8M615.7,144.0L592.6,173.5M613.2,189.6L570.5,244.2M672.4,135.1L646.6,168.2" stroke="#d8a8a0" stroke-width="1.5"/>
<path d="M541.9,33.1L575.8,59.6M656.7,122.8L672.4,135.1M537.2,39.1L581.7,73.8M581.7,73.8L602.3,90.0M602.3,90.0L636.8,116.9M636.8,116.9L652.0,128.8M652.0,128.8L667.7,141.1M532.4,45.3L556.5,64.1M556.5,64.1L571.9,76.1M632.0,123.1L662.9,147.2M567.6,81.6L593.3,101.6M593.3,101.6L619.4,122.0M619.4,122.0L642.9,140.4M593.8,117.7L611.8,131.8M611.8,131.8L640.7,154.4M640.7,154.4L651.0,162.4M516.1,66.2L560.5,100.9M626.0,152.0L646.6,168.2M539.9,95.0L560.8,111.3M560.8,111.3L602.4,143.8M602.4,143.8L625.9,162.2M506.8,78.0L535.6,100.5M535.6,100.5L566.8,124.9M631.8,175.6L637.3,180.0M501.9,84.4L546.3,119.1M546.3,119.1L575.2,141.6M616.6,174.0L632.4,186.3M497.3,90.2L536.8,121.1M536.8,121.1L557.2,137.1M557.2,137.1L602.3,172.3M602.3,172.3L627.8,192.2M493.0,95.7L537.4,130.5M537.4,130.5L574.1,159.1M574.1,159.1L598.0,177.8M598.0,177.8L623.5,197.7M485.3,105.6L519.2,132.1M519.2,132.1L550.4,156.5M550.4,156.5L571.5,173.0M571.5,173.0L615.8,207.6M481.0,111.1L505.0,129.9M505.0,129.9L525.4,145.8M525.4,145.8L546.1,162.0M546.1,162.0L590.9,197.0M590.9,197.0L611.5,213.1M504.8,139.9L541.1,168.3M541.1,168.3L581.0,199.5M581.0,199.5L606.5,219.4M500.6,145.3L521.5,161.7M521.5,161.7L563.1,194.1M563.1,194.1L596.8,220.4M596.8,220.4L602.3,224.8M464.0,132.9L497.9,159.4M497.9,159.4L523.9,179.7M523.9,179.7L545.1,196.2M584.1,226.8L594.5,234.8M478.2,153.0L504.0,173.2M519.6,185.3L550.9,209.8M584.5,236.1L590.1,240.4M455.2,144.1L494.7,175.0M494.7,175.0L515.1,191.0M515.1,191.0L541.5,211.5M541.5,211.5L580.1,241.7M580.1,241.7L585.7,246.1M494.7,185.1L523.6,207.6M570.5,244.2L580.8,252.3M495.3,195.1L545.2,234.1M545.2,234.1L565.8,250.2M440.9,162.4L465.0,181.2M532.2,233.7L565.8,260.0M565.8,260.0L571.4,264.4M511.1,72.5L485.3,105.6M471.8,122.8L450.3,150.4M519.7,79.2L489.5,117.8M489.5,117.8L454.2,163.0M506.7,106.5L485.5,133.6M485.5,133.6L459.4,167.0M459.4,167.0L454.6,173.1M560.5,47.6L546.8,65.2M546.8,65.2L515.9,104.8M499.6,125.6L468.9,164.9M468.9,164.9L459.5,176.9M535.2,91.3L517.1,114.5M517.1,114.5L488.0,151.7M474.4,169.2L465.0,181.2M570.7,55.6L530.7,106.9M530.7,106.9L492.8,155.4M492.8,155.4L469.7,184.9M575.8,59.6L562.1,77.2M562.1,77.2L519.2,132.1M519.2,132.1L497.9,159.4M581.4,64.0L555.6,97.0M555.6,97.0L515.5,148.3M515.5,148.3L480.4,193.2M586.4,67.8L565.0,95.2M508.4,167.6L485.3,197.1M591.6,71.9L570.2,99.3M542.7,134.6L513.7,171.7M513.7,171.7L490.6,201.2M596.4,75.6L570.5,108.7M551.7,132.8L514.1,181.0M514.1,181.0L495.3,204.9M561.8,131.2L540.9,158.0M540.9,158.0L515.1,191.0M515.1,191.0L500.9,209.2M607.0,84.0L585.6,111.4M585.6,111.4L562.4,141.1M562.4,141.1L520.3,195.0M615.2,90.4L593.8,117.7M580.1,135.3L545.1,180.1M528.5,201.4L514.2,219.7M623.0,96.5L587.9,141.4M587.9,141.4L552.9,186.2M628.2,100.5L597.4,139.9M597.4,139.9L571.5,173.0M571.5,173.0L550.2,200.3M550.2,200.3L527.2,229.8M633.2,104.4L602.4,143.8M602.4,143.8L572.2,182.4M641.5,110.9L615.7,144.0M592.6,173.5L571.4,200.6M554.8,221.9L540.5,240.2M646.9,115.1L611.8,160.1M611.8,160.1L586.0,193.2M586.0,193.2L564.6,220.5M651.8,119.0L638.1,136.6M569.5,224.3L550.8,248.3M656.7,122.8L642.9,140.4M616.6,174.0L578.7,222.5M578.7,222.5L555.7,252.1M627.0,171.9L613.2,189.6M666.9,130.7L631.8,175.6M631.8,175.6L588.9,230.5M588.9,230.5L565.8,260.0M646.6,168.2L623.5,197.7M623.5,197.7L602.3,224.8M602.3,224.8L571.4,264.4" stroke="#a9d2ec" stroke-width="1.8"/>
<path d="M575.8,59.6L623.0,96.5M560.5,100.9L602.3,133.6M511.1,72.5L539.9,95.0M566.8,124.9L616.7,163.9M575.2,141.6L616.6,174.0M471.8,122.8L500.6,145.3M550.9,209.8L584.5,236.1M445.6,156.3L464.2,170.9M464.2,170.9L495.3,195.1M541.9,33.1L511.1,72.5M541.9,61.4L506.7,106.5M497.9,159.4L474.8,188.9M565.0,95.2L551.3,112.7M551.3,112.7L508.4,167.6M570.5,108.7L551.7,132.8M601.9,79.9L561.8,131.2M545.1,180.1L528.5,201.4M571.4,200.6L554.8,221.9M662.1,127.0L627.0,171.9" stroke="#3a8ccd" stroke-width="1.8"/>
</g>
<clipPath id="rc5"><polygon points="528.0,204.0 618.0,200.0 650.0,230.0 660.0,266.0 618.0,262.0 585.0,255.0 545.0,236.0"/></clipPath>
<g clip-path="url(#rc5)" fill="none">
<path d="M597.6,202.8L628.7,230.7M564.1,206.5L611.8,249.4M557.7,247.1L574.6,262.2M611.1,295.1L634.9,316.5M563.2,274.9L594.4,303.0M563.5,315.5L603.4,351.5M627.8,147.6L575.7,205.5M629.3,190.1L597.7,225.3M580.9,255.2L563.2,274.9" stroke="#d8a8a0" stroke-width="1.5"/>
<path d="M634.9,183.9L671.8,217.1M564.4,149.8L609.1,190.1M625.9,205.2L680.2,254.1M558.8,156.1L592.7,186.7M592.7,186.7L640.6,229.8M547.7,168.4L564.5,183.6M564.5,183.6L609.2,223.8M645.7,256.7L669.5,278.1M639.8,263.2L663.6,284.6M530.4,187.6L564.3,218.1M563.7,228.9L586.3,249.2M622.8,282.1L646.6,303.5M580.9,255.2L601.2,273.6M601.2,273.6L635.2,304.1M529.9,222.0L557.7,247.1M507.7,212.9L524.5,228.0M518.5,234.7L563.2,274.9M526.7,259.9L554.3,284.7M481.6,241.8L498.5,257.0M541.8,175.0L524.8,193.8M524.8,193.8L507.7,212.9M507.7,212.9L481.6,241.8M558.5,167.5L518.6,211.8M509.5,255.9L504.0,262.0M575.7,205.5L547.0,237.4M547.0,237.4L515.5,272.4M569.3,222.6L552.0,241.9M638.6,157.3L618.1,180.0M569.4,234.1L546.3,259.7M655.4,172.5L614.5,217.9M614.5,217.9L580.9,255.2M572.3,283.2L552.3,305.5M623.6,248.7L589.5,286.6M660.8,218.5L629.2,253.7M580.2,308.0L569.0,320.5M579.8,319.2L574.3,325.3M651.0,250.8L628.5,275.9M680.5,265.7L634.9,316.5" stroke="#a9d2ec" stroke-width="1.8"/>
<path d="M593.9,117.1L627.8,147.6M627.8,147.6L675.8,190.8M675.8,190.8L691.9,205.4M585.1,126.9L602.0,142.1M602.0,142.1L629.7,167.1M629.7,167.1L667.0,200.6M667.0,200.6L706.9,236.5M579.1,133.6L613.0,164.1M671.8,217.1L700.8,243.2M573.4,139.8L595.8,160.0M623.5,184.9L655.3,213.5M655.3,213.5L689.3,244.1M680.2,254.1L686.2,259.5M640.6,229.8L674.6,260.4M674.6,260.4L680.5,265.7M552.9,162.5L597.6,202.8M628.7,230.7L674.7,272.2M609.2,223.8L645.7,256.7M541.8,175.0L575.7,205.5M575.7,205.5L591.9,220.1M591.9,220.1L639.8,263.2M536.1,181.3L564.1,206.5M611.8,249.4L651.9,285.5M651.9,285.5L657.9,290.9M564.3,218.1L612.3,261.3M524.8,193.8L563.7,228.9M586.3,249.2L622.8,282.1M519.4,199.8L553.3,230.4M635.2,304.1L641.1,309.5M513.1,206.8L529.9,222.0M574.6,262.2L611.1,295.1M524.5,228.0L569.2,268.2M569.2,268.2L615.0,309.5M615.0,309.5L629.4,322.5M594.4,303.0L623.4,329.2M492.8,229.3L526.7,259.9M554.3,284.7L574.7,303.1M574.7,303.1L614.6,339.0M487.0,235.7L503.9,250.9M521.0,266.3L542.9,286.1M542.9,286.1L585.1,324.0M585.1,324.0L608.8,345.4M498.5,257.0L520.5,276.8M520.5,276.8L537.5,292.1M537.5,292.1L563.5,315.5M593.9,117.1L541.8,175.0M599.4,122.0L558.5,167.5M518.6,211.8L498.3,234.3M498.3,234.3L487.1,246.8M605.1,127.2L564.2,172.7M564.2,172.7L518.9,223.0M518.9,223.0L492.8,251.9M610.8,132.3L590.3,155.0M590.3,155.0L541.6,209.0M541.6,209.0L524.5,228.0M524.5,228.0L498.5,257.0M552.8,207.8L509.5,255.9M621.9,142.3L601.4,165.0M601.4,165.0L575.7,193.6M529.7,244.7L509.6,267.0M632.8,152.1L612.3,174.8M612.3,174.8L569.3,222.6M552.0,241.9L520.5,276.8M618.1,180.0L597.6,202.8M597.6,202.8L569.4,234.1M546.3,259.7L526.2,282.0M644.0,162.2L603.0,207.7M603.0,207.7L574.9,238.9M574.9,238.9L531.7,286.9M649.8,167.4L629.3,190.1M597.7,225.3L580.7,244.2M580.7,244.2L537.5,292.1M563.2,274.9L543.1,297.2M664.6,180.7L644.1,203.5M644.1,203.5L595.5,257.5M669.6,185.3L649.1,208.0M611.8,249.4L577.4,287.7M577.4,287.7L557.3,310.0M675.8,190.8L623.6,248.7M589.5,286.6L563.5,315.5M681.3,195.8L660.8,218.5M629.2,253.7L580.2,308.0M686.6,200.6L645.7,246.0M645.7,246.0L628.8,264.8M628.8,264.8L600.4,296.4M600.4,296.4L579.8,319.2M691.9,205.4L651.0,250.8M628.5,275.9L590.9,317.6M590.9,317.6L579.6,330.1M701.2,213.7L666.1,252.7M666.1,252.7L620.4,303.5M620.4,303.5L588.9,338.4M709.7,221.4L674.6,260.4M674.6,260.4L651.9,285.5M651.9,285.5L608.6,333.6M608.6,333.6L597.4,346.1M715.7,226.7L680.5,265.7M634.9,316.5L603.4,351.5" stroke="#3a8ccd" stroke-width="1.8"/>
</g>
<clipPath id="rc6"><polygon points="611.0,117.0 689.0,117.0 689.0,135.0 660.0,140.0 611.0,140.0"/></clipPath>
<g clip-path="url(#rc6)" fill="none">
<path d="M620.4,91.0L642.3,91.0M625.9,100.1L647.8,100.1M647.8,100.1L667.6,100.1M620.4,114.3L653.8,114.3M653.8,114.3L667.6,114.3M604.0,174.1L615.2,174.1M653.8,174.1L687.5,174.1M609.6,81.6L609.6,123.5M615.2,100.1L615.2,165.1M620.4,114.3L620.4,155.9M620.4,155.9L620.4,174.1M647.8,100.1L647.8,123.5M658.8,140.8L658.8,174.1M667.6,114.3L667.6,155.9" stroke="#a9d2ec" stroke-width="1.8"/>
<path d="M604.0,81.6L620.4,81.6M637.2,81.6L647.8,81.6M647.8,81.6L667.6,81.6M667.6,81.6L698.7,81.6M642.3,91.0L653.8,91.0M653.8,91.0L667.6,91.0M604.0,100.1L625.9,100.1M667.6,100.1L682.3,100.1M682.3,100.1L698.7,100.1M667.6,114.3L682.3,114.3M682.3,114.3L698.7,114.3M604.0,123.5L637.2,123.5M647.8,123.5L658.8,123.5M658.8,123.5L693.4,123.5M693.4,123.5L698.7,123.5M604.0,131.8L620.4,131.8M620.4,131.8L653.8,131.8M653.8,131.8L682.3,131.8M682.3,131.8L698.7,131.8M604.0,140.8L625.9,140.8M625.9,140.8L647.8,140.8M647.8,140.8L687.5,140.8M687.5,140.8L698.7,140.8M604.0,155.9L625.9,155.9M625.9,155.9L647.8,155.9M647.8,155.9L658.8,155.9M658.8,155.9L676.8,155.9M676.8,155.9L698.7,155.9M604.0,165.1L620.4,165.1M620.4,165.1L631.4,165.1M631.4,165.1L647.8,165.1M647.8,165.1L667.6,165.1M667.6,165.1L698.7,165.1M625.9,174.1L637.2,174.1M637.2,174.1L653.8,174.1M687.5,174.1L698.7,174.1M604.0,81.6L604.0,123.5M604.0,123.5L604.0,155.9M604.0,155.9L604.0,174.1M609.6,123.5L609.6,155.9M609.6,155.9L609.6,174.1M615.2,81.6L615.2,100.1M615.2,165.1L615.2,174.1M625.9,81.6L625.9,140.8M625.9,140.8L625.9,174.1M631.4,81.6L631.4,131.8M631.4,131.8L631.4,174.1M637.2,81.6L637.2,140.8M642.3,81.6L642.3,131.8M642.3,155.9L642.3,174.1M647.8,81.6L647.8,100.1M647.8,123.5L647.8,165.1M647.8,165.1L647.8,174.1M653.8,81.6L653.8,123.5M653.8,123.5L653.8,174.1M658.8,81.6L658.8,140.8M667.6,81.6L667.6,114.3M667.6,155.9L667.6,174.1M676.8,81.6L676.8,114.3M676.8,114.3L676.8,131.8M676.8,131.8L676.8,174.1M682.3,81.6L682.3,140.8M682.3,140.8L682.3,174.1M687.5,81.6L687.5,140.8M687.5,140.8L687.5,174.1M693.4,81.6L693.4,114.3M693.4,165.1L693.4,174.1M698.7,81.6L698.7,131.8M698.7,131.8L698.7,174.1" stroke="#3a8ccd" stroke-width="1.8"/>
</g>
<clipPath id="rc7"><polygon points="618.0,150.0 660.0,140.0 704.0,140.0 704.0,258.0 660.0,266.0 650.0,230.0 618.0,200.0"/></clipPath>
<g clip-path="url(#rc7)" fill="none">
<path d="M618.7,121.2L671.0,116.7M671.0,116.7L700.8,114.1M700.8,114.1L729.7,111.5M572.6,132.2L594.2,130.3M594.2,130.3L644.3,125.9M644.3,125.9L679.3,122.9M679.3,122.9L719.7,119.3M608.6,136.8L672.3,131.3M709.3,128.0L730.9,126.1M573.9,147.7L634.4,142.4M634.4,142.4L702.7,136.5M702.7,136.5L731.6,133.9M574.6,154.9L596.2,153.0M596.2,153.0L621.2,150.8M621.2,150.8L659.7,147.5M703.3,143.6L732.3,141.1M654.4,160.0L674.6,158.3M674.6,158.3L733.3,153.1M576.3,174.1L604.5,171.7M668.5,166.1L705.0,162.9M576.9,181.9L630.7,177.2M630.7,177.2L675.9,173.3M675.9,173.3L734.6,168.1M577.6,189.2L599.2,187.3M599.2,187.3L662.7,181.8M662.7,181.8L706.3,177.9M706.3,177.9L735.3,175.4M578.2,196.7L638.7,191.5M638.7,191.5L685.0,187.4M685.0,187.4L714.3,184.8M714.3,184.8L735.9,182.9M578.9,203.8L607.1,201.4M664.0,196.4L707.6,192.6M579.9,215.9L626.6,211.8M678.9,207.3L737.6,202.1M608.9,221.4L665.7,216.4M665.7,216.4L716.6,212.0M716.6,212.0L738.3,210.1M581.3,231.3L641.8,226.0M641.8,226.0L666.4,223.8M666.4,223.8L717.3,219.4M717.3,219.4L738.9,217.5M581.9,238.2L610.1,235.7M660.6,231.3L729.0,225.3M729.0,225.3L739.5,224.4M582.6,246.2L617.9,243.1M617.9,243.1L681.6,237.5M681.6,237.5L718.6,234.3M583.6,257.6L605.1,255.7M605.1,255.7L662.3,250.7M662.3,250.7L730.7,244.7M584.2,265.2L630.9,261.1M630.9,261.1L655.9,258.9M701.6,254.9L741.9,251.4M584.9,273.0L606.5,271.1M606.5,271.1L670.0,265.6M670.0,265.6L742.6,259.2M585.6,280.4L639.3,275.7M639.3,275.7L684.6,271.8M732.7,267.6L743.2,266.6M572.0,125.3L573.9,147.7M573.9,147.7L576.3,174.1M579.3,124.7L583.0,166.3M583.0,166.3L588.6,230.6M588.6,230.6L591.6,264.5M586.0,124.1L591.0,180.7M591.0,180.7L594.6,222.6M594.6,222.6L599.6,279.2M599.8,194.9L605.8,263.3M605.8,263.3L607.1,278.5M600.3,122.9L603.9,164.5M607.1,201.4L611.8,255.1M607.3,122.2L612.9,186.1M612.9,186.1L615.3,212.8M619.6,262.1L620.9,277.3M618.7,121.2L624.3,185.1M624.3,185.1L626.6,211.8M630.2,253.5L632.2,276.3M625.8,120.6L628.3,150.2M628.3,150.2L632.0,192.0M632.0,192.0L635.6,233.5M635.6,233.5L639.3,275.7M632.5,120.0L634.4,142.4M638.1,183.9L643.1,240.9M643.1,240.9L646.1,275.1M643.7,119.1L647.9,167.9M647.9,167.9L652.3,217.6M652.3,217.6L655.2,251.3M650.7,118.4L652.7,140.9M655.7,175.0L660.6,231.3M660.6,231.3L664.3,273.5M670.0,265.6L670.7,273.0M664.2,117.3L669.2,173.8M672.9,215.8L674.8,238.1M673.0,139.1L677.2,188.1M677.2,188.1L679.6,215.2M679.6,215.2L683.9,264.3M683.9,264.3L684.6,271.8M683.7,172.6L689.3,236.8M689.3,236.8L692.3,271.1M689.4,115.1L691.3,137.5M691.3,137.5L694.3,171.6M694.3,171.6L696.2,193.6M711.3,234.9L714.3,269.2M719.1,112.5L721.7,142.0M721.7,142.0L724.1,169.0M724.1,169.0L727.0,203.0M727.0,203.0L729.7,233.3M729.7,111.5L735.3,175.4M735.3,175.4L741.2,243.8M741.2,243.8L743.2,266.6" stroke="#d8a8a0" stroke-width="1.5"/>
<path d="M572.0,125.3L593.6,123.4M593.6,123.4L618.7,121.2M672.3,131.3L709.3,128.0M575.6,166.9L622.3,162.9M655.9,258.9L701.6,254.9M597.2,165.0L599.8,194.9M652.7,140.9L655.7,175.0M669.2,173.8L672.9,215.8M671.0,116.7L673.0,139.1M678.7,116.0L683.7,172.6M703.3,143.6L707.6,192.6M729.7,233.3L732.7,267.6" stroke="#a9d2ec" stroke-width="1.8"/>
<path d="M573.3,139.9L608.6,136.8M659.7,147.5L703.3,143.6M622.3,162.9L654.4,160.0M604.5,171.7L668.5,166.1M707.6,192.6L736.5,190.0M626.6,211.8L678.9,207.3M580.6,223.9L608.9,221.4M610.1,235.7L660.6,231.3M718.6,234.3L740.2,232.4M730.7,244.7L741.2,243.8M684.6,271.8L732.7,267.6M591.6,264.5L592.9,279.8M593.6,123.4L597.2,165.0M611.8,255.1L613.8,278.0M615.3,212.8L619.6,262.1M634.4,142.4L638.1,183.9M657.1,117.9L662.1,174.5M662.1,174.5L667.7,238.7M674.8,238.1L677.8,272.4M696.2,193.6L699.3,227.9M702.3,262.7L702.9,270.2M700.8,114.1L703.3,143.6M707.6,192.6L711.3,234.9M713.6,177.3L718.6,234.3M718.6,234.3L721.6,268.5" stroke="#3a8ccd" stroke-width="1.8"/>
</g>
<clipPath id="rc8"><polygon points="704.0,140.0 744.0,135.0 744.0,246.0 704.0,258.0"/></clipPath>
<g clip-path="url(#rc8)" fill="none">
<path d="M726.6,123.1L759.0,123.1M759.0,123.1L791.1,123.1M652.7,131.5L680.4,131.5M720.0,131.5L737.7,131.5M737.7,131.5L766.2,131.5M652.7,139.2L680.4,139.2M694.4,139.2L726.6,139.2M726.6,139.2L777.0,139.2M652.7,152.1L680.4,152.1M680.4,152.1L720.0,152.1M720.0,152.1L737.7,152.1M737.7,152.1L759.0,152.1M759.0,152.1L784.5,152.1M784.5,152.1L791.1,152.1M652.7,168.5L667.1,168.5M667.1,168.5L701.3,168.5M652.7,176.7L687.8,176.7M713.1,176.7L751.8,176.7M667.1,184.3L713.1,184.3M713.1,184.3L745.4,184.3M745.4,184.3L759.0,184.3M759.0,184.3L791.1,184.3M652.7,192.0L680.4,192.0M680.4,192.0L694.4,192.0M694.4,200.2L713.1,200.2M713.1,200.2L745.4,200.2M745.4,200.2L791.1,200.2M652.7,207.9L694.4,207.9M694.4,207.9L726.6,207.9M745.4,207.9L784.5,207.9M784.5,207.9L791.1,207.9M652.7,221.0L680.4,221.0M759.0,221.0L791.1,221.0M687.8,228.7L701.3,228.7M745.4,228.7L766.2,228.7M784.5,228.7L791.1,228.7M652.7,237.3L687.8,237.3M701.3,237.3L726.6,237.3M751.8,237.3L766.2,237.3M766.2,237.3L791.1,237.3M652.7,244.7L667.1,244.7M667.1,244.7L687.8,244.7M652.7,253.3L673.7,253.3M673.7,253.3L713.1,253.3M713.1,253.3L726.6,253.3M726.6,253.3L766.2,253.3M652.7,260.9L667.1,260.9M667.1,260.9L713.1,260.9M713.1,260.9L745.4,260.9M745.4,260.9L777.0,260.9M777.0,260.9L791.1,260.9M652.7,168.5L652.7,192.0M652.7,192.0L652.7,207.9M652.7,207.9L652.7,253.3M659.3,139.2L659.3,192.0M659.3,192.0L659.3,244.7M667.1,123.1L667.1,168.5M667.1,200.2L667.1,221.0M667.1,221.0L667.1,253.3M667.1,253.3L667.1,260.9M673.7,123.1L673.7,139.2M673.7,139.2L673.7,160.4M673.7,160.4L673.7,192.0M673.7,192.0L673.7,221.0M680.4,192.0L680.4,228.7M680.4,228.7L680.4,260.9M687.8,192.0L687.8,244.7M687.8,244.7L687.8,260.9M694.4,123.1L694.4,139.2M694.4,139.2L694.4,176.7M694.4,228.7L694.4,260.9M701.3,123.1L701.3,176.7M701.3,176.7L701.3,200.2M701.3,237.3L701.3,253.3M713.1,123.1L713.1,160.4M720.0,228.7L720.0,253.3M720.0,253.3L720.0,260.9M726.6,139.2L726.6,160.4M726.6,184.3L726.6,221.0M726.6,221.0L726.6,244.7M726.6,244.7L726.6,260.9M737.7,123.1L737.7,139.2M737.7,139.2L737.7,168.5M737.7,168.5L737.7,221.0M737.7,221.0L737.7,244.7M737.7,244.7L737.7,260.9M745.4,168.5L745.4,207.9M745.4,207.9L745.4,228.7M745.4,228.7L745.4,244.7M745.4,244.7L745.4,260.9M751.8,123.1L751.8,160.4M751.8,160.4L751.8,192.0M751.8,237.3L751.8,260.9M759.0,123.1L759.0,160.4M766.2,123.1L766.2,168.5M766.2,200.2L766.2,237.3M777.0,123.1L777.0,176.7M777.0,176.7L777.0,192.0M784.5,160.4L784.5,200.2M784.5,200.2L784.5,237.3M791.1,192.0L791.1,207.9M791.1,237.3L791.1,260.9" stroke="#d8a8a0" stroke-width="1.5"/>
<path d="M701.3,228.7L745.4,228.7M784.5,237.3L784.5,260.9" stroke="#a9d2ec" stroke-width="1.8"/>
<path d="M680.4,131.5L720.0,131.5M766.2,131.5L784.5,131.5M784.5,131.5L791.1,131.5M680.4,139.2L694.4,139.2M777.0,139.2L791.1,139.2M726.6,160.4L777.0,160.4M701.3,168.5L720.0,168.5M759.0,168.5L791.1,168.5M687.8,176.7L713.1,176.7M652.7,184.3L667.1,184.3M652.7,200.2L694.4,200.2M726.6,207.9L745.4,207.9M713.1,221.0L759.0,221.0M652.7,228.7L687.8,228.7M766.2,228.7L784.5,228.7M737.7,244.7L766.2,244.7M766.2,244.7L791.1,244.7M766.2,253.3L791.1,253.3M652.7,123.1L652.7,168.5M659.3,244.7L659.3,260.9M667.1,168.5L667.1,200.2M673.7,221.0L673.7,237.3M673.7,237.3L673.7,260.9M680.4,123.1L680.4,160.4M680.4,160.4L680.4,192.0M701.3,200.2L701.3,237.3M713.1,160.4L713.1,207.9M713.1,207.9L713.1,260.9M720.0,168.5L720.0,192.0M726.6,123.1L726.6,139.2M751.8,192.0L751.8,237.3M759.0,184.3L759.0,228.7M777.0,237.3L777.0,260.9M791.1,139.2L791.1,176.7M791.1,176.7L791.1,192.0" stroke="#3a8ccd" stroke-width="1.8"/>
</g>
<clipPath id="rc9"><polygon points="737.0,117.0 800.0,117.0 807.0,128.0 807.0,146.0 744.0,148.0 737.0,132.0"/></clipPath>
<g clip-path="url(#rc9)" fill="none">
<path d="M754.0,87.6L779.3,87.6M779.3,87.6L794.0,87.6M794.0,87.6L803.9,87.6M739.0,102.5L759.0,102.5M759.0,102.5L783.9,102.5M728.8,138.0L754.0,138.0M789.0,138.0L808.8,138.0M774.1,152.8L783.9,152.8M794.0,152.8L803.9,152.8M728.8,166.6L748.8,166.6M774.1,166.6L794.0,166.6M734.3,87.6L734.3,125.4M739.0,125.4L739.0,152.8M739.0,152.8L739.0,166.6M759.0,87.6L759.0,166.6M764.1,87.6L764.1,125.4M768.9,87.6L768.9,166.6M774.1,138.0L774.1,166.6M779.3,152.8L779.3,166.6M783.9,87.6L783.9,125.4M783.9,125.4L783.9,152.8M789.0,87.6L789.0,138.0M794.0,87.6L794.0,152.8M794.0,152.8L794.0,166.6M799.2,87.6L799.2,138.0M799.2,138.0L799.2,166.6M808.8,87.6L808.8,125.4" stroke="#3a8ccd" stroke-width="1.8"/>
<path d="M803.9,87.6L813.8,87.6M728.8,102.5L739.0,102.5M808.8,102.5L813.8,102.5M728.8,125.4L748.8,125.4M748.8,125.4L774.1,125.4M783.9,125.4L808.8,125.4M808.8,125.4L813.8,125.4M754.0,138.0L764.1,138.0M764.1,138.0L789.0,138.0M808.8,138.0L813.8,138.0M728.8,152.8L754.0,152.8M754.0,152.8L774.1,152.8M783.9,152.8L794.0,152.8M803.9,152.8L813.8,152.8M748.8,166.6L774.1,166.6M794.0,166.6L813.8,166.6M728.8,87.6L728.8,152.8M728.8,152.8L728.8,166.6M734.3,125.4L734.3,166.6M744.1,87.6L744.1,166.6M748.8,87.6L748.8,152.8M748.8,152.8L748.8,166.6M754.0,87.6L754.0,166.6M764.1,125.4L764.1,166.6M774.1,87.6L774.1,138.0M783.9,152.8L783.9,166.6M803.9,152.8L803.9,166.6M808.8,152.8L808.8,166.6M813.8,87.6L813.8,138.0" stroke="#0e5496" stroke-width="1.9"/>
</g>
<clipPath id="rc10"><polygon points="744.0,148.0 807.0,146.0 823.0,151.0 833.0,162.0 850.0,171.0 874.0,206.0 881.0,225.0 800.0,228.0 744.0,244.0"/></clipPath>
<g clip-path="url(#rc10)" fill="none">
<path d="M716.2,132.7L785.6,129.0M824.4,127.0L869.6,124.6M869.6,124.6L911.0,122.5M839.8,135.4L877.4,133.5M849.0,170.6L913.4,167.2M768.9,182.6L799.9,181.0M834.7,179.1L879.7,176.8M828.4,202.1L899.7,198.4M899.7,198.4L914.9,197.6M802.0,220.7L836.8,218.9M809.7,228.8L882.2,225.0M723.1,264.0L757.6,262.2M883.8,255.6L917.9,253.8M896.3,268.3L918.6,267.1M726.1,93.9L728.6,141.3M745.9,183.8L747.5,214.9M747.5,214.9L749.6,254.4M756.2,92.3L759.8,161.1M765.0,261.8L765.7,275.1M825.3,144.0L829.3,219.3M837.3,88.1L839.8,135.4M844.6,87.7L848.2,156.4M877.4,133.5L881.8,216.5M901.4,84.7L903.0,115.2M903.0,115.2L904.3,139.8M909.0,84.3L912.6,153.0" stroke="#a9d2ec" stroke-width="1.8"/>
<path d="M714.2,94.5L795.1,90.3M795.1,90.3L852.6,87.3M852.6,87.3L893.7,85.1M893.7,85.1L909.0,84.3M714.6,103.0L749.1,101.2M776.7,99.8L837.7,96.6M837.7,96.6L860.5,95.4M860.5,95.4L909.5,92.8M715.3,116.5L749.8,114.7M831.1,110.5L876.1,108.1M876.1,108.1L910.2,106.3M715.8,125.0L796.7,120.8M846.2,118.2L903.0,115.2M903.0,115.2L910.6,114.8M785.6,129.0L824.4,127.0M716.7,141.9L797.6,137.6M797.6,137.6L839.8,135.4M877.4,133.5L903.9,132.1M903.9,132.1L911.5,131.7M717.1,149.6L759.0,147.4M759.0,147.4L817.2,144.4M817.2,144.4L863.0,142.0M863.0,142.0L911.9,139.4M717.8,163.3L779.8,160.0M779.8,160.0L848.2,156.4M848.2,156.4L897.3,153.8M897.3,153.8L912.6,153.0M718.5,177.4L745.4,176.0M718.9,185.2L768.9,182.6M799.9,181.0L834.7,179.1M879.7,176.8L913.8,175.0M788.8,190.1L835.2,187.7M898.9,184.3L914.2,183.5M720.1,207.8L754.6,206.0M754.6,206.0L828.4,202.1M720.5,216.3L801.5,212.0M836.4,210.2L907.8,206.4M907.8,206.4L915.4,206.1M721.0,225.0L802.0,220.7M836.8,218.9L874.4,216.9M874.4,216.9L915.8,214.7M721.4,233.4L783.5,230.1M882.2,225.0L916.3,223.2M721.9,242.2L783.9,238.9M783.9,238.9L860.3,234.9M860.3,234.9L916.8,232.0M722.6,255.8L749.6,254.4M749.6,254.4L822.8,250.6M895.2,246.8L917.5,245.6M757.6,262.2L823.2,258.8M823.2,258.8L883.8,255.6M723.7,277.3L758.3,275.5M758.3,275.5L785.8,274.0M785.8,274.0L862.2,270.0M862.2,270.0L896.3,268.3M714.2,94.5L716.2,132.7M716.2,132.7L718.9,185.2M718.9,185.2L723.1,264.0M723.1,264.0L723.7,277.3M728.6,141.3L730.9,184.6M730.9,184.6L734.6,255.2M734.1,93.5L738.5,176.4M738.5,176.4L741.9,241.1M741.9,241.1L743.7,276.2M741.1,93.1L745.9,183.8M749.6,254.4L750.7,275.9M748.7,92.7L750.3,123.2M750.3,123.2L752.3,161.5M752.3,161.5L754.6,206.0M754.6,206.0L755.9,231.6M755.9,231.6L758.3,275.5M759.8,161.1L761.4,191.5M761.4,191.5L765.0,261.8M766.7,139.3L770.1,205.2M770.1,205.2L771.9,239.5M771.9,239.5L773.8,274.7M782.6,213.0L785.8,274.0M783.6,90.9L787.9,173.8M787.9,173.8L790.9,229.8M790.9,229.8L793.2,273.7M795.1,90.3L797.1,128.4M797.1,128.4L799.9,181.0M799.9,181.0L804.7,273.1M802.4,89.9L807.1,180.6M807.1,180.6L811.3,259.4M811.3,259.4L812.0,272.7M814.3,89.3L816.8,136.6M816.8,136.6L818.7,172.2M818.7,172.2L823.2,258.8M822.4,88.8L825.3,144.0M829.3,219.3L832.0,271.6M834.3,171.4L837.3,227.3M837.3,227.3L839.6,271.2M839.8,135.4L842.0,178.7M845.7,249.4L846.9,270.8M851.5,218.1L854.2,270.5M852.6,87.3L855.1,134.6M855.1,134.6L859.9,226.1M859.9,226.1L862.2,270.0M860.1,86.9L863.7,155.6M863.7,155.6L867.3,225.7M867.3,225.7L869.6,269.6M867.6,86.5L871.9,169.4M871.9,169.4L874.8,225.4M874.8,225.4L877.1,269.3M874.9,86.1L877.4,133.5M881.8,216.5L883.8,255.6M883.8,255.6L884.5,268.9M886.8,85.5L891.1,168.4M891.1,168.4L893.6,215.9M893.6,215.9L896.3,268.3M893.7,85.1L896.6,140.2M896.6,140.2L900.6,215.5M900.6,215.5L902.6,254.6M904.3,139.8L906.2,175.4M906.2,175.4L908.2,215.1M908.2,215.1L911.0,267.5M912.6,153.0L916.3,223.2M916.3,223.2L918.6,267.1" stroke="#3a8ccd" stroke-width="1.8"/>
<path d="M749.1,101.2L776.7,99.8M835.2,187.7L898.9,184.3M783.5,230.1L809.7,228.8M823.2,258.8L823.9,272.0M842.0,178.7L845.7,249.4" stroke="#0e5496" stroke-width="1.9"/>
</g>
<clipPath id="rc11"><polygon points="538.0,250.0 585.0,255.0 618.0,262.0 618.0,345.0 538.0,345.0"/></clipPath>
<g clip-path="url(#rc11)" fill="none">
<path d="M559.0,328.2L611.3,328.2M536.5,357.8L573.7,357.8M514.1,350.8L514.1,357.8M521.7,286.3L521.7,343.3M596.6,218.6L596.6,256.4M646.5,286.3L646.5,320.5" stroke="#d8a8a0" stroke-width="1.5"/>
<path d="M506.7,218.6L551.4,218.6M596.6,218.6L646.5,218.6M551.4,226.1L589.0,226.1M589.0,226.1L646.5,226.1M506.7,233.8L543.8,233.8M589.0,233.8L638.7,233.8M638.7,233.8L646.5,233.8M589.0,241.4L646.5,241.4M506.7,248.9L528.9,248.9M638.7,248.9L646.5,248.9M559.0,256.4L611.3,256.4M506.7,263.2L543.8,263.2M543.8,263.2L589.0,263.2M589.0,263.2L646.5,263.2M506.7,271.5L559.0,271.5M581.5,271.5L646.5,271.5M506.7,278.7L559.0,278.7M559.0,278.7L589.0,278.7M589.0,278.7L638.7,278.7M506.7,286.3L528.9,286.3M528.9,286.3L566.8,286.3M506.7,293.5L551.4,293.5M551.4,293.5L611.3,293.5M611.3,293.5L646.5,293.5M506.7,301.1L559.0,301.1M559.0,301.1L596.6,301.1M630.8,301.1L646.5,301.1M506.7,313.6L528.9,313.6M528.9,313.6L566.8,313.6M506.7,320.5L551.4,320.5M551.4,320.5L611.3,320.5M506.7,328.2L559.0,328.2M506.7,335.5L559.0,335.5M559.0,335.5L596.6,335.5M596.6,335.5L638.7,335.5M638.7,335.5L646.5,335.5M559.0,343.3L611.3,343.3M611.3,343.3L646.5,343.3M559.0,350.8L589.0,350.8M589.0,350.8L646.5,350.8M506.7,357.8L536.5,357.8M573.7,357.8L638.7,357.8M638.7,357.8L646.5,357.8M506.7,218.6L506.7,278.7M506.7,278.7L506.7,320.5M506.7,320.5L506.7,357.8M514.1,278.7L514.1,320.5M514.1,320.5L514.1,350.8M521.7,218.6L521.7,263.2M521.7,263.2L521.7,286.3M528.9,263.2L528.9,328.2M528.9,328.2L528.9,357.8M536.5,218.6L536.5,278.7M536.5,278.7L536.5,343.3M536.5,343.3L536.5,357.8M543.8,218.6L543.8,256.4M551.4,335.5L551.4,357.8M559.0,218.6L559.0,263.2M566.8,218.6L566.8,248.9M566.8,248.9L566.8,293.5M566.8,293.5L566.8,350.8M566.8,350.8L566.8,357.8M573.7,218.6L573.7,241.4M573.7,241.4L573.7,271.5M573.7,271.5L573.7,313.6M573.7,313.6L573.7,357.8M581.5,218.6L581.5,241.4M581.5,241.4L581.5,286.3M581.5,286.3L581.5,313.6M581.5,313.6L581.5,357.8M589.0,218.6L589.0,256.4M589.0,256.4L589.0,301.1M596.6,313.6L596.6,357.8M604.3,263.2L604.3,313.6M604.3,313.6L604.3,357.8M611.3,241.4L611.3,293.5M611.3,293.5L611.3,350.8M611.3,350.8L611.3,357.8M624.1,218.6L624.1,263.2M624.1,263.2L624.1,328.2M624.1,328.2L624.1,357.8M630.8,218.6L630.8,241.4M630.8,241.4L630.8,263.2M630.8,263.2L630.8,320.5M630.8,320.5L630.8,343.3M630.8,343.3L630.8,357.8M638.7,241.4L638.7,286.3M638.7,286.3L638.7,313.6M638.7,313.6L638.7,357.8M646.5,218.6L646.5,263.2M646.5,263.2L646.5,286.3M646.5,320.5L646.5,357.8" stroke="#a9d2ec" stroke-width="1.8"/>
<path d="M551.4,218.6L596.6,218.6M543.8,233.8L589.0,233.8M506.7,241.4L528.9,241.4M611.3,256.4L646.5,256.4M559.0,271.5L581.5,271.5M638.7,278.7L646.5,278.7M566.8,286.3L624.1,286.3M624.1,286.3L646.5,286.3M566.8,313.6L624.1,313.6M624.1,313.6L646.5,313.6M611.3,320.5L646.5,320.5M506.7,343.3L559.0,343.3M506.7,350.8L559.0,350.8M514.1,218.6L514.1,278.7M543.8,256.4L543.8,320.5M543.8,320.5L543.8,357.8M551.4,218.6L551.4,278.7M559.0,263.2L559.0,286.3M559.0,286.3L559.0,320.5M596.6,256.4L596.6,313.6M604.3,218.6L604.3,263.2M611.3,218.6L611.3,241.4M638.7,218.6L638.7,241.4" stroke="#3a8ccd" stroke-width="1.8"/>
</g>
<clipPath id="rc12"><polygon points="618.0,262.0 640.0,268.0 704.0,258.0 737.0,250.0 737.0,305.0 668.0,305.0 668.0,345.0 618.0,345.0"/></clipPath>
<g clip-path="url(#rc12)" fill="none">
<path d="M662.2,210.0L735.8,210.0M735.8,210.0L751.9,210.0M707.3,242.3L751.9,242.3M591.6,266.6L649.2,266.6M699.4,266.6L728.1,266.6M621.2,274.6L662.2,274.6M591.6,303.3L629.0,303.3M686.9,303.3L751.9,303.3M600.0,210.0L600.0,234.7M600.0,303.3L600.0,327.1M600.0,327.1L600.0,372.2M613.0,210.0L613.0,259.0M641.8,259.0L641.8,311.0M641.8,335.7L641.8,372.2M649.2,210.0L649.2,242.3M662.2,259.0L662.2,295.3M662.2,359.7L662.2,372.2M678.1,335.7L678.1,372.2M686.9,266.6L686.9,295.3M686.9,295.3L686.9,327.1M715.1,210.0L715.1,234.7M728.1,250.5L728.1,303.3" stroke="#d8a8a0" stroke-width="1.5"/>
<path d="M641.8,218.9L670.7,218.9M686.9,234.7L744.2,234.7M686.9,250.5L728.1,250.5M735.8,259.0L751.9,259.0M649.2,266.6L699.4,266.6M728.1,274.6L751.9,274.6M735.8,287.4L751.9,287.4M686.9,295.3L744.2,295.3M649.2,319.4L686.9,319.4M715.1,327.1L751.9,327.1M744.2,335.7L751.9,335.7M744.2,351.4L751.9,351.4M686.9,372.2L728.1,372.2M591.6,210.0L591.6,234.7M591.6,274.6L591.6,327.1M591.6,327.1L591.6,372.2M613.0,303.3L613.0,359.7M629.0,210.0L629.0,266.6M629.0,266.6L629.0,327.1M649.2,242.3L649.2,274.6M649.2,343.6L649.2,372.2M662.2,319.4L662.2,359.7M670.7,210.0L670.7,250.5M678.1,274.6L678.1,335.7M686.9,351.4L686.9,372.2M699.4,210.0L699.4,234.7M699.4,327.1L699.4,351.4M699.4,351.4L699.4,372.2M707.3,210.0L707.3,242.3M715.1,259.0L715.1,287.4M715.1,311.0L715.1,335.7M751.9,210.0L751.9,234.7" stroke="#a9d2ec" stroke-width="1.8"/>
<path d="M591.6,210.0L662.2,210.0M591.6,218.9L641.8,218.9M670.7,218.9L707.3,218.9M707.3,218.9L751.9,218.9M591.6,226.7L649.2,226.7M649.2,226.7L678.1,226.7M715.1,226.7L751.9,226.7M591.6,234.7L621.2,234.7M621.2,234.7L649.2,234.7M649.2,234.7L686.9,234.7M744.2,234.7L751.9,234.7M591.6,242.3L641.8,242.3M641.8,242.3L707.3,242.3M591.6,250.5L641.8,250.5M641.8,250.5L686.9,250.5M728.1,250.5L751.9,250.5M591.6,259.0L662.2,259.0M662.2,259.0L686.9,259.0M686.9,259.0L735.8,259.0M728.1,266.6L751.9,266.6M591.6,274.6L621.2,274.6M662.2,274.6L728.1,274.6M670.7,287.4L735.8,287.4M662.2,295.3L686.9,295.3M744.2,295.3L751.9,295.3M591.6,311.0L662.2,311.0M699.4,311.0L751.9,311.0M591.6,319.4L649.2,319.4M686.9,319.4L744.2,319.4M744.2,319.4L751.9,319.4M591.6,327.1L641.8,327.1M641.8,327.1L715.1,327.1M591.6,335.7L629.0,335.7M629.0,335.7L670.7,335.7M670.7,335.7L744.2,335.7M662.2,343.6L735.8,343.6M735.8,343.6L751.9,343.6M591.6,351.4L662.2,351.4M662.2,351.4L699.4,351.4M591.6,359.7L629.0,359.7M629.0,359.7L699.4,359.7M699.4,359.7L751.9,359.7M591.6,372.2L621.2,372.2M621.2,372.2L649.2,372.2M649.2,372.2L686.9,372.2M728.1,372.2L751.9,372.2M600.0,234.7L600.0,303.3M613.0,259.0L613.0,303.3M613.0,359.7L613.0,372.2M621.2,210.0L621.2,242.3M621.2,242.3L621.2,311.0M621.2,311.0L621.2,372.2M641.8,311.0L641.8,335.7M649.2,274.6L649.2,343.6M662.2,210.0L662.2,259.0M662.2,295.3L662.2,319.4M670.7,250.5L670.7,295.3M670.7,343.6L670.7,372.2M678.1,210.0L678.1,250.5M686.9,327.1L686.9,351.4M699.4,234.7L699.4,259.0M699.4,259.0L699.4,295.3M699.4,295.3L699.4,327.1M707.3,242.3L707.3,303.3M707.3,303.3L707.3,372.2M715.1,234.7L715.1,259.0M715.1,287.4L715.1,311.0M715.1,335.7L715.1,359.7M715.1,359.7L715.1,372.2M728.1,210.0L728.1,250.5M728.1,303.3L728.1,343.6M728.1,343.6L728.1,372.2M735.8,287.4L735.8,335.7M735.8,335.7L735.8,372.2M744.2,210.0L744.2,259.0M744.2,259.0L744.2,327.1M751.9,327.1L751.9,372.2" stroke="#3a8ccd" stroke-width="1.8"/>
<path d="M591.6,287.4L670.7,287.4M629.0,303.3L662.2,303.3M591.6,343.6L662.2,343.6M591.6,234.7L591.6,274.6M629.0,327.1L629.0,372.2M641.8,210.0L641.8,259.0M670.7,295.3L670.7,343.6M735.8,242.3L735.8,287.4M751.9,234.7L751.9,259.0M751.9,259.0L751.9,327.1" stroke="#0e5496" stroke-width="1.9"/>
</g>
<clipPath id="rc13"><polygon points="481.0,298.0 538.0,290.0 556.0,317.0 540.0,340.0 492.0,332.0 470.0,322.0"/></clipPath>
<g clip-path="url(#rc13)" fill="none">
<path d="M550.4,320.6L557.1,319.0M471.9,355.1L506.7,347.0M526.5,342.5L560.7,334.6M502.6,269.0L510.9,305.4" stroke="#d8a8a0" stroke-width="1.5"/>
<path d="M456.5,288.5L497.8,279.0M486.7,294.7L520.9,286.8M502.5,299.5L522.8,294.8M510.9,305.4L551.8,296.0M475.6,371.3L523.6,360.2M523.6,360.2L557.7,352.3M475.7,275.2L484.1,311.6M511.5,338.5L516.9,361.7M510.9,305.4L516.3,328.4M516.3,328.4L523.6,360.2M509.2,267.5L522.9,326.9M528.1,317.8L537.2,357.1M536.6,261.2L546.8,305.2M543.4,259.6L553.6,303.6" stroke="#a9d2ec" stroke-width="1.8"/>
<path d="M454.6,280.1L509.2,267.5M509.2,267.5L530.3,262.6M530.3,262.6L543.4,259.6M497.8,279.0L545.3,268.0M459.4,301.0L486.7,294.7M461.2,309.0L502.5,299.5M522.8,294.8L550.1,288.5M463.0,316.5L510.9,305.4M464.7,324.2L506.0,314.6M466.6,332.0L501.4,323.9M501.4,323.9L548.6,313.0M548.6,313.0L555.4,311.5M468.3,339.5L509.5,330.0M509.5,330.0L550.4,320.6M470.2,348.0L491.4,343.1M491.4,343.1L524.9,335.4M524.9,335.4L559.1,327.5M506.7,347.0L526.5,342.5M473.8,363.2L528.4,350.6M528.4,350.6L555.8,344.3M555.8,344.3L562.6,342.7M557.7,352.3L564.4,350.8M454.6,280.1L461.2,309.0M461.2,309.0L466.6,332.0M466.6,332.0L475.6,371.3M461.6,278.5L468.3,307.4M468.3,307.4L475.3,337.9M475.3,337.9L482.7,369.6M468.5,276.9L482.2,336.3M484.1,311.6L493.0,350.2M493.0,350.2L496.7,366.4M495.6,333.2L502.9,365.0M489.4,272.1L505.1,339.9M505.1,339.9L510.5,363.2M495.8,270.6L511.5,338.5M522.9,326.9L530.3,358.7M516.1,265.9L528.1,317.8M533.0,308.4L543.8,355.5M530.3,262.6L545.9,330.5M545.9,330.5L551.3,353.8M546.8,305.2L557.7,352.3M553.6,303.6L560.7,334.6" stroke="#3a8ccd" stroke-width="1.8"/>
</g>
<clipPath id="rc14"><polygon points="737.0,250.0 850.0,247.0 856.0,247.0 854.0,270.0 842.0,288.0 800.0,300.0 737.0,302.0"/></clipPath>
<g clip-path="url(#rc14)" fill="none">
<path d="M768.0,187.5L825.5,187.5M825.5,187.5L874.1,187.5M874.1,187.5L895.9,187.5M726.3,193.4L782.5,193.4M782.5,193.4L814.5,193.4M846.5,193.4L881.9,193.4M881.9,193.4L895.9,193.4M726.3,199.5L747.6,199.5M747.6,199.5L800.0,199.5M800.0,199.5L860.2,199.5M881.9,199.5L895.9,199.5M761.1,205.0L800.0,205.0M800.0,205.0L825.5,205.0M888.6,205.0L895.9,205.0M726.3,211.6L747.6,211.6M747.6,211.6L800.0,211.6M800.0,211.6L832.2,211.6M832.2,211.6L874.1,211.6M726.3,217.6L775.0,217.6M775.0,217.6L832.2,217.6M832.2,217.6L881.9,217.6M881.9,217.6L895.9,217.6M814.5,223.5L874.1,223.5M726.3,232.5L775.0,232.5M775.0,232.5L839.8,232.5M839.8,232.5L867.2,232.5M867.2,232.5L895.9,232.5M726.3,239.2L775.0,239.2M825.5,239.2L853.4,239.2M853.4,239.2L881.9,239.2M881.9,239.2L895.9,239.2M726.3,244.9L768.0,244.9M768.0,244.9L793.2,244.9M853.4,244.9L895.9,244.9M726.3,250.7L761.1,250.7M761.1,250.7L807.3,250.7M807.3,250.7L839.8,250.7M839.8,250.7L895.9,250.7M726.3,260.7L775.0,260.7M775.0,260.7L825.5,260.7M874.1,260.7L895.9,260.7M775.0,269.9L825.5,269.9M825.5,269.9L853.4,269.9M726.3,276.4L775.0,276.4M853.4,276.4L895.9,276.4M726.3,282.3L775.0,282.3M832.2,282.3L853.4,282.3M726.3,288.0L775.0,288.0M775.0,288.0L814.5,288.0M814.5,288.0L846.5,288.0M846.5,288.0L888.6,288.0M775.0,294.0L814.5,294.0M814.5,294.0L874.1,294.0M874.1,294.0L895.9,294.0M782.5,299.7L839.8,299.7M839.8,299.7L874.1,299.7M874.1,299.7L895.9,299.7M726.3,306.2L754.4,306.2M726.3,311.9L775.0,311.9M775.0,311.9L832.2,311.9M832.2,311.9L853.4,311.9M853.4,311.9L895.9,311.9M726.3,321.4L768.0,321.4M768.0,321.4L832.2,321.4M832.2,321.4L867.2,321.4M888.6,321.4L895.9,321.4M726.3,331.0L775.0,331.0M775.0,331.0L825.5,331.0M825.5,331.0L860.2,331.0M860.2,331.0L895.9,331.0M726.3,340.6L782.5,340.6M782.5,340.6L814.5,340.6M814.5,340.6L874.1,340.6M874.1,340.6L895.9,340.6M726.3,347.1L768.0,347.1M768.0,347.1L800.0,347.1M832.2,347.1L867.2,347.1M867.2,347.1L895.9,347.1M768.0,353.1L807.3,353.1M807.3,353.1L860.2,353.1M881.9,353.1L895.9,353.1M726.3,187.5L726.3,223.5M726.3,223.5L726.3,276.4M726.3,276.4L726.3,321.4M726.3,321.4L726.3,353.1M733.5,239.2L733.5,260.7M733.5,294.0L733.5,340.6M733.5,340.6L733.5,353.1M740.5,187.5L740.5,205.0M740.5,205.0L740.5,232.5M740.5,232.5L740.5,282.3M740.5,321.4L740.5,353.1M747.6,187.5L747.6,217.6M747.6,217.6L747.6,269.9M747.6,269.9L747.6,288.0M747.6,288.0L747.6,347.1M747.6,347.1L747.6,353.1M754.4,187.5L754.4,223.5M754.4,223.5L754.4,276.4M754.4,276.4L754.4,306.2M754.4,306.2L754.4,353.1M761.1,187.5L761.1,223.5M761.1,223.5L761.1,250.7M761.1,276.4L761.1,306.2M761.1,306.2L761.1,347.1M761.1,347.1L761.1,353.1M768.0,187.5L768.0,232.5M768.0,232.5L768.0,282.3M768.0,282.3L768.0,340.6M775.0,187.5L775.0,205.0M775.0,205.0L775.0,239.2M775.0,239.2L775.0,269.9M775.0,269.9L775.0,288.0M775.0,288.0L775.0,311.9M775.0,311.9L775.0,353.1M782.5,187.5L782.5,223.5M782.5,223.5L782.5,269.9M782.5,269.9L782.5,311.9M782.5,311.9L782.5,353.1M793.2,187.5L793.2,232.5M793.2,276.4L793.2,311.9M793.2,311.9L793.2,353.1M800.0,187.5L800.0,232.5M800.0,232.5L800.0,250.7M800.0,250.7L800.0,288.0M800.0,288.0L800.0,331.0M800.0,331.0L800.0,353.1M807.3,187.5L807.3,239.2M807.3,239.2L807.3,276.4M807.3,276.4L807.3,321.4M807.3,347.1L807.3,353.1M814.5,187.5L814.5,211.6M814.5,211.6L814.5,269.9M814.5,269.9L814.5,288.0M814.5,288.0L814.5,347.1M814.5,347.1L814.5,353.1M825.5,187.5L825.5,205.0M825.5,205.0L825.5,250.7M825.5,250.7L825.5,299.7M825.5,299.7L825.5,353.1M832.2,187.5L832.2,205.0M832.2,205.0L832.2,223.5M832.2,223.5L832.2,282.3M832.2,340.6L832.2,353.1M839.8,187.5L839.8,223.5M839.8,223.5L839.8,250.7M839.8,306.2L839.8,340.6M846.5,187.5L846.5,205.0M846.5,205.0L846.5,223.5M846.5,223.5L846.5,276.4M846.5,276.4L846.5,299.7M846.5,299.7L846.5,331.0M846.5,331.0L846.5,353.1M853.4,187.5L853.4,211.6M853.4,211.6L853.4,260.7M853.4,260.7L853.4,299.7M853.4,299.7L853.4,347.1M853.4,347.1L853.4,353.1M860.2,187.5L860.2,205.0M860.2,205.0L860.2,260.7M860.2,260.7L860.2,288.0M860.2,288.0L860.2,311.9M860.2,311.9L860.2,353.1M867.2,187.5L867.2,223.5M867.2,282.3L867.2,311.9M867.2,311.9L867.2,340.6M867.2,340.6L867.2,353.1M874.1,282.3L874.1,299.7M874.1,299.7L874.1,353.1M881.9,187.5L881.9,239.2M881.9,239.2L881.9,294.0M881.9,294.0L881.9,340.6M888.6,187.5L888.6,239.2M888.6,239.2L888.6,282.3M888.6,282.3L888.6,311.9M888.6,311.9L888.6,353.1M895.9,187.5L895.9,223.5M895.9,223.5L895.9,276.4M895.9,311.9L895.9,353.1" stroke="#d8a8a0" stroke-width="1.5"/>
<path d="M814.5,193.4L846.5,193.4M726.3,205.0L761.1,205.0M761.1,223.5L814.5,223.5M874.1,223.5L895.9,223.5M775.0,276.4L814.5,276.4M853.4,282.3L895.9,282.3M888.6,288.0L895.9,288.0M860.2,353.1L881.9,353.1M733.5,260.7L733.5,294.0M768.0,340.6L768.0,353.1M839.8,340.6L839.8,353.1M881.9,340.6L881.9,353.1" stroke="#a9d2ec" stroke-width="1.8"/>
<path d="M726.3,187.5L768.0,187.5M860.2,199.5L881.9,199.5M726.3,223.5L761.1,223.5M775.0,239.2L825.5,239.2M793.2,244.9L853.4,244.9M775.0,282.3L832.2,282.3M726.3,294.0L775.0,294.0M814.5,306.2L839.8,306.2M733.5,187.5L733.5,239.2M740.5,282.3L740.5,321.4M793.2,232.5L793.2,276.4M807.3,321.4L807.3,347.1M839.8,250.7L839.8,306.2M867.2,223.5L867.2,282.3M895.9,276.4L895.9,311.9" stroke="#3a8ccd" stroke-width="1.8"/>
</g>
<clipPath id="rc15"><polygon points="668.0,305.0 755.0,302.0 757.0,388.0 745.0,405.0 672.0,405.0 668.0,385.0"/></clipPath>
<g clip-path="url(#rc15)" fill="none">
<path d="M640.6,424.1L659.1,424.1M752.8,424.1L786.2,424.1M694.9,445.9L734.3,445.9M734.3,445.9L746.7,445.9M746.7,445.9L774.1,445.9M629.0,316.5L629.0,395.6M713.1,283.5L713.1,355.9M740.7,337.4L740.7,377.2" stroke="#d8a8a0" stroke-width="1.5"/>
<path d="M746.7,283.5L774.1,283.5M774.1,283.5L786.2,283.5M786.2,283.5L791.8,283.5M676.8,337.4L688.9,337.4M752.8,337.4L774.1,337.4M774.1,337.4L791.8,337.4M728.8,355.9L752.8,355.9M629.0,367.1L646.9,367.1M676.8,367.1L688.9,367.1M629.0,377.2L640.6,377.2M640.6,377.2L665.2,377.2M694.9,377.2L713.1,377.2M640.6,405.6L665.2,405.6M746.7,405.6L786.2,405.6M728.8,424.1L752.8,424.1M786.2,424.1L791.8,424.1M629.0,395.6L629.0,445.9M646.9,377.2L646.9,445.9M652.5,283.5L652.5,327.4M676.8,337.4L676.8,367.1M688.9,355.9L688.9,405.6M694.9,377.2L694.9,424.1M701.0,395.6L701.0,445.9M707.1,283.5L707.1,316.5M713.1,424.1L713.1,445.9M722.2,283.5L722.2,327.4M728.8,337.4L728.8,377.2M728.8,405.6L728.8,445.9M740.7,283.5L740.7,337.4M740.7,377.2L740.7,445.9M746.7,424.1L746.7,445.9M762.2,283.5L762.2,337.4M762.2,435.4L762.2,445.9M768.1,435.4L768.1,445.9M774.1,367.1L774.1,445.9M780.2,367.1L780.2,445.9M786.2,283.5L786.2,337.4M786.2,424.1L786.2,445.9M791.8,405.6L791.8,445.9" stroke="#a9d2ec" stroke-width="1.8"/>
<path d="M640.6,283.5L665.2,283.5M665.2,283.5L688.9,283.5M688.9,283.5L707.1,283.5M707.1,283.5L728.8,283.5M728.8,283.5L746.7,283.5M629.0,293.9L652.5,293.9M652.5,293.9L676.8,293.9M676.8,293.9L701.0,293.9M701.0,293.9L740.7,293.9M740.7,293.9L780.2,293.9M780.2,293.9L791.8,293.9M629.0,304.6L665.2,304.6M665.2,304.6L682.8,304.6M682.8,304.6L722.2,304.6M762.2,304.6L786.2,304.6M629.0,316.5L652.5,316.5M652.5,316.5L665.2,316.5M665.2,316.5L701.0,316.5M701.0,316.5L728.8,316.5M728.8,316.5L746.7,316.5M746.7,316.5L768.1,316.5M768.1,316.5L780.2,316.5M780.2,316.5L791.8,316.5M646.9,327.4L659.1,327.4M659.1,327.4L688.9,327.4M688.9,327.4L728.8,327.4M728.8,327.4L752.8,327.4M768.1,327.4L786.2,327.4M786.2,327.4L791.8,327.4M629.0,337.4L659.1,337.4M659.1,337.4L676.8,337.4M688.9,337.4L728.8,337.4M728.8,337.4L752.8,337.4M629.0,355.9L646.9,355.9M646.9,355.9L659.1,355.9M659.1,355.9L682.8,355.9M701.0,355.9L728.8,355.9M752.8,355.9L791.8,355.9M646.9,367.1L676.8,367.1M688.9,367.1L713.1,367.1M713.1,367.1L746.7,367.1M746.7,367.1L774.1,367.1M665.2,377.2L694.9,377.2M713.1,377.2L746.7,377.2M746.7,377.2L768.1,377.2M768.1,377.2L791.8,377.2M629.0,395.6L640.6,395.6M676.8,395.6L713.1,395.6M713.1,395.6L752.8,395.6M786.2,395.6L791.8,395.6M629.0,405.6L640.6,405.6M682.8,405.6L694.9,405.6M694.9,405.6L713.1,405.6M713.1,405.6L746.7,405.6M629.0,424.1L640.6,424.1M659.1,424.1L688.9,424.1M688.9,424.1L728.8,424.1M629.0,435.4L659.1,435.4M659.1,435.4L688.9,435.4M688.9,435.4L707.1,435.4M707.1,435.4L734.3,435.4M734.3,435.4L768.1,435.4M768.1,435.4L791.8,435.4M629.0,445.9L659.1,445.9M659.1,445.9L694.9,445.9M774.1,445.9L791.8,445.9M635.0,283.5L635.0,355.9M635.0,424.1L635.0,445.9M640.6,283.5L640.6,327.4M640.6,327.4L640.6,405.6M640.6,405.6L640.6,445.9M646.9,283.5L646.9,304.6M646.9,304.6L646.9,327.4M646.9,327.4L646.9,377.2M652.5,327.4L652.5,367.1M652.5,367.1L652.5,424.1M652.5,424.1L652.5,445.9M659.1,283.5L659.1,355.9M659.1,355.9L659.1,405.6M659.1,405.6L659.1,445.9M665.2,283.5L665.2,316.5M665.2,316.5L665.2,377.2M665.2,377.2L665.2,405.6M665.2,405.6L665.2,435.4M671.1,283.5L671.1,327.4M671.1,327.4L671.1,405.6M671.1,405.6L671.1,445.9M676.8,283.5L676.8,337.4M676.8,367.1L676.8,424.1M682.8,283.5L682.8,304.6M682.8,304.6L682.8,337.4M682.8,337.4L682.8,367.1M682.8,367.1L682.8,424.1M682.8,424.1L682.8,445.9M688.9,283.5L688.9,304.6M694.9,304.6L694.9,377.2M694.9,424.1L694.9,445.9M701.0,283.5L701.0,327.4M701.0,327.4L701.0,395.6M707.1,316.5L707.1,337.4M707.1,377.2L707.1,445.9M713.1,355.9L713.1,424.1M722.2,327.4L722.2,367.1M722.2,367.1L722.2,395.6M722.2,395.6L722.2,445.9M728.8,283.5L728.8,337.4M734.3,283.5L734.3,327.4M734.3,327.4L734.3,367.1M734.3,435.4L734.3,445.9M746.7,283.5L746.7,316.5M746.7,316.5L746.7,337.4M746.7,337.4L746.7,395.6M746.7,395.6L746.7,424.1M752.8,283.5L752.8,337.4M752.8,337.4L752.8,395.6M752.8,395.6L752.8,424.1M752.8,424.1L752.8,445.9M762.2,337.4L762.2,405.6M762.2,405.6L762.2,435.4M768.1,283.5L768.1,337.4M768.1,337.4L768.1,405.6M768.1,405.6L768.1,435.4M774.1,283.5L774.1,337.4M774.1,337.4L774.1,367.1M780.2,304.6L780.2,367.1M791.8,283.5L791.8,304.6M791.8,304.6L791.8,337.4" stroke="#3a8ccd" stroke-width="1.8"/>
</g>
<clipPath id="rc16"><polygon points="755.0,302.0 790.0,300.0 790.0,335.0 757.0,342.0"/></clipPath>
<g clip-path="url(#rc16)" fill="none">
<path d="M786.4,336.9L787.1,346.0" stroke="#d8a8a0" stroke-width="1.5"/>
<path d="M767.5,287.8L795.5,285.9M739.1,298.8L775.4,296.3M775.4,296.3L796.1,294.9M739.8,307.5L784.2,304.4M784.2,304.4L796.7,303.5M786.4,336.9L799.0,336.0M742.7,349.1L771.6,347.0M771.6,347.0L799.7,345.1M740.8,321.9L742.7,349.1M749.3,330.8L750.6,348.5M755.3,306.4L757.6,338.9M757.6,338.9L758.2,348.0M767.5,287.8L770.4,329.3M774.7,287.3L777.0,319.3M785.2,318.8L786.4,336.9M797.8,317.9L799.7,345.1" stroke="#a9d2ec" stroke-width="1.8"/>
<path d="M741.4,331.3L757.0,330.2M742.0,340.0L786.4,336.9M770.4,329.3L771.6,347.0M777.0,319.3L778.9,346.5M782.9,286.7L785.2,318.8M795.5,285.9L797.8,317.9" stroke="#3a8ccd" stroke-width="1.8"/>
</g>
<clipPath id="rc17"><polygon points="836.0,292.0 842.0,288.0 862.0,296.0 880.0,311.0 888.0,330.0 891.0,335.0 882.0,356.0 840.0,356.0 836.0,330.0"/></clipPath>
<g clip-path="url(#rc17)" fill="none">
<path d="M851.8,276.6L860.4,273.4M860.4,273.4L882.7,265.3M843.4,294.6L887.5,278.6M811.4,316.7L859.9,299.0M814.2,324.5L822.2,321.6M822.2,321.6L871.4,303.7M871.4,303.7L893.7,295.6M817.3,332.9L825.3,330.0M825.3,330.0L852.7,320.0M852.7,320.0L865.8,315.3M865.8,315.3L888.2,307.1M855.7,328.5L899.9,312.4M823.5,349.9L845.5,341.9M845.5,341.9L894.3,324.1M894.3,324.1L903.0,321.0M826.7,358.9L834.7,356.0M834.7,356.0L862.1,346.0M862.1,346.0L875.3,341.2M875.3,341.2L897.6,333.1M878.4,349.7L909.3,338.4M832.7,375.4L881.3,357.7M881.3,357.7L912.3,346.5M803.2,294.2L811.4,316.7M814.2,324.5L820.3,341.3M820.3,341.3L826.7,358.9M811.2,291.3L825.3,330.0M825.3,330.0L837.8,364.5M837.8,364.5L840.7,372.5M833.4,308.6L839.3,324.9M846.8,303.8L858.9,337.0M858.9,337.0L865.2,354.5M875.3,341.2L881.3,357.7M865.3,286.7L877.6,320.5M877.6,320.5L890.0,354.6M874.1,268.4L885.1,298.7M885.1,298.7L891.2,315.5M891.2,315.5L894.3,324.1M900.7,341.6L903.6,349.6M882.7,265.3L896.8,304.0M909.3,338.4L912.3,346.5" stroke="#a9d2ec" stroke-width="1.8"/>
<path d="M803.2,294.2L851.8,276.6M897.6,333.1L900.7,341.6" stroke="#3a8ccd" stroke-width="1.8"/>
</g>
<clipPath id="rc18"><polygon points="840.0,356.0 891.0,335.0 904.0,343.0 913.0,335.0 923.0,333.0 924.0,363.0 903.0,361.0 888.0,366.0 882.0,358.0"/></clipPath>
<g clip-path="url(#rc18)" fill="none">
<path d="M905.6,285.2L937.2,279.6M827.7,317.9L857.8,312.6M914.4,335.0L946.0,329.5M834.9,358.8L845.1,357.0M860.2,381.8L895.3,375.7M907.8,391.5L955.5,383.1M846.8,305.6L852.4,337.5M880.7,387.5L885.2,413.4M894.4,315.6L900.0,347.3M909.4,400.5L910.9,408.9M939.7,385.9L941.3,394.8" stroke="#d8a8a0" stroke-width="1.5"/>
<path d="M889.5,288.0L905.6,285.2M881.9,299.4L923.2,292.1M923.2,292.1L939.0,289.3M892.8,306.4L908.9,303.6M908.9,303.6L940.5,298.0M868.8,320.1L885.0,317.2M926.4,310.0L942.1,307.2M831.8,341.1L852.4,337.5M852.4,337.5L861.9,335.8M861.9,335.8L871.3,334.1M871.3,334.1L887.5,331.3M887.5,331.3L912.9,326.8M833.3,349.4L853.9,345.7M853.9,345.7L872.7,342.4M872.7,342.4L914.4,335.0M845.1,357.0L855.5,355.2M855.5,355.2L890.6,349.0M900.0,347.3L916.1,344.5M866.6,362.3L876.0,360.7M876.0,360.7L917.6,353.3M917.6,353.3L949.3,347.8M838.1,376.5L858.7,372.9M877.5,369.6L893.7,366.7M919.2,362.2L950.8,356.6M839.6,385.5L849.8,383.7M849.8,383.7L860.2,381.8M895.3,375.7L936.7,368.4M936.7,368.4L952.4,365.6M880.7,387.5L906.3,382.9M906.3,382.9L954.0,374.5M842.7,403.0L852.8,401.2M852.8,401.2L872.8,397.7M872.8,397.7L882.2,396.1M882.2,396.1L898.4,393.2M844.3,411.9L864.9,408.3M864.9,408.3L874.4,406.6M941.3,394.8L957.1,392.1M845.8,420.4L866.4,416.7M926.9,406.1L958.6,400.5M826.2,309.2L829.3,327.1M829.3,327.1L831.8,341.1M831.8,341.1L833.3,349.4M836.5,367.6L839.6,385.5M836.3,307.4L837.8,316.1M843.4,347.6L846.6,365.9M846.6,365.9L849.8,383.7M852.8,401.2L855.9,418.6M845.1,295.8L846.8,305.6M864.9,408.3L866.4,416.7M856.3,303.9L861.9,335.8M861.9,335.8L866.6,362.3M863.9,292.5L865.7,302.3M868.8,320.1L871.3,334.1M871.3,334.1L876.0,360.7M876.0,360.7L879.1,378.5M879.1,378.5L880.7,387.5M880.2,289.6L883.4,308.1M889.0,339.5L892.2,357.8M892.2,357.8L896.9,384.6M900.0,402.1L901.5,410.5M901.6,356.2L904.7,374.0M904.7,374.0L909.4,400.5M905.6,285.2L910.5,312.8M912.9,326.8L916.1,344.5M916.1,344.5L919.2,362.2M923.9,388.7L925.4,397.6M925.4,397.6L926.9,406.1M921.5,282.4L926.4,310.0M926.4,310.0L928.8,324.0M928.8,324.0L933.5,350.5M933.5,350.5L938.2,377.3M941.3,394.8L942.8,403.3M937.2,279.6L940.5,298.0M940.5,298.0L944.6,321.2M944.6,321.2L949.3,347.8M952.4,365.6L954.0,374.5M954.0,374.5L957.1,392.1M957.1,392.1L958.6,400.5" stroke="#a9d2ec" stroke-width="1.8"/>
</g>
<clipPath id="rc19"><polygon points="405.0,366.0 445.0,362.0 448.0,335.0 470.0,325.0 492.0,332.0 540.0,340.0 545.0,472.0 450.0,472.0 438.0,448.0 419.0,436.0 414.0,432.0 380.0,432.0 380.0,410.0 407.0,390.0"/></clipPath>
<g clip-path="url(#rc19)" fill="none">
<path d="M306.0,275.7L336.4,273.6M336.4,273.6L374.0,270.9M426.4,267.3L485.6,263.1M485.6,263.1L515.4,261.1M382.3,281.6L442.2,277.4M442.2,277.4L463.9,275.9M463.9,275.9L524.2,271.7M307.3,294.3L352.5,291.2M352.5,291.2L397.5,288.0M427.7,285.9L479.8,282.3M479.8,282.3L524.8,279.1M524.8,279.1L558.8,276.8M307.8,301.1L338.2,299.0M383.3,295.9L420.2,293.3M457.6,290.7L487.4,288.6M487.4,288.6L547.8,284.4M547.8,284.4L567.0,283.0M308.3,308.3L353.5,305.1M353.5,305.1L390.7,302.5M390.7,302.5L420.7,300.4M420.7,300.4L458.1,297.8M458.1,297.8L487.9,295.7M487.9,295.7L540.3,292.0M540.3,292.0L567.5,290.1M308.8,315.3L339.2,313.2M339.2,313.2L361.2,311.6M361.2,311.6L391.2,309.5M391.2,309.5L421.2,307.4M421.2,307.4L451.6,305.3M540.8,299.1L568.0,297.2M332.4,324.2L370.0,321.5M370.0,321.5L407.3,318.9M504.4,312.1L527.0,310.6M527.0,310.6L568.8,307.6M310.0,333.4L340.4,331.3M340.4,331.3L392.5,327.6M392.5,327.6L422.5,325.5M550.1,316.6L569.3,315.3M348.3,337.5L408.3,333.3M408.3,333.3L446.0,330.7M446.0,330.7L490.1,327.6M490.1,327.6L519.9,325.5M519.9,325.5L569.8,322.0M311.0,346.7L341.4,344.6M341.4,344.6L386.5,341.4M386.5,341.4L423.4,338.9M423.4,338.9L453.8,336.7M490.6,334.2L520.4,332.1M520.4,332.1L570.2,328.6M311.5,353.8L341.9,351.6M341.9,351.6L379.5,349.0M379.5,349.0L416.4,346.4M416.4,346.4L461.2,343.3M461.2,343.3L514.0,339.6M514.0,339.6L570.7,335.6M312.0,361.3L349.8,358.6M387.5,356.0L432.4,352.8M469.1,350.3L491.6,348.7M312.5,368.2L350.3,365.5M350.3,365.5L373.0,364.0M373.0,364.0L402.6,361.9M402.6,361.9L440.2,359.3M440.2,359.3L462.3,357.7M485.0,356.1L521.9,353.5M521.9,353.5L564.0,350.6M343.4,373.3L365.4,371.7M403.1,369.1L433.4,367.0M462.8,364.9L507.9,361.8M507.9,361.8L564.5,357.8M564.5,357.8L572.2,357.3M313.7,386.1L336.6,384.5M336.6,384.5L396.1,380.3M426.2,378.2L470.9,375.1M470.9,375.1L523.1,371.4M523.1,371.4L573.0,367.9M314.2,392.9L344.6,390.8M344.6,390.8L396.6,387.2M449.7,383.5L493.8,380.4M493.8,380.4L523.6,378.3M523.6,378.3L573.5,374.8M314.7,400.5L375.3,396.3M375.3,396.3L412.5,393.7M412.5,393.7L471.9,389.5M471.9,389.5L502.1,387.4M502.1,387.4L532.2,385.3M532.2,385.3L574.0,382.4M315.2,407.5L360.4,404.3M360.4,404.3L383.3,402.8M383.3,402.8L427.7,399.6M472.4,396.5L532.7,392.3M315.7,414.5L346.1,412.4M405.9,408.2L465.5,404.1M465.5,404.1L510.6,400.9M510.6,400.9L575.0,396.4M316.2,421.2L361.4,418.0M361.4,418.0L398.6,415.4M398.6,415.4L451.6,411.7M451.6,411.7L495.8,408.6M518.7,407.0L548.2,404.9M548.2,404.9L575.4,403.0M377.2,423.5L429.1,419.9M429.1,419.9L473.8,416.8M473.8,416.8L504.0,414.7M568.1,410.2L575.9,409.6M317.1,435.1L347.5,433.0M347.5,433.0L385.2,430.3M385.2,430.3L407.3,428.8M407.3,428.8L466.9,424.6M466.9,424.6L504.5,422.0M504.5,422.0L557.2,418.3M557.2,418.3L576.4,417.0M317.6,441.9L340.5,440.3M340.5,440.3L393.1,436.6M393.1,436.6L445.3,433.0M445.3,433.0L505.0,428.8M505.0,428.8L569.1,424.3M569.1,424.3L576.9,423.8M318.1,448.9L370.6,445.2M370.6,445.2L393.6,443.6M393.6,443.6L423.1,441.5M423.1,441.5L460.9,438.9M460.9,438.9L505.5,435.8M505.5,435.8L550.1,432.7M550.1,432.7L577.4,430.8M318.6,455.9L349.0,453.7M349.0,453.7L394.1,450.6M394.1,450.6L416.4,449.0M416.4,449.0L475.8,444.9M319.1,462.9L356.9,460.3M387.1,458.2L409.3,456.6M446.8,454.0L506.4,449.8M506.4,449.8L543.9,447.2M543.9,447.2L578.4,444.8M319.6,469.8L342.4,468.2M342.4,468.2L395.1,464.6M395.1,464.6L447.3,460.9M447.3,460.9L492.1,457.8M529.0,455.2L578.8,451.7M515.0,463.7L537.5,462.1M537.5,462.1L579.4,459.2M320.6,484.3L343.5,482.7M343.5,482.7L365.8,481.2M365.8,481.2L403.0,478.6M403.0,478.6L433.1,476.5M433.1,476.5L477.7,473.3M477.7,473.3L523.1,470.2M545.4,468.6L579.8,466.2M321.1,491.3L373.5,487.6M373.5,487.6L426.1,484.0M426.1,484.0L478.2,480.3M500.7,478.7L545.9,475.6M545.9,475.6L580.3,473.2M359.4,495.2L397.1,492.5M397.1,492.5L434.0,490.0M434.0,490.0L486.6,486.3M486.6,486.3L546.4,482.1M546.4,482.1L573.0,480.2M573.0,480.2L580.8,479.7M322.3,508.8L352.7,506.7M352.7,506.7L382.8,504.6M382.8,504.6L434.8,500.9M479.5,497.8L539.8,493.6M539.8,493.6L581.6,490.7M375.2,512.3L435.3,508.1M435.3,508.1L495.3,503.9M495.3,503.9L532.2,501.3M532.2,501.3L574.3,498.4M574.3,498.4L582.1,497.8M323.3,523.0L353.7,520.9M353.7,520.9L391.3,518.2M391.3,518.2L428.3,515.7M428.3,515.7L488.4,511.5M488.4,511.5L540.7,507.8M540.7,507.8L582.6,504.9M323.8,529.7L346.6,528.1M369.0,526.5L391.8,524.9M391.8,524.9L436.2,521.8M436.2,521.8L473.5,519.2M473.5,519.2L503.3,517.1M503.3,517.1L548.6,513.9M548.6,513.9L583.0,511.5M306.0,275.7L309.5,325.8M313.7,386.1L317.6,441.9M317.6,441.9L319.1,462.9M319.1,462.9L320.6,484.3M323.3,523.0L323.8,529.7M314.3,275.1L316.5,307.7M316.5,307.7L319.2,346.1M319.2,346.1L322.0,385.5M322.0,385.5L323.5,406.9M323.5,406.9L326.4,448.3M326.4,448.3L328.8,483.8M328.8,483.8L332.0,529.1M325.4,339.1L328.6,385.0M328.6,385.0L330.1,406.5M330.1,406.5L332.1,434.0M332.1,434.0L334.5,468.8M334.5,468.8L336.4,496.8M336.4,496.8L338.7,528.6M330.7,299.5L332.4,324.2M332.4,324.2L334.3,352.2M334.3,352.2L336.6,384.5M336.6,384.5L340.0,433.5M340.0,433.5L342.0,461.3M342.0,461.3L346.2,521.4M336.4,273.6L340.4,331.3M340.4,331.3L342.4,359.1M342.4,359.1L344.1,383.9M344.1,383.9L347.0,425.6M347.0,425.6L349.5,460.8M349.5,460.8L352.7,506.7M343.8,273.0L347.3,323.1M347.3,323.1L349.8,358.6M353.5,411.9L357.4,467.2M357.4,467.2L361.6,527.0M353.5,305.1L357.2,358.1M357.2,358.1L360.9,411.4M360.9,411.4L363.8,452.7M363.8,452.7L367.5,505.6M358.4,272.0L361.9,322.1M361.9,322.1L364.4,357.6M364.4,357.6L367.7,403.8M371.5,459.3L374.0,494.1M374.0,494.1L375.7,519.3M375.7,519.3L376.2,526.0M369.3,311.1L373.0,364.0M373.0,364.0L374.7,388.7M378.2,437.7L381.1,480.1M382.8,504.6L384.3,525.4M374.0,270.9L375.8,296.4M375.8,296.4L380.0,356.5M380.0,356.5L382.8,395.7M382.8,395.7L385.2,430.3M385.2,430.3L387.6,465.1M387.6,465.1L390.8,511.2M381.5,270.4L385.6,328.1M388.0,362.9L390.2,395.2M390.2,395.2L392.2,422.5M392.2,422.5L394.6,457.7M394.6,457.7L398.3,510.7M398.3,510.7L399.3,524.4M392.5,327.6L394.9,362.4M403.0,478.6L405.2,510.2M405.2,510.2L406.2,523.9M396.2,269.4L398.4,301.9M398.4,301.9L402.6,361.9M402.6,361.9L405.4,401.2M405.4,401.2L409.3,456.6M409.3,456.6L413.0,509.6M413.0,509.6L413.9,523.4M403.8,268.9L406.6,308.4M406.6,308.4L409.8,354.4M412.0,386.1L415.9,442.1M418.4,477.5L420.6,509.1M420.6,509.1L421.5,522.8M414.5,318.4L418.7,378.7M418.7,378.7L422.1,427.7M422.1,427.7L423.6,448.5M421.2,307.4L424.9,360.3M424.9,360.3L427.2,392.6M427.2,392.6L429.1,419.9M432.6,469.4L435.8,515.1M435.8,515.1L436.2,521.8M426.4,267.3L428.2,292.7M428.2,292.7L432.4,352.8M432.4,352.8L435.6,399.1M435.6,399.1L438.0,433.5M438.0,433.5L439.5,454.5M433.7,266.8L436.5,306.4M438.7,337.8L441.9,384.0M441.9,384.0L443.9,412.2M443.9,412.2L446.8,454.0M446.8,454.0L450.0,499.9M441.5,266.2L445.5,323.9M445.5,323.9L447.9,358.7M447.9,358.7L449.7,383.5M449.7,383.5L452.1,418.3M452.1,418.3L454.1,446.4M457.0,488.3L459.2,520.2M448.8,265.7L452.3,315.8M452.3,315.8L455.3,358.2M455.3,358.2L459.0,411.2M459.0,411.2L460.9,438.9M460.9,438.9L463.4,474.3M463.4,474.3L466.6,519.7M455.8,265.2L460.3,329.7M460.3,329.7L462.3,357.7M468.4,445.4L469.9,466.8M469.9,466.8L473.5,519.2M463.2,264.7L467.7,329.1M467.7,329.1L471.9,389.5M471.9,389.5L473.3,410.2M473.3,410.2L475.3,437.9M475.3,437.9L477.7,473.3M480.5,512.0L480.9,518.7M471.1,264.1L472.9,289.6M474.6,314.2L476.1,335.2M476.1,335.2L477.6,356.6M484.2,451.4L485.7,472.8M483.0,328.1L485.5,363.3M485.5,363.3L489.7,423.0M489.7,423.0L491.6,450.9M491.6,450.9L493.1,472.3M495.8,510.9L496.3,517.6M485.6,263.1L489.6,320.8M491.6,348.7L494.3,387.9M497.7,436.3L501.1,485.3M501.1,485.3L503.3,517.1M493.4,262.6L496.9,312.7M496.9,312.7L498.8,340.7M498.8,340.7L500.3,362.3M504.0,414.7L505.5,435.8M505.5,435.8L507.4,464.2M507.4,464.2L510.6,509.9M510.6,509.9L511.1,516.6M500.9,262.1L504.4,312.1M504.4,312.1L505.9,333.1M505.9,333.1L507.4,354.6M507.4,354.6L511.1,407.5M511.1,407.5L513.0,435.3M513.0,435.3L515.0,463.7M515.0,463.7L516.4,484.2M516.4,484.2L518.7,516.0M508.5,261.5L510.8,294.1M514.5,347.1L517.7,393.4M517.7,393.4L519.1,413.6M522.6,463.1L526.3,515.5M517.7,293.6L521.9,353.5M521.9,353.5L523.6,378.3M523.6,378.3L527.0,427.2M527.0,427.2L530.9,483.2M530.9,483.2L533.2,515.0M523.5,260.5L527.0,310.6M527.0,310.6L531.2,370.9M531.2,370.9L533.2,399.3M533.2,399.3L536.5,447.7M534.3,310.0L536.3,338.0M536.3,338.0L539.6,384.8M539.6,384.8L543.4,440.1M543.4,440.1L544.9,461.6M538.0,259.5L541.5,309.5M541.5,309.5L545.0,359.2M548.7,411.5L550.1,432.7M550.1,432.7L553.1,475.1M553.1,475.1L555.8,513.4M546.0,258.9L548.8,298.5M548.8,298.5L552.0,344.5M554.2,376.2L556.7,411.0M556.7,411.0L559.1,446.1M563.3,506.2L563.8,512.9M557.5,258.1L561.5,315.8M561.5,315.8L564.0,350.6M564.0,350.6L567.7,403.6M569.1,424.3L571.6,459.7M574.8,505.4L575.3,512.1M565.3,257.6L568.8,307.6M568.8,307.6L573.0,367.9M573.0,367.9L575.0,396.4M575.0,396.4L576.9,423.8M580.8,479.7L583.0,511.5" stroke="#d8a8a0" stroke-width="1.5"/>
<path d="M557.5,258.1L565.3,257.6M338.2,299.0L383.3,295.9M420.2,293.3L457.6,290.7M504.9,319.8L550.1,316.6M310.5,340.1L348.3,337.5M453.8,336.7L490.6,334.2M491.6,348.7L552.0,344.5M564.0,350.6L571.7,350.1M365.4,371.7L403.1,369.1M433.4,367.0L462.8,364.9M316.6,427.8L377.2,423.5M504.0,414.7L568.1,410.2M475.8,444.9L536.0,440.6M320.1,477.3L357.9,474.7M523.1,470.2L545.4,468.6M328.9,274.1L330.7,299.5M349.8,358.6L353.5,411.9M374.7,388.7L378.2,437.7M381.1,480.1L382.8,504.6M394.9,362.4L398.1,408.8M400.0,436.1L403.0,478.6M418.5,267.8L421.2,307.4M439.5,454.5L441.5,482.9M450.0,499.9L451.5,520.7M454.1,446.4L457.0,488.3M462.3,357.7L464.5,390.0M485.7,472.8L488.9,518.1M545.0,359.2L548.7,411.5" stroke="#a9d2ec" stroke-width="1.8"/>
<path d="M558.8,276.8L566.6,276.2M445.0,316.3L474.6,314.2M422.5,325.5L459.8,322.9M459.8,322.9L504.9,319.8M552.0,344.5L571.2,343.1M396.6,387.2L449.7,383.5M536.0,440.6L577.9,437.7M492.1,457.8L529.0,455.2M417.9,470.5L477.3,466.3M434.8,500.9L479.5,497.8M441.5,482.9L444.2,521.2M477.7,473.3L480.5,512.0M489.6,320.8L491.6,348.7M494.3,387.9L497.7,436.3M519.1,413.6L522.6,463.1M536.5,447.7L538.0,469.1M538.0,469.1L541.2,514.5M567.7,403.6L569.1,424.3" stroke="#3a8ccd" stroke-width="1.8"/>
</g>
<clipPath id="rc20"><polygon points="460.0,388.0 512.0,387.0 514.0,420.0 540.0,420.0 545.0,446.0 496.0,446.0 494.0,458.0 470.0,458.0 462.0,420.0"/></clipPath>
<g clip-path="url(#rc20)" fill="none">
<path d="M436.9,369.0L452.3,368.4M452.3,368.4L482.2,367.4M437.1,376.3L482.4,374.8M474.5,383.9L490.2,383.3M453.7,408.6L498.1,407.0M498.1,407.0L525.3,406.1M525.3,406.1L557.0,405.0M438.5,417.0L453.9,416.5M519.2,438.4L558.1,437.1M439.6,448.5L470.0,447.4M492.4,446.6L534.2,445.2M440.2,464.8L485.5,463.3M447.8,464.6L448.7,488.4M454.2,424.3L455.6,464.3M461.4,431.5L462.8,472.0M467.2,367.9L468.3,399.5M477.0,455.4L478.1,487.4M496.7,366.9L498.1,407.0M525.5,414.0L526.4,438.2M532.9,405.8L533.4,421.5M543.4,365.2L544.8,405.4M544.8,405.4L546.5,453.0M547.0,469.1L547.6,484.9" stroke="#a9d2ec" stroke-width="1.8"/>
<path d="M482.2,367.4L523.9,365.9M523.9,365.9L555.6,364.8M482.4,374.8L509.3,373.8M543.6,372.6L555.8,372.2M437.4,385.2L474.5,383.9M524.4,382.1L544.0,381.5M544.0,381.5L556.1,381.0M437.7,393.1L468.0,392.0M468.0,392.0L483.0,391.5M483.0,391.5L517.5,390.3M517.5,390.3L556.4,389.0M438.0,400.6L468.3,399.5M468.3,399.5L510.2,398.1M525.0,397.5L544.5,396.9M544.5,396.9L556.7,396.4M453.9,416.5L475.6,415.7M438.8,424.8L475.9,423.5M525.8,421.8L557.5,420.7M476.1,431.0L491.8,430.5M491.8,430.5L526.1,429.3M526.1,429.3L557.8,428.2M461.7,440.4L499.2,439.1M499.2,439.1L519.2,438.4M470.0,447.4L492.4,446.6M534.2,445.2L558.3,444.3M439.9,456.7L470.3,455.7M470.3,455.7L512.1,454.2M512.1,454.2L546.5,453.0M546.5,453.0L558.6,452.6M485.5,463.3L527.2,461.8M527.2,461.8L546.7,461.1M546.7,461.1L558.9,460.7M440.5,472.8L462.8,472.0M547.0,469.1L559.2,468.6M440.8,480.5L456.2,479.9M456.2,479.9L500.6,478.4M500.6,478.4L527.8,477.4M527.8,477.4L547.3,476.7M547.3,476.7L559.5,476.3M441.0,488.7L486.4,487.1M535.6,485.3L559.7,484.5M436.9,369.0L438.3,409.1M438.3,409.1L439.6,448.5M439.6,448.5L441.0,488.7M444.5,368.7L446.2,416.8M452.3,368.4L453.1,392.6M453.1,392.6L454.2,424.3M455.6,464.3L456.2,479.9M456.2,479.9L456.4,488.1M459.1,368.2L460.8,416.3M460.8,416.3L461.4,431.5M462.8,472.0L463.3,487.9M468.3,399.5L469.7,440.2M469.7,440.2L470.3,455.7M470.3,455.7L470.8,471.7M470.8,471.7L471.4,487.6M475.0,399.3L476.4,439.9M476.4,439.9L477.0,455.4M482.2,367.4L483.0,391.5M483.0,391.5L484.7,439.6M484.7,439.6L486.1,478.9M486.1,478.9L486.4,487.1M489.6,367.1L491.0,407.3M492.2,439.4L493.3,470.9M493.3,470.9L493.8,486.8M498.1,407.0L499.8,454.6M499.8,454.6L500.9,486.6M509.1,366.4L509.6,382.7M509.6,382.7L510.2,398.1M510.2,398.1L510.7,414.5M510.7,414.5L511.6,438.7M512.1,454.2L513.2,486.1M516.6,366.2L517.5,390.3M517.5,390.3L518.3,414.3M518.3,414.3L520.0,462.1M523.9,365.9L525.5,414.0M526.4,438.2L527.5,469.7M527.5,469.7L528.0,485.6M532.0,381.9L532.9,405.8M533.4,421.5L534.2,445.2M534.2,445.2L534.8,461.5M534.8,461.5L535.6,485.3M546.5,453.0L547.0,469.1M555.6,364.8L556.1,381.0M556.1,381.0L557.0,405.0M557.0,405.0L557.8,428.2M557.8,428.2L558.3,444.3M558.3,444.3L559.7,484.5" stroke="#3a8ccd" stroke-width="1.8"/>
</g>
<clipPath id="rc21"><polygon points="496.0,446.0 554.0,444.0 556.0,472.0 494.0,472.0 494.0,458.0"/></clipPath>
<g clip-path="url(#rc21)" fill="none">
<path d="M472.9,415.7L519.0,414.1M519.0,414.1L540.2,413.4M540.2,413.4L561.2,412.7M512.1,425.2L526.3,424.7M526.3,424.7L553.8,423.7M553.8,423.7L561.6,423.4M473.5,433.5L494.7,432.7M494.7,432.7L540.9,431.1M473.8,440.7L487.3,440.2M526.8,438.8L562.1,437.6M474.0,447.2L520.1,445.5M520.1,445.5L548.2,444.6M548.2,444.6L562.3,444.1M474.3,454.9L487.8,454.4M487.8,454.4L505.9,453.8M505.9,453.8L520.4,453.3M541.6,452.5L562.6,451.8M474.5,461.2L520.6,459.6M520.6,459.6L541.8,458.9M541.8,458.9L562.8,458.1M474.7,468.8L513.5,467.4M549.0,466.2L563.0,465.7M475.0,475.5L506.6,474.4M506.6,474.4L542.3,473.2M542.3,473.2L563.3,472.4M475.2,482.1L488.7,481.6M488.7,481.6L521.3,480.5M475.5,489.2L489.0,488.7M489.0,488.7L528.5,487.4M528.5,487.4L549.7,486.6M549.7,486.6L563.7,486.1M475.9,501.1L514.7,499.7M528.9,499.2L564.2,498.0M472.9,415.7L474.5,461.2M474.5,461.2L475.9,501.1M479.9,415.5L481.0,446.9M481.0,446.9L481.5,461.0M481.5,461.0L482.9,500.8M486.4,415.3L487.0,433.0M487.8,454.4L489.4,500.6M494.1,415.0L494.9,439.9M494.9,439.9L495.4,454.1M495.4,454.1L496.6,488.5M496.6,488.5L497.1,500.4M504.5,414.6L506.1,460.1M506.1,460.1L507.5,500.0M511.7,414.4L513.3,459.8M513.3,459.8L513.8,474.2M519.0,414.1L520.6,459.6M521.3,480.5L522.0,499.5M525.9,413.9L527.5,459.4M527.5,459.4L528.9,499.2M533.8,438.6L535.2,480.0M541.1,438.3L542.3,473.2M542.3,473.2L543.2,498.7M547.1,413.1L548.7,458.6M548.7,458.6L550.1,498.5M553.4,412.9L554.8,452.1M554.8,452.1L555.5,472.7M555.5,472.7L556.4,498.3M561.2,412.7L562.8,458.1M563.5,479.0L564.2,498.0" stroke="#a9d2ec" stroke-width="1.8"/>
<path d="M520.4,453.3L541.6,452.5M513.8,474.2L514.7,499.7M520.6,459.6L521.3,480.5M540.2,413.4L541.1,438.3M562.8,458.1L563.5,479.0" stroke="#3a8ccd" stroke-width="1.8"/>
</g>
<clipPath id="rc22"><polygon points="510.0,368.0 543.0,366.0 545.0,412.0 528.0,416.0 512.0,405.0"/></clipPath>
<g clip-path="url(#rc22)" fill="none">
<path d="M547.4,364.1L562.1,364.9M555.7,378.0L561.4,378.3M529.6,393.7L554.8,395.1M554.8,395.1L560.5,395.4M554.2,407.5L559.8,407.8M491.0,391.7L489.3,423.8M511.5,418.3L511.2,425.0M547.7,358.3L546.7,377.5" stroke="#3a8ccd" stroke-width="1.8"/>
<path d="M492.9,355.4L514.7,356.6M514.7,356.6L537.1,357.7M537.1,357.7L562.4,359.1M492.6,361.3L531.2,363.3M531.2,363.3L547.4,364.1M508.6,368.8L541.8,370.5M541.8,370.5L561.7,371.6M491.9,374.7L519.8,376.1M519.8,376.1L555.7,378.0M491.4,384.7L513.2,385.9M513.2,385.9L535.6,387.0M535.6,387.0L560.9,388.4M491.0,391.7L529.6,393.7M490.7,397.7L507.0,398.6M540.2,400.3L560.2,401.4M490.3,404.2L512.2,405.3M512.2,405.3L554.2,407.5M490.0,410.7L518.0,412.2M518.0,412.2L559.5,414.3M489.7,417.1L522.7,418.9M544.5,420.0L559.2,420.8M489.3,423.8L505.7,424.7M505.7,424.7L522.4,425.6M522.4,425.6L558.8,427.5M492.9,355.4L491.0,391.7M498.4,355.7L495.9,404.5M495.9,404.5L494.9,424.1M503.9,356.0L501.7,398.3M509.3,356.3L507.4,392.6M507.4,392.6L506.0,418.0M506.0,418.0L505.7,424.7M514.7,356.6L513.2,385.9M513.2,385.9L511.5,418.3M520.8,356.9L518.6,399.2M518.6,399.2L517.3,425.3M526.0,357.1L523.4,405.9M523.4,405.9L522.4,425.6M531.5,357.4L530.5,376.7M530.5,376.7L527.9,425.9M537.1,357.7L534.6,406.5M534.6,406.5L533.5,426.2M542.4,358.0L539.9,406.8M539.9,406.8L538.8,426.4M546.7,377.5L544.2,426.7M556.7,358.8L554.5,401.1M554.5,401.1L553.2,427.2M562.4,359.1L560.2,401.4M560.2,401.4L558.8,427.5" stroke="#0e5496" stroke-width="1.9"/>
</g>
<clipPath id="rc23"><polygon points="561.0,412.0 598.0,400.0 607.0,440.0 580.0,454.0 566.0,434.0"/></clipPath>
<g clip-path="url(#rc23)" fill="none">
<path d="M591.0,387.6L606.2,383.8M580.9,410.2L611.0,402.7M582.5,416.7L606.8,410.7M545.2,432.9L577.9,424.8M587.1,435.2L617.2,427.7M550.8,455.4L583.5,447.3M577.8,448.7L580.9,460.9M576.2,391.3L584.1,423.2M584.9,389.1L591.3,414.6M600.0,449.8L601.5,455.8M600.4,385.2L606.8,410.7M615.5,445.9L617.0,451.9" stroke="#3a8ccd" stroke-width="1.8"/>
<path d="M537.2,401.0L569.9,392.8M569.9,392.8L591.0,387.6M538.8,407.3L571.5,399.1M571.5,399.1L607.8,390.1M540.3,413.4L588.0,401.5M588.0,401.5L609.3,396.2M541.9,420.0L580.9,410.2M543.5,426.5L582.5,416.7M606.8,410.7L612.6,409.2M577.9,424.8L614.2,415.7M546.7,439.0L585.6,429.3M585.6,429.3L615.7,421.8M548.1,444.9L587.1,435.2M583.5,447.3L604.5,442.0M604.5,442.0L619.8,438.2M552.3,461.7L579.4,454.9M579.4,454.9L621.4,444.5M553.8,467.7L575.2,462.4M575.2,462.4L622.9,450.5M537.2,401.0L548.1,444.9M548.1,444.9L553.8,467.7M543.0,399.5L552.5,437.5M552.5,437.5L559.7,466.2M549.4,398.0L560.3,441.9M560.3,441.9L566.0,464.7M558.5,395.7L569.5,439.6M569.5,439.6L575.2,462.4M564.3,394.2L570.6,419.7M570.6,419.7L577.8,448.7M569.9,392.8L580.9,436.8M584.1,423.2L592.8,458.0M591.3,414.6L600.0,449.8M591.0,387.6L598.9,419.5M598.9,419.5L607.6,454.3M606.8,410.7L615.5,445.9M606.2,383.8L614.2,415.7M614.2,415.7L621.4,444.5M621.4,444.5L622.9,450.5" stroke="#0e5496" stroke-width="1.9"/>
</g>
<clipPath id="rc24"><polygon points="545.0,345.0 612.0,345.0 612.0,472.0 545.0,472.0"/></clipPath>
<g clip-path="url(#rc24)" fill="none">
<path d="M555.7,334.0L592.6,328.8M493.1,351.0L549.1,343.1M494.1,357.7L550.1,349.8M550.1,349.8L587.0,344.6M610.9,349.5L640.2,345.3M496.8,377.0L552.8,369.1M583.1,364.9L634.8,357.6M568.9,374.7L620.5,367.5M555.0,384.5L607.6,377.1M607.6,377.1L644.0,372.0M500.0,399.6L556.0,391.7M556.0,391.7L586.3,387.5M586.3,387.5L638.0,380.2M501.0,406.7L549.9,399.8M549.9,399.8L572.0,396.7M572.0,396.7L623.6,389.5M623.6,389.5L646.0,386.3M502.1,414.8L543.1,409.1M595.0,401.8L624.7,397.6M624.7,397.6L647.1,394.5M503.1,421.7L536.9,417.0M633.1,403.5L648.1,401.4M612.7,414.0L642.1,409.9M605.8,422.6L643.2,417.4M643.2,417.4L650.2,416.4M507.9,455.7L548.9,450.0M531.8,467.9L558.9,464.1M602.9,457.9L625.7,454.7M625.7,454.7L655.0,450.6M511.0,478.5L560.0,471.6M560.0,471.6L582.1,468.5M641.1,460.2L656.1,458.1M583.2,476.0L612.7,471.9M534.9,489.9L576.8,484.0M576.8,484.0L606.0,479.9M606.0,479.9L643.1,474.7M492.0,343.0L500.0,399.6M500.0,399.6L503.1,421.7M503.1,421.7L508.9,463.5M517.6,469.9L520.7,491.9M513.6,390.3L519.9,434.7M519.6,381.6L523.9,411.8M523.9,411.8L527.0,433.7M527.0,433.7L532.8,475.4M533.8,394.9L536.9,417.0M536.9,417.0L540.7,444.0M540.7,444.0L547.0,488.2M533.0,337.2L538.9,378.9M543.1,409.1L550.0,457.7M550.0,457.7L553.1,480.2M548.9,392.7L554.1,429.9M558.9,464.1L562.0,486.1M558.1,407.0L562.9,440.9M562.9,440.9L569.1,485.1M561.6,375.7L564.7,397.8M564.7,397.8L572.7,454.5M563.1,333.0L570.0,382.3M575.2,419.3L578.9,445.8M578.9,445.8L584.1,483.0M573.5,354.7L580.4,403.8M580.4,403.8L586.1,444.7M589.3,467.5L591.4,481.9M581.5,353.6L588.4,402.7M588.4,402.7L596.3,458.8M584.9,329.9L588.1,352.7M591.8,379.3L595.0,401.8M600.8,442.7L606.0,479.9M599.5,378.2L603.7,407.6M603.7,407.6L607.5,434.7M600.6,327.7L607.6,377.1M612.7,414.0L617.5,448.2M622.6,382.4L629.5,431.6M632.6,453.7L635.7,475.7M627.9,366.4L631.0,388.4M634.2,411.0L641.1,460.2M630.0,323.6L633.2,346.3M637.0,322.6L645.0,379.2M645.0,379.2L649.2,408.9" stroke="#d8a8a0" stroke-width="1.5"/>
<path d="M533.0,337.2L555.7,334.0M614.6,325.7L637.0,322.6M529.1,361.0L566.2,355.7M566.2,355.7L610.9,349.5M497.9,384.7L519.6,381.6M620.5,367.5L642.9,364.3M498.9,392.3L555.0,384.5M536.9,417.0L559.1,413.9M559.1,413.9L596.0,408.7M575.2,419.3L612.7,414.0M505.2,436.7L554.1,429.9M576.2,426.8L605.8,422.6M562.9,440.9L615.5,433.5M548.9,450.0L586.1,444.7M637.9,437.5L652.9,435.4M508.9,463.5L557.9,456.6M510.0,471.0L531.8,467.9M558.9,464.1L602.9,457.9M533.9,482.9L583.2,476.0M612.7,471.9L657.1,465.6M643.1,474.7L658.1,472.6M512.1,486.0L513.1,492.9M506.7,340.9L513.6,390.3M526.8,483.9L527.8,490.9M513.8,339.9L519.6,381.6M530.7,372.2L533.8,394.9M553.1,480.2L554.1,487.2M540.9,336.1L548.9,392.7M552.8,369.1L558.1,407.0M586.1,444.7L589.3,467.5M578.3,330.8L581.5,353.6M588.1,352.7L591.8,379.3M595.0,401.8L600.8,442.7M592.6,328.8L599.5,378.2M607.5,434.7L613.7,478.8M617.5,448.2L621.7,477.7M622.6,432.6L627.8,469.7M627.8,469.7L628.8,476.7M633.2,346.3L640.1,395.4M640.1,395.4L645.8,436.4M645.8,436.4L649.0,459.1M649.2,408.9L655.0,450.6" stroke="#a9d2ec" stroke-width="1.8"/>
<path d="M492.0,343.0L533.0,337.2M592.6,328.8L614.6,325.7M549.1,343.1L593.7,336.8M593.7,336.8L631.1,331.6M631.1,331.6L638.1,330.6M587.0,344.6L624.1,339.4M624.1,339.4L639.1,337.3M495.2,365.7L529.1,361.0M552.8,369.1L583.1,364.9M634.8,357.6L641.8,356.6M543.1,409.1L573.2,404.8M573.2,404.8L595.0,401.8M504.1,429.3L525.9,426.2M554.1,429.9L576.2,426.8M586.1,444.7L637.9,437.5M580.0,453.5L617.5,448.2M619.7,463.2L641.1,460.2M513.1,492.9L534.9,489.9M511.7,428.2L517.6,469.9M519.9,434.7L526.8,483.9M532.8,475.4L534.9,489.9M554.1,429.9L558.9,464.1M548.0,335.1L552.8,369.1M596.3,458.8L599.4,480.8M607.7,326.7L614.6,376.1M614.6,376.1L622.6,432.6M629.5,431.6L632.6,453.7M622.0,324.7L627.9,366.4M631.0,388.4L634.2,411.0M641.1,460.2L643.1,474.7" stroke="#3a8ccd" stroke-width="1.8"/>
</g>
<clipPath id="rc25"><polygon points="612.0,345.0 668.0,345.0 672.0,472.0 612.0,472.0"/></clipPath>
<g clip-path="url(#rc25)" fill="none">
<path d="M565.5,333.1L604.3,333.1M630.5,333.1L662.6,333.1M662.6,333.1L686.3,333.1M686.3,333.1L712.0,333.1M565.5,339.6L591.7,339.6M591.7,339.6L636.9,339.6M636.9,339.6L656.5,339.6M656.5,339.6L699.0,339.6M565.5,346.1L584.7,346.1M584.7,346.1L604.3,346.1M624.2,346.1L669.1,346.1M669.1,346.1L712.0,346.1M636.9,352.1L656.5,352.1M656.5,352.1L693.0,352.1M693.0,352.1L712.0,352.1M565.5,359.0L584.7,359.0M604.3,359.0L624.2,359.0M656.5,359.0L699.0,359.0M699.0,359.0L712.0,359.0M584.7,365.2L630.5,365.2M630.5,365.2L656.5,365.2M656.5,365.2L675.6,365.2M675.6,365.2L699.0,365.2M565.5,375.7L597.8,375.7M597.8,375.7L643.7,375.7M643.7,375.7L669.1,375.7M669.1,375.7L712.0,375.7M565.5,382.0L584.7,382.0M584.7,382.0L624.2,382.0M565.5,388.7L584.7,388.7M584.7,388.7L630.5,388.7M630.5,388.7L656.5,388.7M656.5,388.7L693.0,388.7M565.5,399.0L584.7,399.0M584.7,399.0L617.7,399.0M643.7,399.0L669.1,399.0M669.1,399.0L693.0,399.0M693.0,399.0L712.0,399.0M565.5,405.8L611.1,405.8M611.1,405.8L630.5,405.8M565.5,412.0L611.1,412.0M611.1,412.0L650.0,412.0M650.0,412.0L686.3,412.0M686.3,412.0L705.6,412.0M565.5,418.3L611.1,418.3M611.1,418.3L650.0,418.3M650.0,418.3L699.0,418.3M584.7,424.9L611.1,424.9M611.1,424.9L656.5,424.9M656.5,424.9L675.6,424.9M675.6,424.9L712.0,424.9M604.3,431.3L650.0,431.3M650.0,431.3L699.0,431.3M699.0,431.3L712.0,431.3M565.5,437.9L591.7,437.9M591.7,437.9L636.9,437.9M636.9,437.9L662.6,437.9M662.6,437.9L712.0,437.9M597.8,444.6L630.5,444.6M630.5,444.6L656.5,444.6M565.5,451.3L591.7,451.3M591.7,451.3L636.9,451.3M636.9,451.3L675.6,451.3M675.6,451.3L705.6,451.3M705.6,451.3L712.0,451.3M565.5,457.3L604.3,457.3M650.0,457.3L693.0,457.3M693.0,457.3L712.0,457.3M565.5,464.0L584.7,464.0M584.7,464.0L611.1,464.0M611.1,464.0L650.0,464.0M650.0,464.0L699.0,464.0M565.5,470.5L604.3,470.5M604.3,470.5L624.2,470.5M624.2,470.5L650.0,470.5M650.0,470.5L699.0,470.5M699.0,470.5L712.0,470.5M565.5,477.1L584.7,477.1M584.7,477.1L624.2,477.1M669.1,477.1L705.6,477.1M705.6,477.1L712.0,477.1M604.3,483.7L624.2,483.7M624.2,483.7L669.1,483.7M669.1,483.7L693.0,483.7M693.0,483.7L712.0,483.7M565.5,333.1L565.5,352.1M565.5,352.1L565.5,382.0M565.5,382.0L565.5,412.0M565.5,412.0L565.5,431.3M565.5,431.3L565.5,464.0M565.5,464.0L565.5,483.7M571.5,333.1L571.5,382.0M571.5,382.0L571.5,424.9M571.5,424.9L571.5,470.5M571.5,470.5L571.5,483.7M578.1,333.1L578.1,375.7M578.1,405.8L578.1,444.6M578.1,444.6L578.1,477.1M578.1,477.1L578.1,483.7M584.7,451.3L584.7,483.7M591.7,365.2L591.7,405.8M591.7,405.8L591.7,437.9M591.7,437.9L591.7,457.3M591.7,457.3L591.7,477.1M591.7,477.1L591.7,483.7M597.8,375.7L597.8,405.8M597.8,405.8L597.8,451.3M597.8,470.5L597.8,483.7M604.3,333.1L604.3,375.7M604.3,375.7L604.3,424.9M604.3,424.9L604.3,457.3M604.3,457.3L604.3,483.7M611.1,333.1L611.1,375.7M611.1,405.8L611.1,444.6M611.1,444.6L611.1,477.1M611.1,477.1L611.1,483.7M617.7,365.2L617.7,388.7M617.7,388.7L617.7,437.9M617.7,437.9L617.7,457.3M617.7,457.3L617.7,483.7M624.2,333.1L624.2,382.0M624.2,382.0L624.2,405.8M624.2,457.3L624.2,477.1M624.2,477.1L624.2,483.7M630.5,333.1L630.5,359.0M630.5,359.0L630.5,388.7M630.5,457.3L630.5,483.7M636.9,333.1L636.9,352.1M636.9,352.1L636.9,405.8M636.9,405.8L636.9,437.9M643.7,333.1L643.7,365.2M643.7,365.2L643.7,412.0M643.7,412.0L643.7,437.9M643.7,437.9L643.7,464.0M643.7,464.0L643.7,483.7M650.0,333.1L650.0,375.7M650.0,375.7L650.0,412.0M650.0,412.0L650.0,437.9M656.5,333.1L656.5,375.7M656.5,375.7L656.5,424.9M656.5,424.9L656.5,464.0M662.6,382.0L662.6,431.3M662.6,431.3L662.6,470.5M662.6,470.5L662.6,483.7M669.1,333.1L669.1,352.1M669.1,352.1L669.1,382.0M669.1,464.0L669.1,483.7M675.6,375.7L675.6,424.9M675.6,424.9L675.6,451.3M686.3,375.7L686.3,418.3M686.3,418.3L686.3,444.6M686.3,444.6L686.3,470.5M686.3,470.5L686.3,483.7M693.0,333.1L693.0,365.2M693.0,365.2L693.0,399.0M693.0,399.0L693.0,437.9M693.0,437.9L693.0,457.3M699.0,333.1L699.0,382.0M699.0,382.0L699.0,412.0M699.0,412.0L699.0,444.6M699.0,444.6L699.0,483.7M705.6,333.1L705.6,382.0M705.6,382.0L705.6,405.8M705.6,405.8L705.6,444.6M705.6,444.6L705.6,483.7M712.0,333.1L712.0,352.1M712.0,352.1L712.0,382.0M712.0,382.0L712.0,424.9M712.0,424.9L712.0,457.3M712.0,457.3L712.0,483.7" stroke="#d8a8a0" stroke-width="1.5"/>
<path d="M624.2,359.0L656.5,359.0M624.2,382.0L669.1,382.0M669.1,382.0L712.0,382.0M617.7,399.0L643.7,399.0M705.6,412.0L712.0,412.0M699.0,418.3L712.0,418.3M565.5,431.3L584.7,431.3M565.5,444.6L597.8,444.6M699.0,444.6L712.0,444.6M604.3,457.3L650.0,457.3M624.2,477.1L669.1,477.1M578.1,375.7L578.1,405.8M584.7,412.0L584.7,451.3M591.7,333.1L591.7,365.2M597.8,451.3L597.8,470.5M617.7,333.1L617.7,365.2M630.5,388.7L630.5,412.0M630.5,412.0L630.5,457.3M656.5,464.0L656.5,483.7M675.6,333.1L675.6,375.7M675.6,451.3L675.6,483.7M686.3,333.1L686.3,375.7" stroke="#a9d2ec" stroke-width="1.8"/>
</g>
<clipPath id="rc26"><polygon points="672.0,405.0 745.0,405.0 757.0,388.0 756.0,410.0 759.0,472.0 672.0,472.0"/></clipPath>
<g clip-path="url(#rc26)" fill="none">
<path d="M650.2,348.0L682.4,348.0M714.8,348.0L728.2,348.0M728.2,348.0L744.8,348.0M761.4,348.0L785.3,348.0M785.3,348.0L802.3,348.0M650.2,354.5L675.5,354.5M675.5,354.5L689.1,354.5M689.1,354.5L714.8,354.5M754.8,354.5L795.2,354.5M795.2,354.5L802.3,354.5M650.2,361.4L675.5,361.4M682.4,367.5L714.8,367.5M737.9,367.5L772.2,367.5M772.2,367.5L802.3,367.5M650.2,374.0L669.1,374.0M669.1,374.0L702.1,374.0M754.8,374.0L772.2,374.0M772.2,374.0L802.3,374.0M714.8,384.7L728.2,384.7M761.4,384.7L802.3,384.7M650.2,391.0L669.1,391.0M669.1,391.0L695.0,391.0M695.0,391.0L708.1,391.0M761.4,391.0L778.4,391.0M778.4,391.0L795.2,391.0M795.2,391.0L802.3,391.0M702.1,397.4L737.9,397.4M795.2,397.4L802.3,397.4M650.2,404.6L662.9,404.6M662.9,404.6L689.1,404.6M708.1,404.6L737.9,404.6M737.9,404.6L778.4,404.6M714.8,410.9L728.2,410.9M744.8,410.9L772.2,410.9M772.2,410.9L785.3,410.9M682.4,417.5L702.1,417.5M702.1,417.5L737.9,417.5M737.9,417.5L772.2,417.5M772.2,417.5L785.3,417.5M785.3,417.5L802.3,417.5M650.2,423.7L675.5,423.7M675.5,423.7L702.1,423.7M702.1,423.7L714.8,423.7M714.8,423.7L744.8,423.7M744.8,423.7L761.4,423.7M778.4,423.7L802.3,423.7M669.1,434.2L689.1,434.2M689.1,434.2L708.1,434.2M708.1,434.2L728.2,434.2M650.2,440.5L682.4,440.5M708.1,440.5L737.9,440.5M761.4,440.5L795.2,440.5M795.2,440.5L802.3,440.5M650.2,450.9L675.5,450.9M695.0,450.9L728.2,450.9M728.2,450.9L772.2,450.9M772.2,450.9L802.3,450.9M669.1,457.7L689.1,457.7M795.2,457.7L802.3,457.7M650.2,463.9L682.4,463.9M682.4,463.9L695.0,463.9M795.2,463.9L802.3,463.9M650.2,470.5L675.5,470.5M675.5,470.5L702.1,470.5M702.1,470.5L714.8,470.5M714.8,470.5L737.9,470.5M737.9,470.5L772.2,470.5M772.2,470.5L785.3,470.5M785.3,470.5L802.3,470.5M650.2,477.1L675.5,477.1M702.1,477.1L714.8,477.1M754.8,477.1L785.3,477.1M650.2,487.5L662.9,487.5M689.1,487.5L708.1,487.5M708.1,487.5L737.9,487.5M761.4,487.5L802.3,487.5M669.1,493.8L682.4,493.8M682.4,493.8L695.0,493.8M695.0,493.8L714.8,493.8M714.8,493.8L744.8,493.8M650.2,500.6L675.5,500.6M675.5,500.6L695.0,500.6M695.0,500.6L721.0,500.6M650.2,348.0L650.2,367.5M650.2,367.5L650.2,391.0M650.2,477.1L650.2,493.8M656.5,391.0L656.5,423.7M656.5,423.7L656.5,440.5M656.5,440.5L656.5,457.7M662.9,348.0L662.9,384.7M662.9,417.5L662.9,434.2M662.9,470.5L662.9,500.6M669.1,348.0L669.1,367.5M669.1,384.7L669.1,417.5M669.1,434.2L669.1,457.7M669.1,457.7L669.1,493.8M675.5,348.0L675.5,374.0M675.5,374.0L675.5,391.0M675.5,391.0L675.5,423.7M675.5,423.7L675.5,440.5M675.5,440.5L675.5,463.9M675.5,477.1L675.5,500.6M682.4,348.0L682.4,367.5M682.4,367.5L682.4,391.0M682.4,470.5L682.4,500.6M689.1,391.0L689.1,404.6M689.1,404.6L689.1,434.2M689.1,434.2L689.1,463.9M695.0,348.0L695.0,367.5M695.0,367.5L695.0,404.6M695.0,404.6L695.0,417.5M695.0,417.5L695.0,434.2M695.0,434.2L695.0,457.7M695.0,457.7L695.0,477.1M695.0,477.1L695.0,500.6M702.1,348.0L702.1,374.0M702.1,434.2L702.1,463.9M702.1,463.9L702.1,493.8M702.1,493.8L702.1,500.6M708.1,348.0L708.1,374.0M708.1,397.4L708.1,423.7M714.8,410.9L714.8,450.9M714.8,450.9L714.8,477.1M714.8,477.1L714.8,500.6M721.0,348.0L721.0,361.4M721.0,384.7L721.0,404.6M721.0,477.1L721.0,493.8M721.0,493.8L721.0,500.6M728.2,450.9L728.2,487.5M737.9,348.0L737.9,384.7M737.9,384.7L737.9,404.6M737.9,404.6L737.9,440.5M737.9,440.5L737.9,457.7M737.9,457.7L737.9,477.1M737.9,477.1L737.9,500.6M744.8,348.0L744.8,374.0M744.8,404.6L744.8,423.7M744.8,487.5L744.8,500.6M754.8,348.0L754.8,374.0M754.8,374.0L754.8,404.6M754.8,470.5L754.8,500.6M761.4,348.0L761.4,374.0M761.4,374.0L761.4,410.9M761.4,450.9L761.4,477.1M761.4,477.1L761.4,500.6M772.2,374.0L772.2,410.9M772.2,470.5L772.2,487.5M772.2,487.5L772.2,500.6M778.4,348.0L778.4,361.4M778.4,361.4L778.4,397.4M778.4,397.4L778.4,410.9M778.4,410.9L778.4,440.5M785.3,348.0L785.3,367.5M785.3,367.5L785.3,397.4M785.3,397.4L785.3,410.9M785.3,463.9L785.3,487.5M785.3,487.5L785.3,500.6M795.2,348.0L795.2,374.0M795.2,410.9L795.2,440.5M795.2,440.5L795.2,463.9M795.2,463.9L795.2,487.5M795.2,487.5L795.2,500.6M802.3,348.0L802.3,367.5M802.3,367.5L802.3,391.0M802.3,391.0L802.3,417.5M802.3,417.5L802.3,457.7M802.3,457.7L802.3,477.1M802.3,477.1L802.3,500.6" stroke="#d8a8a0" stroke-width="1.5"/>
<path d="M650.2,384.7L682.4,384.7M778.4,404.6L802.3,404.6M761.4,423.7L778.4,423.7M708.1,457.7L728.2,457.7M695.0,463.9L728.2,463.9M785.3,477.1L802.3,477.1M761.4,500.6L802.3,500.6M662.9,384.7L662.9,417.5M682.4,434.2L682.4,470.5M714.8,348.0L714.8,374.0M721.0,361.4L721.0,384.7M744.8,423.7L744.8,457.7M754.8,434.2L754.8,470.5" stroke="#a9d2ec" stroke-width="1.8"/>
<path d="M744.8,348.0L761.4,348.0M778.4,361.4L802.3,361.4M721.0,391.0L761.4,391.0M689.1,404.6L708.1,404.6M785.3,410.9L802.3,410.9M650.2,417.5L682.4,417.5M650.2,457.7L669.1,457.7M754.8,457.7L795.2,457.7M662.9,487.5L675.5,487.5M656.5,457.7L656.5,477.1M669.1,493.8L669.1,500.6M708.1,423.7L708.1,440.5M721.0,404.6L721.0,440.5M772.2,348.0L772.2,374.0M772.2,450.9L772.2,470.5M778.4,470.5L778.4,500.6M785.3,410.9L785.3,450.9" stroke="#3a8ccd" stroke-width="1.8"/>
</g>
<clipPath id="rc27"><polygon points="757.0,345.0 790.0,335.0 812.0,340.0 838.0,357.0 839.0,383.0 772.0,388.0 757.0,387.0"/></clipPath>
<g clip-path="url(#rc27)" fill="none">
<path d="M772.6,290.0L793.5,301.1M768.2,298.3L780.6,305.0M785.1,336.4L826.3,358.3M746.4,339.3L758.8,345.9M767.3,350.4L803.7,369.7M803.7,369.7L816.6,376.6M783.4,370.3L790.6,374.1M799.0,378.6L832.5,396.4M737.1,356.8L749.5,363.4M732.5,365.4L774.2,387.6M810.0,406.6L823.3,413.7M775.3,354.7L756.8,389.6M756.8,389.6L751.8,399.0M790.6,374.1L771.7,409.6M802.7,402.7L798.0,411.5M810.0,406.6L800.3,424.8" stroke="#a9d2ec" stroke-width="1.8"/>
<path d="M814.3,312.1L829.9,320.4M829.9,320.4L850.2,331.2M850.2,331.2L863.4,338.2M780.6,305.0L789.1,309.5M792.7,322.1L821.0,337.2M821.0,337.2L833.9,344.0M833.9,344.0L854.5,355.0M756.1,321.0L785.1,336.4M772.0,341.6L808.3,361.0M816.6,376.6L837.2,387.5M790.6,374.1L799.0,378.6M786.0,382.8L814.6,398.0M774.2,387.6L810.0,406.6M727.8,374.2L769.5,396.4M769.5,396.4L776.8,400.2M805.4,415.4L818.6,422.5M722.8,383.6L735.2,390.2M735.2,390.2L751.8,399.0M751.1,330.5L737.1,356.8M785.0,296.6L776.1,313.3M776.1,313.3L763.5,337.1M763.5,337.1L744.9,372.0M793.5,301.1L777.1,332.1M777.1,332.1L758.0,367.9M758.0,367.9L743.7,394.7M814.3,312.1L792.8,352.7M821.6,316.0L817.1,324.4M795.3,365.3L790.6,374.1M808.3,361.0L794.4,387.2M838.3,335.7L826.3,358.3M821.2,367.8L802.7,402.7M845.7,339.6L828.6,371.7M828.6,371.7L819.2,389.3M846.9,369.2L827.9,405.0M823.3,413.7L813.6,431.9" stroke="#3a8ccd" stroke-width="1.8"/>
<path d="M763.7,306.7L792.7,322.1M741.7,348.1L783.4,370.3M819.2,389.3L810.0,406.6" stroke="#0e5496" stroke-width="1.9"/>
</g>
<path d="M366.0,186.0L395.0,205.0L430.0,228.0L470.0,240.0L520.0,244.0L538.0,250.0" fill="none" stroke="#d8a8a0" stroke-width="2.2" />
<path d="M372.0,184.0L400.0,200.0L440.0,226.0L480.0,237.0" fill="none" stroke="#d8a8a0" stroke-width="1.3" />
<path d="M478.0,117.0L490.0,140.0L505.0,160.0L525.0,180.0L548.0,205.0L562.0,235.0L566.0,255.0" fill="none" stroke="#d8a8a0" stroke-width="2.4" />
<path d="M789.0,232.0L840.0,226.0L872.0,220.0L884.0,235.0L886.0,247.0" fill="none" stroke="#d8a8a0" stroke-width="2.6" />
<path d="M612.0,345.0L610.0,380.0L614.0,420.0L612.0,472.0" fill="none" stroke="#c9aaa4" stroke-width="2.2" />
<path d="M330.0,297.0L348.0,297.0L350.0,303.0L355.0,317.0L357.0,328.0L384.0,328.0" fill="none" stroke="#c4a8a3" stroke-width="2" />
<path d="M330.0,297.0L331.0,329.0L353.0,331.0L400.0,326.0" fill="none" stroke="#c4a8a3" stroke-width="2" />
<path d="M463.8,196.9L418.1,242.6L423.8,251.1L435.2,268.3" fill="none" stroke="#a9d2ec" stroke-width="1.7" />
<path d="M435.2,265.4L486.6,259.7L538.0,251.1" fill="none" stroke="#a9d2ec" stroke-width="1.7" />
<path d="M486.6,242.6L512.3,239.7L549.4,248.3" fill="none" stroke="#a9d2ec" stroke-width="1.7" />
<path d="M449.5,299.6L463.8,305.4L480.9,305.4L549.4,305.4" fill="none" stroke="#a9d2ec" stroke-width="1.7" />
<path d="M538.0,251.0L538.0,288.0L549.0,305.0" fill="none" stroke="#a9d2ec" stroke-width="1.7" />
<path d="M405.0,380.0L420.0,372.0L440.0,380.0L452.0,400.0" fill="none" stroke="#a9d2ec" stroke-width="1.6" />
<path d="M380.0,415.0L408.0,392.0L420.0,372.0" fill="none" stroke="#a9d2ec" stroke-width="1.6" />
<path d="M545.0,340.0L548.0,380.0L546.0,420.0L540.0,472.0" fill="none" stroke="#a9d2ec" stroke-width="1.7" />
<path d="M780.6,305.0L840.4,294.3" fill="none" stroke="#a9d2ec" stroke-width="2.2" />
<path d="M780.6,324.2L804.0,327.4L836.0,323.0L889.5,332.7" fill="none" stroke="#a9d2ec" stroke-width="2.2" />
<path d="M780.6,305.0L780.6,324.2L785.0,332.7" fill="none" stroke="#0e5496" stroke-width="1.8" />
<path d="M833.0,327.4L836.0,347.7L837.0,354.0" fill="none" stroke="#0e5496" stroke-width="1.8" />
<path d="M837.2,353.0L885.0,352.0" fill="none" stroke="#3a8ccd" stroke-width="1.9" />
<path d="M410.0,340.0L440.0,336.0L470.0,326.0" fill="none" stroke="#a9d2ec" stroke-width="1.7" />
<path d="M497.0,150.0L488.0,166.0L480.0,178.0L470.0,195.0" fill="none" stroke="#3a8ccd" stroke-width="1.7" />
<path d="M492.0,153.0L497.0,150.0L500.0,157.0" fill="none" stroke="#3a8ccd" stroke-width="1.7" />
<path d="M400.0,332.0L404.0,360.0L406.0,388.0L470.0,388.0L520.0,386.0" fill="none" stroke="#3a8ccd" stroke-width="1.8" />
<path d="M571.0,340.0L556.0,356.0L540.0,372.0L514.0,374.0" fill="none" stroke="#3a8ccd" stroke-width="1.8" />
<path d="M557.7,384.0L583.7,390.0L597.7,431.8" fill="none" stroke="#3a8ccd" stroke-width="1.8" />
<path d="M579.7,342.0L559.7,386.0L539.8,415.8L537.8,471.8" fill="none" stroke="#3a8ccd" stroke-width="1.8" />
<path d="M400.0,332.0L404.0,345.0L425.0,352.0L445.0,362.0L455.0,345.0L470.0,326.0" fill="none" stroke="#3a8ccd" stroke-width="1.7" />
<path d="M575.0,345.0L590.0,380.0L604.0,420.0L612.0,450.0" fill="none" stroke="#3a8ccd" stroke-width="1.7" />
<path d="M640.0,345.0L655.0,365.0L670.0,395.0L674.0,420.0L690.0,445.0L700.0,462.0" fill="none" stroke="#3a8ccd" stroke-width="1.7" />
<path d="M674.0,305.0L674.0,472.0" fill="none" stroke="#3a8ccd" stroke-width="1.7" />
<path d="M708.6,305.0L708.6,400.0L712.0,472.0" fill="none" stroke="#3a8ccd" stroke-width="1.7" />
<path d="M545.0,236.0L585.0,256.0L600.0,262.0" fill="none" stroke="#3a8ccd" stroke-width="1.8" />
<path d="M640.2,137.5L641.0,197.0" fill="none" stroke="#3a8ccd" stroke-width="1.9" />
<path d="M572.5,179.7L607.0,198.0L641.7,197.0" fill="none" stroke="#1f6fb5" stroke-width="1.9" />
<path d="M481.6,171.0L540.0,210.0L563.8,229.5" fill="none" stroke="#a9d2ec" stroke-width="1.8" />
<path d="M477.0,225.0L486.0,229.0L486.0,235.0L477.0,234.0L477.0,225.0" fill="none" stroke="#3a8ccd" stroke-width="1.7" />
<path d="M486.0,234.9L514.0,237.0L561.7,212.2" fill="none" stroke="#3a8ccd" stroke-width="1.8" />
<path d="M618.0,160.0L704.0,160.0" fill="none" stroke="#3a8ccd" stroke-width="1.7" />
<path d="M667.0,206.0L702.0,182.8L737.0,159.5" fill="none" stroke="#3a8ccd" stroke-width="1.8" />
<path d="M600.0,302.0L675.7,302.0L675.7,330.0" fill="none" stroke="#3a8ccd" stroke-width="1.8" />
<path d="M584.0,268.4L600.0,268.7L672.8,268.7L716.5,249.8L780.5,229.4" fill="none" stroke="#0e5496" stroke-width="1.9" />
<path d="M600.0,272.5L675.7,271.6L722.3,252.7L789.3,232.3" fill="none" stroke="#0e5496" stroke-width="1.7" />
<path d="M709.2,287.6L739.8,273.1L803.8,255.6L850.4,246.9L886.8,246.9" fill="none" stroke="#0e5496" stroke-width="2" />
<path d="M611.6,277.4L709.2,288.2L736.9,290.5L789.3,292.0" fill="none" stroke="#0e5496" stroke-width="1.9" />
<path d="M704.5,142.0L704.5,200.0L705.0,262.0L707.0,300.0" fill="none" stroke="#0e5496" stroke-width="1.8" />
<path d="M744.0,117.0L744.0,180.0L745.0,226.5" fill="none" stroke="#0e5496" stroke-width="1.8" />
<path d="M736.9,249.8L736.9,310.9" fill="none" stroke="#0e5496" stroke-width="1.8" />
<path d="M789.3,226.5L789.3,302.2" fill="none" stroke="#0e5496" stroke-width="1.8" />
<path d="M850.4,246.9L850.4,271.6L854.8,273.0" fill="none" stroke="#0e5496" stroke-width="1.8" />
<path d="M641.7,197.0L654.7,229.5L655.8,266.0" fill="none" stroke="#0e5496" stroke-width="1.9" />
<path d="M614.7,277.0L614.7,330.0" fill="none" stroke="#0e5496" stroke-width="1.8" />
<path d="M611.0,283.0L605.8,283.0L605.8,289.0L611.0,289.0" fill="none" stroke="#0e5496" stroke-width="1.5" />
<path d="M537.4,344.8L564.9,324.8L674.7,324.8" fill="none" stroke="#0e5496" stroke-width="1.8" />
<path d="M440.0,290.0L452.0,302.0L468.0,322.0L476.0,335.0" fill="none" stroke="#0e5496" stroke-width="1.7" />
<path d="M761,366C762,348 776,334 802,333C806,350 800,368 784,374C774,377 766,374 761,366" fill="none" stroke="#0e5496" stroke-width="1.800"/>
<path d="M804.0,358.0L836.0,347.7" fill="none" stroke="#0e5496" stroke-width="1.8" />
<path d="M772.0,372.0L790.0,380.0L800.0,388.0" fill="none" stroke="#3a8ccd" stroke-width="1.7" />
<path d="M628.0,428.0L640.0,426.0L650.0,440.0L660.0,462.0L650.0,470.0L640.0,460.0L634.0,445.0L628.0,428.0" fill="none" stroke="#0e5496" stroke-width="1.8" />
<path d="M628.0,428.0L628.0,455.0L640.0,460.0" fill="none" stroke="#0e5496" stroke-width="1.7" />
<path d="M640.0,426.0L660.0,430.0L690.0,445.0" fill="none" stroke="#3a8ccd" stroke-width="1.6" />
<path d="M439.5,117.0L349.0,194.0L350.0,215.0L352.0,250.0L375.0,290.0L383.0,305.0L392.0,322.0L400.0,328.0L402.7,358.0L405.6,366.6L407.0,390.0L369.2,395.7L369.2,423.4L363.4,424.8L363.4,417.6L353.2,417.6L351.7,421.9L345.9,421.9L344.4,427.7L334.3,428.3L332.8,436.5L333.0,454.0L377.9,454.0L379.4,432.1L414.3,432.1L418.7,436.5L428.9,443.8L437.6,448.1L439.1,456.9L449.3,471.4L452.0,476.0" fill="none" stroke="#7d7d7d" stroke-width="2.2" stroke-linejoin="round"/>
<path d="M688.8,117.0L688.8,133.3L736.9,131.8L736.9,117.0" fill="none" stroke="#7d7d7d" stroke-width="2" />
<path d="M800.9,117.0L807.3,127.5L807.3,146.4L822.8,150.8L824.2,158.0L833.0,162.4L850.4,171.2L873.7,206.1L881.0,225.0L886.8,246.9L886.8,252.7L856.3,246.9L850.4,249.8L854.8,270.2L841.7,287.6L862.1,296.4L879.6,310.9L888.3,330.1L891.2,334.6L904.3,343.3L913.0,334.6L923.2,333.1L924.7,363.7L917.4,360.8L902.9,360.8L902.9,365.1L888.3,366.6L882.5,357.9L838.8,356.4L838.8,382.6L771.8,388.4L771.8,407.4L755.8,410.3L758.7,476.0" fill="none" stroke="#7d7d7d" stroke-width="2.2" stroke-linejoin="round"/>
<path d="M545.0,300.0L552.0,308.0L558.0,318.0L560.0,330.0" fill="none" stroke="#999" stroke-width="1.8" />
<path d="M850.4,168.0L873.7,206.1" fill="none" stroke="#3a8ccd" stroke-width="2.4" />
<path d="M873.7,206.1L881.0,225.0L886.8,246.9" fill="none" stroke="#cfa49c" stroke-width="2.6" />
<text x="467.2" y="194" text-anchor="middle" font-family="Liberation Sans, sans-serif" font-weight="700" font-size="17.500" fill="#8a8a8a" stroke="#fff" stroke-width="2.600" paint-order="stroke" stroke-linejoin="round">8</text>
<text x="603" y="171.5" text-anchor="middle" font-family="Liberation Sans, sans-serif" font-weight="700" font-size="17.500" fill="#8a8a8a" stroke="#fff" stroke-width="2.600" paint-order="stroke" stroke-linejoin="round">7</text>
<text x="773.3" y="190.5" text-anchor="middle" font-family="Liberation Sans, sans-serif" font-weight="700" font-size="17.500" fill="#8a8a8a" stroke="#fff" stroke-width="2.600" paint-order="stroke" stroke-linejoin="round">6</text>
<text x="447.5" y="305.8" text-anchor="middle" font-family="Liberation Sans, sans-serif" font-weight="700" font-size="17.500" fill="#8a8a8a" stroke="#fff" stroke-width="2.600" paint-order="stroke" stroke-linejoin="round">2</text>
<text x="575" y="297.3" text-anchor="middle" font-family="Liberation Sans, sans-serif" font-weight="700" font-size="17.500" fill="#8a8a8a" stroke="#fff" stroke-width="2.600" paint-order="stroke" stroke-linejoin="round">1</text>
<text x="766.6" y="330.8" text-anchor="middle" font-family="Liberation Sans, sans-serif" font-weight="700" font-size="17.500" fill="#8a8a8a" stroke="#fff" stroke-width="2.600" paint-order="stroke" stroke-linejoin="round">5</text>
<text x="524.4" y="442" text-anchor="middle" font-family="Liberation Sans, sans-serif" font-weight="700" font-size="17.500" fill="#8a8a8a" stroke="#fff" stroke-width="2.600" paint-order="stroke" stroke-linejoin="round">3</text>
<text x="621" y="348" text-anchor="middle" font-family="Liberation Sans, sans-serif" font-weight="700" font-size="17.500" fill="#8a8a8a" stroke="#fff" stroke-width="2.600" paint-order="stroke" stroke-linejoin="round">7</text><g transform="translate(578.8,128.4)"><circle r="6.800" fill="#0b5fa8"/><g transform="scale(1)" fill="none" stroke="#fff" stroke-width="1.100"><path d="M-3,-4h6v8h-6zM-1.500,-2h3M-1.500,0h3M-1.500,2h1.500"/></g></g><g transform="translate(774.7,246.9)"><circle cx="1.38" cy="1.67" r="7.80" fill="#000" opacity=".5" filter="url(#blur1)"/><circle r="8.00" fill="#f4f7fa" opacity=".85"/><circle r="7.5" fill="#0c70b6"/><path d="M3,-5.600L-5.600,0L3,5.600L-1.100,0Z" transform="rotate(90) scale(0.728)" fill="#fff"/></g><g transform="translate(691.7,134.8)"><circle cx="1.38" cy="1.67" r="7.80" fill="#000" opacity=".5" filter="url(#blur1)"/><circle r="8.00" fill="#f4f7fa" opacity=".85"/><circle r="7.5" fill="#0c70b6"/><path d="M3,-5.600L-5.600,0L3,5.600L-1.100,0Z" transform="rotate(0) scale(0.728)" fill="#fff"/></g><g transform="translate(701.9,140)"><circle cx="1.38" cy="1.67" r="7.80" fill="#000" opacity=".5" filter="url(#blur1)"/><circle r="8.00" fill="#f4f7fa" opacity=".85"/><circle r="7.5" fill="#0c70b6"/><path d="M3,-5.600L-5.600,0L3,5.600L-1.100,0Z" transform="rotate(90) scale(0.728)" fill="#fff"/></g><g transform="translate(786.4,161)"><circle cx="1.38" cy="1.67" r="7.80" fill="#000" opacity=".5" filter="url(#blur1)"/><circle r="8.00" fill="#f4f7fa" opacity=".85"/><circle r="7.5" fill="#0c70b6"/><path d="M3,-5.600L-5.600,0L3,5.600L-1.100,0Z" transform="rotate(90) scale(0.728)" fill="#fff"/></g><g transform="translate(642.2,189.2)"><circle cx="1.38" cy="1.67" r="7.80" fill="#000" opacity=".5" filter="url(#blur1)"/><circle r="8.00" fill="#f4f7fa" opacity=".85"/><circle r="7.5" fill="#0c70b6"/><path d="M3,-5.600L-5.600,0L3,5.600L-1.100,0Z" transform="rotate(90) scale(0.728)" fill="#fff"/></g><g transform="translate(785.5,202.6)"><circle r="6.300" fill="#0a3f86"/><g transform="scale(0.95)" fill="none" stroke="#fff" stroke-width="1.100"><path d="M-3,-4h6v8h-6zM-1.500,-2h3M-1.500,0h3M-1.500,2h1.500"/></g></g><g transform="translate(756.4,245.4)"><circle cx="1.38" cy="1.67" r="7.80" fill="#000" opacity=".5" filter="url(#blur1)"/><circle r="8.00" fill="#f4f7fa" opacity=".85"/><circle r="7.5" fill="#0c70b6"/><path d="M3,-5.600L-5.600,0L3,5.600L-1.100,0Z" transform="rotate(90) scale(0.728)" fill="#fff"/></g><g transform="translate(769.8,242.5)"><circle cx="1.38" cy="1.67" r="7.80" fill="#000" opacity=".5" filter="url(#blur1)"/><circle r="8.00" fill="#f4f7fa" opacity=".85"/><circle r="7.5" fill="#0c70b6"/><path d="M3,-5.600L-5.600,0L3,5.600L-1.100,0Z" transform="rotate(90) scale(0.728)" fill="#fff"/></g><g transform="translate(750.8,265.2)"><circle cx="1.38" cy="1.67" r="7.80" fill="#000" opacity=".5" filter="url(#blur1)"/><circle r="8.00" fill="#f4f7fa" opacity=".85"/><circle r="7.5" fill="#0c70b6"/><path d="M3,-5.600L-5.600,0L3,5.600L-1.100,0Z" transform="rotate(-16) scale(0.728)" fill="#fff"/></g><g transform="translate(763.7,277.4)"><circle r="7.500" fill="#e3a42a"/><g transform="scale(1.05)" fill="none" stroke="#fff" stroke-width="1.100"><path d="M-3,-4h6v8h-6zM-1.500,-2h3M-1.500,0h3M-1.500,2h1.500"/></g></g><g transform="translate(709.2,288.2)"><circle cx="1.38" cy="1.67" r="7.80" fill="#000" opacity=".5" filter="url(#blur1)"/><circle r="8.00" fill="#f4f7fa" opacity=".85"/><circle r="7.5" fill="#0c70b6"/><path d="M3,-5.600L-5.600,0L3,5.600L-1.100,0Z" transform="rotate(90) scale(0.728)" fill="#fff"/></g><g transform="translate(780,290.500)"><circle r="7" fill="#e3a42a"/></g><g transform="translate(785.8,290.5)"><circle cx="1.38" cy="1.67" r="7.80" fill="#000" opacity=".5" filter="url(#blur1)"/><circle r="8.00" fill="#f4f7fa" opacity=".85"/><circle r="7.5" fill="#0c70b6"/><path d="M3,-5.600L-5.600,0L3,5.600L-1.100,0Z" transform="rotate(180) scale(0.728)" fill="#fff"/></g><g transform="translate(587.9,256)"><circle cx="1.38" cy="1.67" r="7.80" fill="#000" opacity=".5" filter="url(#blur1)"/><circle r="8.00" fill="#f4f7fa" opacity=".85"/><circle r="7.5" fill="#0c70b6"/><path d="M3,-5.600L-5.600,0L3,5.600L-1.100,0Z" transform="rotate(62) scale(0.728)" fill="#fff"/></g><g transform="translate(398.1,316.8)"><circle cx="1.38" cy="1.67" r="7.80" fill="#000" opacity=".5" filter="url(#blur1)"/><circle r="8.00" fill="#f4f7fa" opacity=".85"/><circle r="7.5" fill="#0c70b6"/><path d="M3,-5.600L-5.600,0L3,5.600L-1.100,0Z" transform="rotate(90) scale(0.728)" fill="#fff"/></g><g transform="translate(571,339.8)"><circle cx="1.38" cy="1.67" r="7.80" fill="#000" opacity=".5" filter="url(#blur1)"/><circle r="8.00" fill="#f4f7fa" opacity=".85"/><circle r="7.5" fill="#0c70b6"/><path d="M3,-5.600L-5.600,0L3,5.600L-1.100,0Z" transform="rotate(180) scale(0.728)" fill="#fff"/></g><g transform="translate(801.8,344.8)"><circle r="7.200" fill="#6f6f6f"/><g transform="scale(1.05)" fill="none" stroke="#fff" stroke-width="1.100"><path d="M-3,-4h6v8h-6zM-1.500,-2h3M-1.500,0h3M-1.500,2h1.500"/></g></g><g transform="translate(640.8,473.5)"><circle cx="1.38" cy="1.67" r="7.80" fill="#000" opacity=".5" filter="url(#blur1)"/><circle r="8.00" fill="#f4f7fa" opacity=".85"/><circle r="7.5" fill="#0c70b6"/><path d="M3,-5.600L-5.600,0L3,5.600L-1.100,0Z" transform="rotate(90) scale(0.728)" fill="#fff"/></g></svg>
<div class="" style="position:absolute;left:912.1px;top:130px;width:25.100000000000023px;height:24px;background:#fefefd;border-radius:4px;box-shadow:0 1px 4px rgba(0,0,0,.18);"></div>
<svg style="left:918.700px;top:136px" width="12" height="12" viewBox="0 0 12 12"><path d="M2.700,1.800L6,5L9.300,1.800M2.700,6.600L6,9.800L9.300,6.600" fill="none" stroke="#777" stroke-width="1"/></svg>
<div class="" style="position:absolute;left:912.2px;top:435.9px;width:25.0px;height:25.30000000000001px;background:#fefefd;box-shadow:0 1px 3px rgba(0,0,0,.15);"></div>
<svg style="left:918.700px;top:442.500px" width="12" height="12" viewBox="-6 -6 12 12"><circle r="3.300" fill="none" stroke="#666" stroke-width=".9"/><path d="M0,-5.500V-2.600M0,5.500V2.600M-5.500,0H-2.600M5.500,0H2.600" stroke="#666" stroke-width=".9"/></svg>
<div class="" style="position:absolute;left:276.8px;top:440px;width:85.19999999999999px;height:20.80000000000001px;background:rgba(255,255,255,.9);"></div>
<div class="" style="position:absolute;left:276.8px;top:439.8px;width:21.30000000000001px;height:2.1999999999999886px;background:#222;"></div>
<div class="" style="position:absolute;left:298.1px;top:439.8px;width:21.30000000000001px;height:2.1999999999999886px;background:#fff;"></div>
<div class="" style="position:absolute;left:298.1px;top:442px;width:21.30000000000001px;height:1.8000000000000114px;background:#222;"></div>
<div class="" style="position:absolute;left:319.4px;top:439.8px;width:21.30000000000001px;height:2.1999999999999886px;background:#222;"></div>
<div class="" style="position:absolute;left:340.7px;top:439.8px;width:21.30000000000001px;height:2.1999999999999886px;background:#fff;"></div>
<div class="" style="position:absolute;left:340.7px;top:442px;width:21.30000000000001px;height:1.8000000000000114px;background:#222;"></div>
<span class="t" style="left:276.90px;top:451.43px;font-size:9.3px;line-height:9.3px;color:#3a3a3a;-webkit-text-stroke:.25px #3a3a3a;">0</span>
<span class="t" style="left:328.40px;top:451.43px;font-size:9.3px;line-height:9.3px;color:#3a3a3a;letter-spacing:0.312px;-webkit-text-stroke:.25px #3a3a3a;">5,000 ft</span>
<span class="t" style="left:268.50px;top:474.28px;font-size:9px;line-height:9px;color:#808080;letter-spacing:0.054px;">Esri, TomTom, Garmin, SafeGraph, GeoTechnologies, Inc, METI/NASA, USGS, EPA, NPS, USDA, USFWS | Esri</span>
<span class="t" style="left:876.30px;top:474.28px;font-size:9px;line-height:9px;color:#808080;letter-spacing:0.248px;">Powered by Esri</span>
<div class="" style="position:absolute;left:302px;top:507px;width:81.89999999999998px;height:3px;background:#dcaea6;"></div>
<span class="t" style="left:302.50px;top:514.27px;font-size:11.5px;line-height:11.5px;color:#444;letter-spacing:-0.113px;">Service pending</span>
<div class="" style="position:absolute;left:406.7px;top:507px;width:132.09999999999997px;height:3px;background:#0c4f8c;"></div>
<span class="t" style="left:407.20px;top:514.27px;font-size:11.5px;line-height:11.5px;color:#444;letter-spacing:-0.194px;">Last serviced within 1 hour</span>
<div class="" style="position:absolute;left:562px;top:507px;width:182.10000000000002px;height:3px;background:#3a8ccd;"></div>
<span class="t" style="left:562.50px;top:514.27px;font-size:11.5px;line-height:11.5px;color:#444;letter-spacing:-0.202px;">Last serviced between 1 and 6 hours</span>
<div class="" style="position:absolute;left:766px;top:507px;width:152px;height:3px;background:#a9d2ec;"></div>
<span class="t" style="left:766.50px;top:514.27px;font-size:11.5px;line-height:11.5px;color:#444;letter-spacing:-0.216px;">Last serviced over 6 hours ago</span>
<div class="card" style="position:absolute;left:956.8px;top:117px;width:223.70000000000005px;height:394.4px;"></div>
<div class="" style="position:absolute;left:965.3px;top:144px;width:209.70000000000005px;height:54.19999999999999px;background:#fefefd;border-left:1.5px solid #2b6ea6;box-sizing:border-box;box-shadow:0 1px 5px rgba(0,0,0,.10);"></div>
<svg style="left:981px;top:161.500px" width="14" height="19" viewBox="0 0 14 19"><g fill="none" stroke="#1c68a8" stroke-width="1.100"><path d="M0.500,0.800h13M0.500,18.200h13"/><path d="M2,1v2.500c0,3 3.800,4.500 3.800,6s-3.800,3 -3.800,6v2.500M12,1v2.500c0,3 -3.800,4.500 -3.800,6s3.800,3 3.800,6v2.500"/></g><path d="M4,5.500h6l-3,3zM7,11.500l3.600,5.500h-7.200z" fill="#1c68a8"/></svg>
<span class="t" style="left:1010.20px;top:152.37px;font-size:10.2px;line-height:10.2px;color:#555;letter-spacing:0.071px;">Active Event: <b style="color:#222;font-weight:400;-webkit-text-stroke:.25px #222">January 12th Storm</b></span>
<span class="t" style="left:1010.20px;top:164.57px;font-size:10.2px;line-height:10.2px;color:#555;letter-spacing:0.006px;">(12.8 hours)</span>
<span class="t" style="left:1010.20px;top:177.57px;font-size:10.2px;line-height:10.2px;color:#555;letter-spacing:-0.050px;">Active Phase: <b style="color:#222;font-weight:400;-webkit-text-stroke:.25px #222">Phase 4</b> (5.4 hours)</span>
<span class="t" style="left:964.00px;top:228.40px;font-size:13px;line-height:13px;color:#333;letter-spacing:-0.233px;">Roadway Serviced</span>
<svg style="left:1160.6px;top:229px" width="14" height="14" viewBox="-7 -7 14 14"><circle r="5.500" fill="none" stroke="#777" stroke-width=".9"/><path d="M0,-1.200V3" stroke="#777" stroke-width="1.100"/><circle cy="-3" r=".75" fill="#777"/></svg>
<svg style="left:1000px;top:260px" width="140" height="120" viewBox="1000 260 140 120"><path d="M1091.91,284.29A50.2,50.2 0 0 1 1111.73,354.65" fill="none" stroke="#e1b9af" stroke-width="15.6"/><path d="M1025.67,354.65A50.2,50.2 0 0 1 1091.91,284.29" fill="none" stroke="#064a7c" stroke-width="15.6"/></svg>
<span class="t" style="left:1047.45px;top:316.68px;font-size:22px;line-height:22px;color:#333;letter-spacing:-0.773px;-webkit-text-stroke:.55px #fefefd;">62%</span>
<svg style="left:975.500px;top:413.500px" width="26" height="25" viewBox="0 0 26 25"><g fill="none" stroke="#0a4b7c"><path d="M2.500,3V22.500H11V5H14.500" stroke-width="1.900"/><path d="M14.500,5H22.500V17" stroke-width="1.900" stroke-dasharray="2 1.700"/></g><circle cx="2.500" cy="2.500" r="1.900" fill="#0a4b7c"/><circle cx="22.500" cy="21" r="1.900" fill="#0a4b7c"/></svg>
<span class="t" style="left:1007.50px;top:409.43px;font-size:38px;line-height:38px;color:#0a4b7c;font-weight:700;letter-spacing:1.000px;">286.8 mi</span>
<span class="t" style="left:990.70px;top:459.29px;font-size:19.5px;line-height:19.5px;color:#ddb2a8;letter-spacing:1.298px;-webkit-text-stroke:.3px #ddb2a8;">179.2 mi remain</span>
<div class="tab on" style="position:absolute;left:970.1px;top:510.2px;width:69.19999999999993px;height:30.69999999999999px;"></div>
<span class="t" style="left:982.95px;top:521.17px;font-size:11.5px;line-height:11.5px;color:#333;letter-spacing:-0.362px;">Progress</span>
<div class="tab" style="position:absolute;left:1046.2px;top:512.4px;width:91.20000000000005px;height:28.200000000000045px;border-top:1px solid #dcdcdc;"></div>
<span class="t" style="left:1059.05px;top:521.17px;font-size:11.5px;line-height:11.5px;color:#333;letter-spacing:-0.189px;">Event Details</span>
<div class="card" style="position:absolute;left:263.7px;top:548.1px;width:224.5px;height:196.39999999999998px;"></div>
<div class="card" style="position:absolute;left:495.3px;top:548.1px;width:223.2px;height:196.39999999999998px;"></div>
<div class="card" style="position:absolute;left:725.8px;top:548.1px;width:224.20000000000005px;height:196.39999999999998px;"></div>
<div class="card" style="position:absolute;left:957.1px;top:548.1px;width:223.4999999999999px;height:196.39999999999998px;"></div>
<span class="t" style="left:271.60px;top:557.70px;font-size:13px;line-height:13px;color:#333;letter-spacing:-0.117px;">Distance Traveled (mi)</span>
<svg style="left:275px;top:615px" width="60" height="63" viewBox="0 0 60 63"><g fill="none" stroke="#505050" stroke-width="1.350" stroke-linejoin="round" stroke-linecap="round"><path d="M9.900,15.300a4,4 0 0 1 4,-4h3.700a4,4 0 0 1 4,4v12.100l-5.900,6.200l-5.800,-6.200z"/><circle cx="15.700" cy="19.600" r="2.100"/><path d="M36.900,28.500a4,4 0 0 1 4,-4h3.700a4,4 0 0 1 4,4v11.700l-5.800,6.200l-5.900,-6.200z"/><circle cx="42.800" cy="32.200" r="2.100"/><path d="M15.400,37.600C21,37.400 25.500,38.300 25.200,40.200C24.800,42.400 13,42.600 10.500,45.200C8.500,47.600 14,48.600 22,49.300C30,50 37,50.200 43.500,50.400"/></g></svg>
<span class="t" style="left:335.80px;top:616.59px;font-size:69px;line-height:69px;color:#343434;font-weight:700;letter-spacing:-0.099px;-webkit-text-stroke:.9px #fefefd;">1.6k</span>
<span class="t" style="left:356.80px;top:726.19px;font-size:11px;line-height:11px;color:#444;letter-spacing:0.081px;">2.6k km</span>
<div class="tab on" style="position:absolute;left:278.7px;top:744.5px;width:53.30000000000001px;height:30.700000000000045px;"></div>
<span class="t" style="left:291.60px;top:753.17px;font-size:11.5px;line-height:11.5px;color:#444;letter-spacing:-0.480px;">Event</span>
<div class="tab" style="position:absolute;left:339.2px;top:745.4px;width:67.19999999999999px;height:29.200000000000045px;border-top:1px solid #dcdcdc;"></div>
<span class="t" style="left:352.30px;top:753.17px;font-size:11.5px;line-height:11.5px;color:#444;letter-spacing:-0.263px;">Vehicles</span>
<span class="t" style="left:502.80px;top:557.70px;font-size:13px;line-height:13px;color:#333;letter-spacing:-0.053px;">Material Solids (tons)</span>
<svg style="left:508px;top:615px" width="60" height="60" viewBox="0 0 60 60"><defs><clipPath id="blob"><path d="M23.0,9.0C25.7,8.1 30.3,8.3 33.4,9.0C36.5,9.7 39.2,10.9 41.8,13.2C44.3,15.5 47.0,19.2 48.7,23.0C50.4,26.8 51.2,32.6 51.8,36.2C52.4,39.8 52.7,42.1 52.2,44.5C51.7,46.9 50.2,49.4 48.7,50.8C47.2,52.2 45.2,52.7 43.1,52.9C41.0,53.1 38.8,52.5 36.2,51.8C33.7,51.1 30.4,49.4 27.8,48.7C25.2,48.0 23.4,48.1 20.9,47.7C18.3,47.4 14.7,47.6 12.5,46.6C10.3,45.6 8.6,43.8 8.0,41.8C7.4,39.8 8.1,37.0 9.0,34.8C9.9,32.6 12.1,30.8 13.2,28.5C14.2,26.2 14.6,23.2 15.3,20.9C16.0,18.6 16.1,16.6 17.4,14.6C18.7,12.6 20.3,9.9 23.0,9.0Z"/></clipPath><pattern id="hatch" width="6.300" height="6.300" patternUnits="userSpaceOnUse" patternTransform="rotate(-46) translate(0,4.300)"><rect width="6.300" height="1.750" fill="#333"/></pattern></defs><rect width="60" height="60" fill="url(#hatch)" clip-path="url(#blob)"/><path d="M23.0,9.0C25.7,8.1 30.3,8.3 33.4,9.0C36.5,9.7 39.2,10.9 41.8,13.2C44.3,15.5 47.0,19.2 48.7,23.0C50.4,26.8 51.2,32.6 51.8,36.2C52.4,39.8 52.7,42.1 52.2,44.5C51.7,46.9 50.2,49.4 48.7,50.8C47.2,52.2 45.2,52.7 43.1,52.9C41.0,53.1 38.8,52.5 36.2,51.8C33.7,51.1 30.4,49.4 27.8,48.7C25.2,48.0 23.4,48.1 20.9,47.7C18.3,47.4 14.7,47.6 12.5,46.6C10.3,45.6 8.6,43.8 8.0,41.8C7.4,39.8 8.1,37.0 9.0,34.8C9.9,32.6 12.1,30.8 13.2,28.5C14.2,26.2 14.6,23.2 15.3,20.9C16.0,18.6 16.1,16.6 17.4,14.6C18.7,12.6 20.3,9.9 23.0,9.0Z" fill="none" stroke="#333" stroke-width="1.600"/></svg>
<span class="t" style="left:578.30px;top:605.81px;font-size:88px;line-height:88px;color:#343434;font-weight:700;letter-spacing:-1.172px;-webkit-text-stroke:1.1px #fefefd;">6.5</span>
<span class="t" style="left:584.30px;top:726.19px;font-size:11px;line-height:11px;color:#444;letter-spacing:0.197px;">4 reports</span>
<div class="tab on" style="position:absolute;left:509.1px;top:744.5px;width:54.10000000000002px;height:30.700000000000045px;"></div>
<span class="t" style="left:522.40px;top:753.17px;font-size:11.5px;line-height:11.5px;color:#444;letter-spacing:-0.480px;">Event</span>
<div class="tab" style="position:absolute;left:570px;top:745.4px;width:67.60000000000002px;height:29.200000000000045px;border-top:1px solid #dcdcdc;"></div>
<span class="t" style="left:583.30px;top:753.17px;font-size:11.5px;line-height:11.5px;color:#444;letter-spacing:-0.263px;">Vehicles</span>
<span class="t" style="left:732.90px;top:557.70px;font-size:13px;line-height:13px;color:#333;letter-spacing:0.058px;">Material Liquids (gal)</span>
<svg style="left:735px;top:620px" width="50" height="55" viewBox="0 0 50 55"><path d="M21.400,10.800C21.400,10.800 11.600,24.500 11.600,33.600a9.700,9.800 0 0 0 19.400,0C31,24.500 21.400,10.800 21.400,10.800Z" fill="none" stroke="#444" stroke-width="1.300" stroke-linejoin="round"/><path d="M15.300,30.600c-.4,4.600 1.800,8 5.500,8.900" fill="none" stroke="#444" stroke-width="1.250" stroke-linecap="round"/></svg>
<span class="t" style="left:782.30px;top:620.50px;font-size:58px;line-height:58px;color:#343434;font-weight:700;letter-spacing:1.086px;-webkit-text-stroke:.7px #fefefd;">725.6</span>
<span class="t" style="left:815.60px;top:726.19px;font-size:11px;line-height:11px;color:#444;letter-spacing:0.197px;">4 reports</span>
<div class="tab on" style="position:absolute;left:740.1px;top:744.5px;width:53.60000000000002px;height:30.700000000000045px;"></div>
<span class="t" style="left:753.15px;top:753.17px;font-size:11.5px;line-height:11.5px;color:#444;letter-spacing:-0.480px;">Event</span>
<div class="tab" style="position:absolute;left:801.2px;top:745.4px;width:66.69999999999993px;height:29.200000000000045px;border-top:1px solid #dcdcdc;"></div>
<span class="t" style="left:814.05px;top:753.17px;font-size:11.5px;line-height:11.5px;color:#444;letter-spacing:-0.263px;">Vehicles</span>
<span class="t" style="left:963.90px;top:557.70px;font-size:13px;line-height:13px;color:#333;letter-spacing:-0.220px;">Open Service Requests</span>
<svg style="left:985px;top:605px" width="80" height="80" viewBox="0 0 80 80"><g fill="none" stroke="#363636" stroke-width="2.700" stroke-linejoin="round"><path d="M40.400,10.700V16.700M14.800,17.200L20,22.300M65.900,17.200L60.800,22.300M8.400,36.700H13.900M66.400,36.700H72.400"/><path d="M32.900,30.400H47.800M40.400,30.400V35.700"/><path d="M14,61.300a1.500,1.500 0 0 1 -1.500,-1.600C13.500,46.500 25.500,35.900 40.500,35.900C55.500,35.900 67.600,46.500 68.600,59.700a1.500,1.500 0 0 1 -1.500,1.600z"/><path d="M40.400,61.300V70.500M11.600,71H69.100"/></g></svg>
<span class="t" style="left:1077.20px;top:592.97px;font-size:121px;line-height:121px;color:#343434;font-weight:700;-webkit-text-stroke:1.4px #fefefd;transform:scaleX(.94);transform-origin:0 0;">5</span>
<span class="t" style="left:1036.30px;top:726.19px;font-size:11px;line-height:11px;color:#444;letter-spacing:-0.118px;">2 In Progress</span>
<div class="tab on" style="position:absolute;left:970.2px;top:744.5px;width:54.399999999999864px;height:30.700000000000045px;"></div>
<span class="t" style="left:983.90px;top:753.17px;font-size:11.5px;line-height:11.5px;color:#444;letter-spacing:-0.380px;">Open</span>
<div class="tab" style="position:absolute;left:1031.7px;top:745.4px;width:49.59999999999991px;height:29.200000000000045px;border-top:1px solid #dcdcdc;"></div>
<span class="t" style="left:1044.50px;top:753.17px;font-size:11.5px;line-height:11.5px;color:#444;letter-spacing:-0.312px;">Type</span>
<svg style="left:1140px;top:90px" width="32" height="42" viewBox="1140 90 32 42"><path d="M1146.200,94.200L1146.200,121.600L1152.400,116.200L1157.200,125.600Q1158.300,127.300 1160.300,126.200Q1162.300,125 1161.400,123.200L1156.900,114.400L1166.200,113.800Z" fill="#f6f6f6" stroke="#111" stroke-width="1.700" stroke-linejoin="round"/></svg>
<div class="" style="position:absolute;left:2px;top:777.5px;width:1198px;height:18.5px;background:linear-gradient(#020202,#000);border-radius:0 0 7px 7px;"></div>
</div>
</body></html>
